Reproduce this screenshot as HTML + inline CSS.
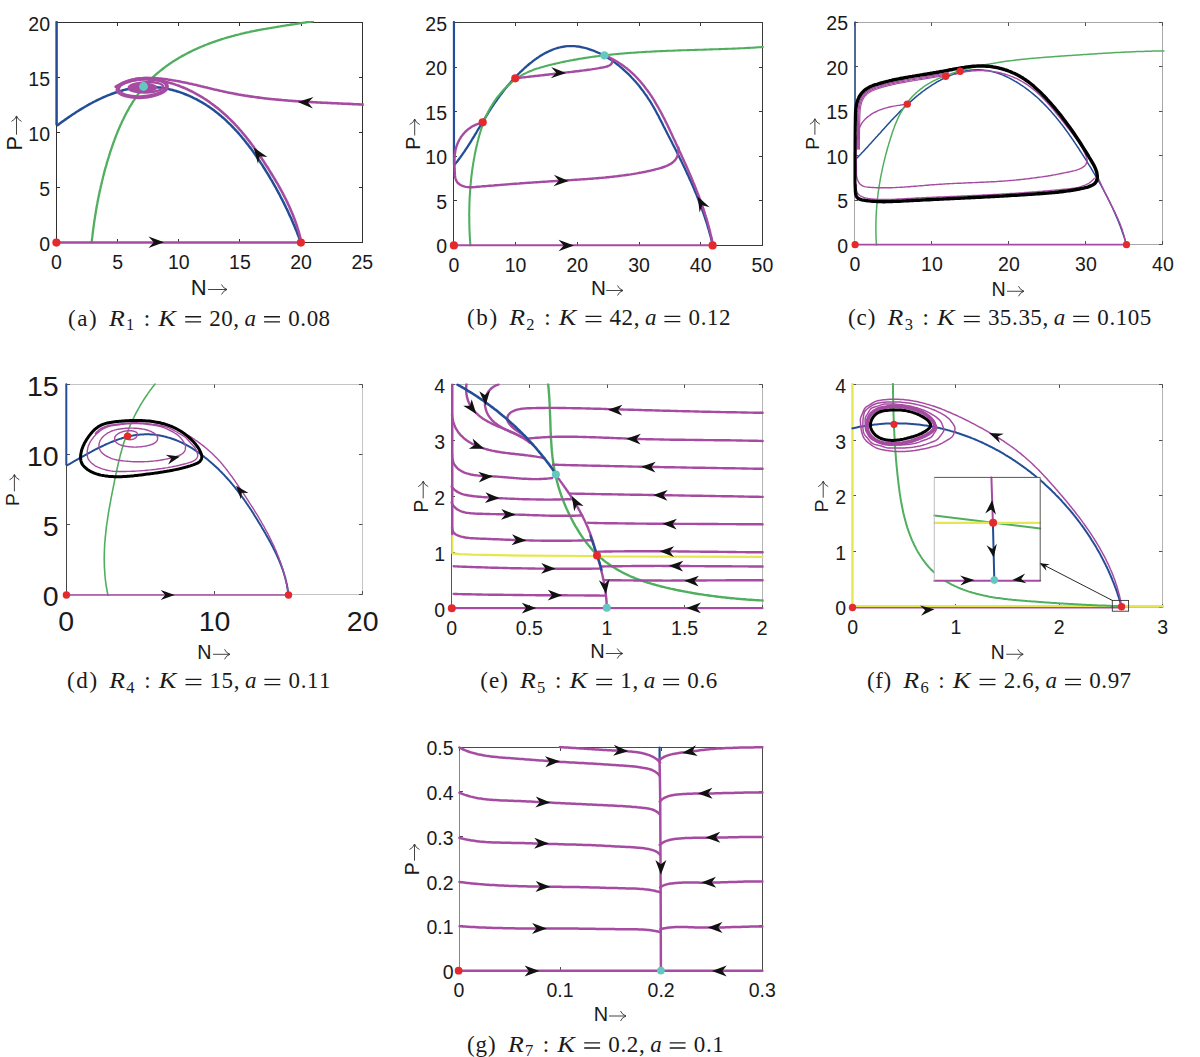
<!DOCTYPE html><html><head><meta charset="utf-8"><style>html,body{margin:0;padding:0;background:#fff;}svg{display:block;}</style></head><body><div id="w"><svg width="1200" height="1057" viewBox="0 0 1200 1057" font-family="Liberation Sans, sans-serif" fill="#1a1a1a"><g id="ax-a">
<rect x="56.50" y="22.50" width="306.00" height="220.00" fill="none" stroke="#303030" stroke-width="1"/>
<path d="M56.50 242.50v-3.5M56.50 22.50v3.5" stroke="#303030" stroke-width="1"/>
<text x="56.40" y="268.76" font-size="19.5" text-anchor="middle">0</text>
<path d="M117.50 242.50v-3.5M117.50 22.50v3.5" stroke="#303030" stroke-width="1"/>
<text x="117.58" y="268.76" font-size="19.5" text-anchor="middle">5</text>
<path d="M178.50 242.50v-3.5M178.50 22.50v3.5" stroke="#303030" stroke-width="1"/>
<text x="178.76" y="268.76" font-size="19.5" text-anchor="middle">10</text>
<path d="M239.50 242.50v-3.5M239.50 22.50v3.5" stroke="#303030" stroke-width="1"/>
<text x="239.94" y="268.76" font-size="19.5" text-anchor="middle">15</text>
<path d="M301.50 242.50v-3.5M301.50 22.50v3.5" stroke="#303030" stroke-width="1"/>
<text x="301.12" y="268.76" font-size="19.5" text-anchor="middle">20</text>
<path d="M362.50 242.50v-3.5M362.50 22.50v3.5" stroke="#303030" stroke-width="1"/>
<text x="362.30" y="268.76" font-size="19.5" text-anchor="middle">25</text>
<path d="M56.50 242.50h3.5M362.50 242.50h-3.5" stroke="#303030" stroke-width="1"/>
<text x="50.00" y="250.78" font-size="19.5" text-anchor="end">0</text>
<path d="M56.50 187.50h3.5M362.50 187.50h-3.5" stroke="#303030" stroke-width="1"/>
<text x="50.00" y="195.78" font-size="19.5" text-anchor="end">5</text>
<path d="M56.50 132.50h3.5M362.50 132.50h-3.5" stroke="#303030" stroke-width="1"/>
<text x="50.00" y="140.78" font-size="19.5" text-anchor="end">10</text>
<path d="M56.50 77.50h3.5M362.50 77.50h-3.5" stroke="#303030" stroke-width="1"/>
<text x="50.00" y="85.78" font-size="19.5" text-anchor="end">15</text>
<path d="M56.50 22.50h3.5M362.50 22.50h-3.5" stroke="#303030" stroke-width="1"/>
<text x="50.00" y="30.78" font-size="19.5" text-anchor="end">20</text>
<clipPath id="cl-a"><rect x="54.90" y="21.00" width="308.90" height="223.00"/></clipPath><g clip-path="url(#cl-a)"><path d="M56.6 22.0L56.6 124.3" fill="none" stroke="#234E96" stroke-width="2.5" stroke-linejoin="round" stroke-linecap="round" /><path d="M57.8 125.1L58.9 124.2L60.1 123.3L61.2 122.5L62.4 121.6L63.6 120.8L64.8 119.9L66.0 119.1L67.2 118.2L68.4 117.4L69.7 116.5L70.9 115.7L72.2 114.8L73.4 114.0L74.7 113.2L76.0 112.3L77.2 111.5L78.5 110.7L79.8 109.9L81.1 109.1L82.4 108.3L83.8 107.5L85.1 106.7L86.4 106.0L87.8 105.2L89.1 104.4L90.5 103.7L91.8 103.0L93.2 102.2L94.6 101.5L95.9 100.8L97.3 100.1L98.7 99.5L100.1 98.8L101.5 98.2L102.9 97.5L104.3 96.9L105.7 96.3L107.1 95.7L108.6 95.1L110.0 94.6L111.4 94.0L112.9 93.5L114.3 93.0L115.7 92.5L117.2 92.0L118.6 91.5L120.1 91.1L121.6 90.7L123.0 90.3L124.5 89.9L125.9 89.5L127.4 89.2L128.9 88.9L130.4 88.6L131.8 88.3L133.3 88.0L134.8 87.8L136.3 87.6L137.7 87.4L139.2 87.2L140.7 87.1L142.2 87.0L143.7 86.9L145.2 86.8L146.7 86.8L148.1 86.8L149.6 86.8L151.1 86.8L152.6 86.9L154.1 87.0L155.6 87.1L157.0 87.2L158.5 87.4L160.0 87.6L161.5 87.8L163.0 88.0L164.4 88.3L165.9 88.5L167.4 88.8L168.8 89.1L170.3 89.5L171.7 89.8L173.2 90.2L174.6 90.6L176.1 91.0L177.5 91.5L179.0 91.9L180.4 92.4L181.8 92.9L183.2 93.4L184.6 94.0L186.0 94.5L187.4 95.1L188.8 95.7L190.2 96.3L191.6 96.9L192.9 97.6L194.3 98.3L195.7 98.9L197.0 99.6L198.3 100.3L199.7 101.1L201.0 101.8L202.3 102.6L203.6 103.4L204.9 104.1L206.1 105.0L207.4 105.8L208.7 106.6L209.9 107.5L211.1 108.3L212.4 109.2L213.6 110.1L214.8 111.0L216.0 111.9L217.2 112.9L218.3 113.8L219.5 114.8L220.7 115.7L221.8 116.7L223.0 117.7L224.1 118.7L225.2 119.7L226.3 120.7L227.4 121.8L228.5 122.8L229.6 123.9L230.7 124.9L231.7 126.0L232.8 127.1L233.8 128.2L234.9 129.3L235.9 130.4L236.9 131.5L238.0 132.7L239.0 133.8L240.0 135.0L241.0 136.1L241.9 137.3L242.9 138.5L243.9 139.6L244.8 140.8L245.8 142.0L246.7 143.2L247.7 144.4L248.6 145.6L249.5 146.9L250.5 148.1L251.4 149.3L252.3 150.5L253.2 151.8L254.1 153.0L254.9 154.3L255.8 155.5L256.7 156.8L257.5 158.0L258.4 159.3L259.3 160.6L260.1 161.8L260.9 163.1L261.8 164.4L262.6 165.7L263.4 167.0L264.2 168.2L265.0 169.5L265.8 170.8L266.6 172.1L267.4 173.4L268.2 174.7L269.0 176.0L269.8 177.3L270.5 178.6L271.3 179.9L272.1 181.2L272.8 182.5L273.6 183.8L274.3 185.1L275.0 186.4L275.8 187.7L276.5 189.0L277.2 190.4L277.9 191.7L278.6 193.0L279.4 194.3L280.1 195.7L280.7 197.0L281.4 198.3L282.1 199.7L282.8 201.0L283.5 202.3L284.1 203.7L284.8 205.0L285.5 206.4L286.1 207.7L286.8 209.1L287.4 210.4L288.1 211.8L288.7 213.2L289.3 214.5L289.9 215.9L290.6 217.3L291.2 218.6L291.8 220.0L292.4 221.4L293.0 222.8L293.6 224.2L294.2 225.5L294.8 226.9L295.3 228.3L295.9 229.7L296.5 231.1L297.1 232.5L297.6 234.0L298.2 235.4L298.7 236.8L299.3 238.2L299.8 239.6L300.4 241.0L300.9 242.5" fill="none" stroke="#234E96" stroke-width="2.5" stroke-linejoin="round" stroke-linecap="round" /><path d="M91.7 242.4L91.8 240.9L92.0 239.4L92.2 237.9L92.4 236.4L92.5 234.9L92.7 233.4L92.9 231.9L93.1 230.4L93.3 228.9L93.5 227.4L93.7 225.9L93.9 224.4L94.1 222.9L94.3 221.5L94.5 220.0L94.8 218.5L95.0 217.0L95.2 215.5L95.5 214.0L95.7 212.5L96.0 211.1L96.2 209.6L96.5 208.1L96.7 206.6L97.0 205.1L97.3 203.7L97.5 202.2L97.8 200.7L98.1 199.2L98.4 197.8L98.7 196.3L99.0 194.8L99.3 193.4L99.6 191.9L99.9 190.4L100.3 189.0L100.6 187.5L100.9 186.0L101.3 184.6L101.6 183.1L102.0 181.6L102.3 180.2L102.7 178.7L103.0 177.2L103.4 175.8L103.8 174.3L104.2 172.9L104.5 171.4L104.9 169.9L105.3 168.5L105.7 167.0L106.2 165.6L106.6 164.1L107.0 162.6L107.4 161.2L107.9 159.7L108.3 158.3L108.8 156.8L109.2 155.4L109.7 153.9L110.1 152.4L110.6 151.0L111.1 149.5L111.6 148.1L112.1 146.6L112.6 145.2L113.1 143.7L113.6 142.3L114.1 140.9L114.7 139.4L115.2 138.0L115.7 136.6L116.3 135.1L116.9 133.7L117.4 132.3L118.0 130.9L118.6 129.5L119.2 128.1L119.8 126.7L120.4 125.3L121.1 123.9L121.7 122.5L122.3 121.1L123.0 119.8L123.7 118.4L124.3 117.0L125.0 115.7L125.7 114.3L126.4 113.0L127.1 111.7L127.9 110.4L128.6 109.0L129.3 107.7L130.1 106.4L130.9 105.1L131.7 103.9L132.4 102.6L133.2 101.3L134.1 100.1L134.9 98.8L135.7 97.6L136.6 96.4L137.4 95.1L138.3 93.9L139.2 92.7L140.1 91.6L141.0 90.4L141.9 89.2L142.9 88.1L143.8 86.9L144.8 85.8L145.8 84.7L146.8 83.6L147.8 82.5L148.8 81.4L149.8 80.4L150.9 79.3L151.9 78.3L153.0 77.2L154.1 76.2L155.2 75.2L156.3 74.2L157.4 73.2L158.5 72.3L159.7 71.3L160.8 70.4L162.0 69.5L163.2 68.5L164.4 67.6L165.6 66.7L166.8 65.8L168.0 65.0L169.2 64.1L170.5 63.3L171.7 62.4L173.0 61.6L174.3 60.8L175.5 60.0L176.8 59.2L178.1 58.4L179.4 57.6L180.7 56.9L182.0 56.1L183.4 55.4L184.7 54.7L186.0 54.0L187.4 53.3L188.7 52.6L190.1 51.9L191.4 51.2L192.8 50.5L194.2 49.9L195.6 49.2L197.0 48.6L198.4 48.0L199.8 47.4L201.2 46.8L202.6 46.2L204.0 45.6L205.4 45.0L206.8 44.5L208.3 43.9L209.7 43.4L211.1 42.9L212.6 42.3L214.0 41.8L215.4 41.3L216.9 40.8L218.3 40.3L219.8 39.9L221.2 39.4L222.7 38.9L224.1 38.5L225.6 38.0L227.0 37.6L228.5 37.2L229.9 36.8L231.4 36.4L232.9 36.0L234.3 35.6L235.8 35.2L237.3 34.8L238.7 34.5L240.2 34.1L241.7 33.7L243.1 33.4L244.6 33.0L246.1 32.7L247.6 32.4L249.0 32.1L250.5 31.7L252.0 31.4L253.5 31.1L254.9 30.8L256.4 30.5L257.9 30.2L259.4 30.0L260.8 29.7L262.3 29.4L263.8 29.1L265.3 28.9L266.8 28.6L268.3 28.3L269.7 28.1L271.2 27.8L272.7 27.6L274.2 27.3L275.7 27.1L277.2 26.8L278.7 26.6L280.1 26.4L281.6 26.1L283.1 25.9L284.6 25.7L286.1 25.4L287.6 25.2L289.1 25.0L290.6 24.7L292.0 24.5L293.5 24.3L295.0 24.1L296.5 23.8L298.0 23.6L299.5 23.4L301.0 23.2L302.5 22.9L303.9 22.7L305.4 22.5L306.9 22.2L308.4 22.0L309.9 21.8L311.4 21.6L312.9 21.3" fill="none" stroke="#50AF5F" stroke-width="2.3" stroke-linejoin="round" stroke-linecap="round" /><path d="M56.4 242.6L300.9 242.6" fill="none" stroke="#A64BA2" stroke-width="2.5" stroke-linejoin="round" stroke-linecap="round" /><ellipse cx="142.20" cy="88.00" rx="25.60" ry="9.80" transform="rotate(-4 142.20 88.00)" fill="none" stroke="#A64BA2" stroke-width="2.4"/><ellipse cx="142.50" cy="87.80" rx="23.60" ry="8.30" transform="rotate(-4 142.50 87.80)" fill="none" stroke="#A64BA2" stroke-width="2.2"/><ellipse cx="146.00" cy="87.30" rx="17.30" ry="5.20" transform="rotate(-2 146.00 87.30)" fill="none" stroke="#A64BA2" stroke-width="2.4"/><ellipse cx="142.8" cy="87.5" rx="14.5" ry="5.0" fill="#A64BA2"/><path d="M301.0 241.0L300.7 239.6L300.4 238.1L300.0 236.6L299.6 235.2L299.2 233.7L298.8 232.2L298.4 230.8L298.0 229.4L297.5 227.9L297.1 226.5L296.6 225.0L296.1 223.6L295.6 222.2L295.1 220.8L294.6 219.4L294.1 217.9L293.5 216.5L293.0 215.1L292.4 213.7L291.8 212.3L291.2 211.0L290.6 209.6L290.0 208.2L289.4 206.8L288.8 205.4L288.1 204.1L287.5 202.7L286.8 201.3L286.2 200.0L285.5 198.6L284.8 197.3L284.1 195.9L283.4 194.6L282.7 193.2L282.0 191.9L281.3 190.5L280.5 189.2L279.8 187.9L279.1 186.6L278.3 185.2L277.6 183.9L276.8 182.6L276.0 181.3L275.3 180.0L274.5 178.7L273.7 177.4L272.9 176.1L272.1 174.8L271.3 173.5L270.5 172.2L269.7 170.9L268.9 169.6L268.1 168.3L267.3 167.0L266.4 165.7L265.6 164.5L264.8 163.2L264.0 161.9L263.1 160.6L262.3 159.4L261.4 158.1L260.6 156.9L259.7 155.6L258.9 154.4L258.0 153.1L257.1 151.9L256.3 150.6L255.4 149.4L254.5 148.2L253.6 146.9L252.7 145.7L251.8 144.5L250.9 143.3L250.0 142.1L249.1 140.9L248.1 139.7L247.2 138.5L246.3 137.3L245.3 136.2L244.4 135.0L243.4 133.8L242.4 132.7L241.5 131.5L240.5 130.4L239.5 129.3L238.5 128.1L237.5 127.0L236.5 125.9L235.4 124.8L234.4 123.7L233.4 122.6L232.3 121.5L231.2 120.5L230.2 119.4L229.1 118.4L228.0 117.3L226.9 116.3L225.8 115.3L224.7 114.2L223.5 113.2L222.4 112.2L221.2 111.2L220.1 110.3L218.9 109.3L217.7 108.3L216.5 107.4L215.3 106.4L214.1 105.5L212.9 104.6L211.7 103.7L210.4 102.8L209.2 101.9L207.9 101.0L206.7 100.2L205.4 99.3L204.1 98.5L202.8 97.7L201.5 96.9L200.2 96.1L198.9 95.3L197.6 94.6L196.2 93.8L194.9 93.1L193.5 92.4L192.2 91.7L190.8 91.0L189.4 90.3L188.1 89.7L186.7 89.0L185.3 88.4L183.9 87.8L182.5 87.2L181.1 86.7L179.7 86.1L178.2 85.6L176.8 85.1L175.4 84.6L173.9 84.1L172.5 83.6L171.0 83.2L169.6 82.8L168.1 82.4L166.6 82.0L165.2 81.6L163.7 81.3L162.2 81.0L160.7 80.7L159.2 80.4L157.8 80.2L156.3 80.0L154.8 79.8L153.3 79.7L151.8 79.5L150.3 79.4L148.8 79.4L147.3 79.3L145.8 79.3L144.4 79.3L142.9 79.4L141.4 79.5L139.9 79.6L138.4 79.7L137.0 79.9L135.5 80.2L134.0 80.4L132.6 80.7L131.1 81.1L129.7 81.5L128.3 81.9L126.8 82.3L125.4 82.8L124.0 83.4L122.6 84.0L121.2 84.6L119.8 85.3L118.4 86.0L117.0 86.8" fill="none" stroke="#A64BA2" stroke-width="2.6" stroke-linejoin="round" stroke-linecap="round" /><path d="M363.6 104.6L362.0 104.5L360.5 104.5L359.0 104.4L357.5 104.3L355.9 104.2L354.4 104.2L352.9 104.1L351.4 104.0L349.9 103.9L348.3 103.9L346.8 103.8L345.3 103.7L343.8 103.7L342.3 103.6L340.7 103.5L339.2 103.5L337.7 103.4L336.2 103.3L334.7 103.2L333.1 103.2L331.6 103.1L330.1 103.0L328.6 103.0L327.1 102.9L325.5 102.8L324.0 102.8L322.5 102.7L321.0 102.6L319.5 102.5L318.0 102.5L316.4 102.4L314.9 102.3L313.4 102.2L311.9 102.1L310.4 102.0L308.9 102.0L307.4 101.9L305.8 101.8L304.3 101.7L302.8 101.6L301.3 101.5L299.8 101.4L298.3 101.3L296.8 101.2L295.3 101.1L293.7 101.0L292.2 100.9L290.7 100.8L289.2 100.7L287.7 100.5L286.2 100.4L284.7 100.3L283.2 100.2L281.7 100.0L280.2 99.9L278.7 99.8L277.1 99.6L275.6 99.5L274.1 99.3L272.6 99.2L271.1 99.0L269.6 98.9L268.1 98.7L266.6 98.5L265.1 98.4L263.6 98.2L262.1 98.0L260.6 97.8L259.1 97.6L257.6 97.4L256.1 97.2L254.6 97.0L253.1 96.8L251.6 96.6L250.1 96.4L248.6 96.1L247.1 95.9L245.6 95.7L244.1 95.4L242.6 95.2L241.1 94.9L239.6 94.7L238.1 94.4L236.6 94.1L235.1 93.9L233.7 93.6L232.2 93.3L230.7 93.0L229.2 92.7L227.7 92.4L226.2 92.1L224.7 91.7L223.2 91.4L221.7 91.1L220.2 90.8L218.8 90.4L217.3 90.1L215.8 89.7L214.3 89.4L212.8 89.0L211.3 88.7L209.8 88.3L208.3 88.0L206.9 87.6L205.4 87.3L203.9 86.9L202.4 86.5L200.9 86.2L199.4 85.8L197.9 85.5L196.4 85.1L195.0 84.8L193.5 84.5L192.0 84.1L190.5 83.8L189.0 83.5L187.5 83.1L186.0 82.8L184.5 82.5L183.0 82.2L181.5 81.9L180.1 81.6L178.6 81.3L177.1 81.0L175.6 80.8L174.1 80.5L172.6 80.3L171.1 80.0L169.6 79.8L168.1 79.6L166.6 79.3L165.1 79.1L163.6 79.0L162.1 78.8L160.6 78.6L159.1 78.5L157.6 78.3L156.1 78.2L154.6 78.1L153.1 78.1L151.6 78.0L150.1 78.0L148.6 78.0L147.1 78.0L145.6 78.0L144.1 78.1L142.6 78.2L141.2 78.3L139.7 78.5L138.2 78.6L136.8 78.9L135.3 79.1L133.9 79.4L132.4 79.7L131.0 80.1L129.5 80.5L128.1 80.9L126.7 81.4L125.3 81.9L123.9 82.4L122.5 83.0L121.1 83.7L119.7 84.4L118.4 85.1L117.0 85.9L115.7 86.7" fill="none" stroke="#A64BA2" stroke-width="2.6" stroke-linejoin="round" stroke-linecap="round" /></g><path d="M164.00 242.30L148.50 248.10L153.70 242.30L148.50 236.50Z" fill="#111111"/><path d="M253.80 147.70L267.43 157.08L259.70 156.14L257.93 163.73Z" fill="#111111"/><path d="M297.70 102.10L313.44 96.98L307.99 102.55L312.93 108.57Z" fill="#111111"/><circle cx="56.40" cy="242.60" r="4.1" fill="#E52A2E"/><circle cx="300.90" cy="242.60" r="4.1" fill="#E52A2E"/><circle cx="143.50" cy="86.50" r="4.4" fill="#64C8BE"/>
<text x="190.82" y="294.95" font-size="22.0">N</text><path d="M208.00 289.50H226.40M221.50 284.50Q223.15 288.25 227.00 289.50Q223.15 290.75 221.50 294.50" stroke="#222" stroke-width="0.85" fill="none"/>
<g transform="translate(21.90,148.60) rotate(-90)"><text x="-1.88" y="-0.3" font-size="21.5">P</text><path d="M13.90 -5.40H32.10M27.20 -10.40Q28.85 -6.65 32.70 -5.40Q28.85 -4.15 27.20 -0.40" stroke="#222" stroke-width="0.85" fill="none"/></g>
<g font-family="Liberation Serif, serif" font-size="23.0"><text x="71.74" y="325.60" text-anchor="middle">(</text><text x="82.34" y="325.60" text-anchor="middle">a</text><text x="92.94" y="325.60" text-anchor="middle">)</text><text x="108.91" y="325.60" font-style="italic" textLength="15.8" lengthAdjust="spacingAndGlyphs">R</text><text x="130.16" y="329.90" text-anchor="middle" font-size="16.5">1</text><text x="147.05" y="325.60" text-anchor="middle">:</text><text x="158.39" y="325.60" font-style="italic" textLength="17.6" lengthAdjust="spacingAndGlyphs">K</text><path d="M185.20 316.70H201.08M185.20 321.90H201.08" stroke="#1a1a1a" stroke-width="1.35"/><text x="215.01" y="325.60" text-anchor="middle">2</text><text x="226.93" y="325.60" text-anchor="middle">0</text><text x="236.21" y="325.60" text-anchor="middle">,</text><text x="250.31" y="325.60" text-anchor="middle" font-style="italic">a</text><path d="M264.08 316.70H279.96M264.08 321.90H279.96" stroke="#1a1a1a" stroke-width="1.35"/><text x="293.88" y="325.60" text-anchor="middle">0</text><text x="303.16" y="325.60" text-anchor="middle">.</text><text x="312.44" y="325.60" text-anchor="middle">0</text><text x="324.37" y="325.60" text-anchor="middle">8</text></g>
</g>
<g id="ax-b">
<rect x="453.50" y="22.50" width="309.00" height="223.00" fill="none" stroke="#3a3a3a" stroke-width="1"/>
<path d="M453.50 245.50v-3.5M453.50 22.50v3.5" stroke="#3a3a3a" stroke-width="1"/>
<text x="453.90" y="271.76" font-size="19.5" text-anchor="middle">0</text>
<path d="M515.50 245.50v-3.5M515.50 22.50v3.5" stroke="#3a3a3a" stroke-width="1"/>
<text x="515.60" y="271.76" font-size="19.5" text-anchor="middle">10</text>
<path d="M577.50 245.50v-3.5M577.50 22.50v3.5" stroke="#3a3a3a" stroke-width="1"/>
<text x="577.30" y="271.76" font-size="19.5" text-anchor="middle">20</text>
<path d="M639.50 245.50v-3.5M639.50 22.50v3.5" stroke="#3a3a3a" stroke-width="1"/>
<text x="639.00" y="271.76" font-size="19.5" text-anchor="middle">30</text>
<path d="M700.50 245.50v-3.5M700.50 22.50v3.5" stroke="#3a3a3a" stroke-width="1"/>
<text x="700.70" y="271.76" font-size="19.5" text-anchor="middle">40</text>
<path d="M762.50 245.50v-3.5M762.50 22.50v3.5" stroke="#3a3a3a" stroke-width="1"/>
<text x="762.40" y="271.76" font-size="19.5" text-anchor="middle">50</text>
<path d="M453.50 245.50h3.5M762.50 245.50h-3.5" stroke="#3a3a3a" stroke-width="1"/>
<text x="447.00" y="253.28" font-size="19.5" text-anchor="end">0</text>
<path d="M453.50 200.50h3.5M762.50 200.50h-3.5" stroke="#3a3a3a" stroke-width="1"/>
<text x="447.00" y="208.78" font-size="19.5" text-anchor="end">5</text>
<path d="M453.50 156.50h3.5M762.50 156.50h-3.5" stroke="#3a3a3a" stroke-width="1"/>
<text x="447.00" y="164.28" font-size="19.5" text-anchor="end">10</text>
<path d="M453.50 111.50h3.5M762.50 111.50h-3.5" stroke="#3a3a3a" stroke-width="1"/>
<text x="447.00" y="119.78" font-size="19.5" text-anchor="end">15</text>
<path d="M453.50 67.50h3.5M762.50 67.50h-3.5" stroke="#3a3a3a" stroke-width="1"/>
<text x="447.00" y="75.28" font-size="19.5" text-anchor="end">20</text>
<path d="M453.50 22.50h3.5M762.50 22.50h-3.5" stroke="#3a3a3a" stroke-width="1"/>
<text x="447.00" y="30.78" font-size="19.5" text-anchor="end">25</text>
<clipPath id="cl-b"><rect x="452.40" y="21.00" width="311.50" height="225.50"/></clipPath><g clip-path="url(#cl-b)"><path d="M453.9 22.0L453.9 164.3" fill="none" stroke="#234E96" stroke-width="2.3" stroke-linejoin="round" stroke-linecap="round" /><path d="M454.5 164.8L455.5 163.6L456.4 162.4L457.4 161.2L458.3 160.0L459.2 158.8L460.1 157.6L461.0 156.3L461.9 155.1L462.7 153.9L463.6 152.6L464.5 151.4L465.3 150.1L466.1 148.9L467.0 147.6L467.8 146.4L468.6 145.1L469.4 143.8L470.2 142.6L471.0 141.3L471.8 140.0L472.6 138.7L473.4 137.4L474.2 136.1L474.9 134.9L475.7 133.6L476.5 132.3L477.2 131.0L478.0 129.7L478.8 128.4L479.6 127.1L480.3 125.8L481.1 124.5L481.9 123.2L482.7 121.9L483.4 120.7L484.2 119.4L485.0 118.1L485.8 116.8L486.6 115.5L487.4 114.3L488.2 113.0L489.0 111.7L489.8 110.4L490.6 109.2L491.4 107.9L492.2 106.7L493.1 105.4L493.9 104.2L494.8 102.9L495.6 101.7L496.5 100.5L497.4 99.2L498.2 98.0L499.1 96.8L500.0 95.6L500.9 94.4L501.8 93.2L502.7 92.0L503.6 90.8L504.6 89.6L505.5 88.4L506.5 87.3L507.4 86.1L508.4 85.0L509.4 83.8L510.4 82.7L511.3 81.5L512.4 80.4L513.4 79.3L514.4 78.2L515.4 77.1L516.5 76.0L517.5 74.9L518.6 73.8L519.7 72.7L520.8 71.7L521.9 70.6L523.0 69.6L524.1 68.5L525.2 67.5L526.4 66.5L527.5 65.5L528.7 64.5L529.9 63.5L531.1 62.6L532.3 61.6L533.5 60.7L534.7 59.8L536.0 58.9L537.2 58.0L538.5 57.2L539.7 56.3L541.0 55.5L542.3 54.7L543.6 54.0L544.9 53.3L546.2 52.6L547.6 51.9L548.9 51.2L550.3 50.6L551.6 50.1L553.0 49.5L554.4 49.0L555.8 48.5L557.2 48.1L558.6 47.7L560.0 47.4L561.4 47.0L562.8 46.8L564.3 46.5L565.7 46.3L567.2 46.2L568.7 46.1L570.2 46.1L571.6 46.1L573.1 46.1L574.6 46.2L576.1 46.3L577.6 46.5L579.2 46.7L580.7 47.0L582.2 47.3L583.7 47.6L585.2 48.0L586.7 48.4L588.1 48.8L589.6 49.3L591.1 49.8L592.5 50.3L594.0 50.9L595.4 51.5L596.8 52.1L598.2 52.7L599.6 53.3L601.0 54.0L602.3 54.7L603.7 55.4L605.0 56.2L606.3 56.9L607.6 57.7L608.8 58.5L610.1 59.3L611.4 60.1L612.6 61.0L613.8 61.8L615.0 62.7L616.2 63.6L617.4 64.5L618.6 65.4L619.8 66.4L620.9 67.3L622.1 68.3L623.2 69.3L624.3 70.3L625.4 71.3L626.5 72.3L627.6 73.4L628.7 74.4L629.8 75.5L630.8 76.6L631.8 77.7L632.9 78.8L633.9 79.9L634.9 81.0L635.9 82.1L636.9 83.3L637.9 84.4L638.8 85.6L639.8 86.8L640.7 88.0L641.6 89.2L642.6 90.4L643.5 91.6L644.3 92.8L645.2 94.1L646.1 95.3L647.0 96.5L647.8 97.8L648.6 99.1L649.5 100.3L650.3 101.6L651.1 102.9L651.8 104.2L652.6 105.5L653.4 106.8L654.1 108.1L654.9 109.4L655.6 110.7L656.3 112.0L657.0 113.4L657.7 114.7L658.5 116.0L659.1 117.4L659.8 118.7L660.5 120.0L661.2 121.4L661.9 122.7L662.6 124.1L663.2 125.4L663.9 126.8L664.6 128.1L665.3 129.5L666.0 130.8L666.6 132.1L667.3 133.5L668.0 134.8L668.7 136.2L669.4 137.5L670.1 138.8L670.8 140.2L671.5 141.5L672.2 142.9L672.8 144.2L673.5 145.6L674.2 146.9L674.9 148.2L675.6 149.6L676.3 150.9L676.9 152.3L677.6 153.6L678.3 155.0L679.0 156.3L679.6 157.7L680.3 159.1L681.0 160.4L681.6 161.8L682.3 163.1L682.9 164.5L683.6 165.8L684.2 167.2L684.9 168.6L685.5 169.9L686.2 171.3L686.8 172.7L687.4 174.1L688.1 175.4L688.7 176.8L689.3 178.2L689.9 179.6L690.6 180.9L691.2 182.3L691.8 183.7L692.4 185.1L693.0 186.5L693.6 187.9L694.2 189.3L694.7 190.7L695.3 192.1L695.9 193.4L696.5 194.8L697.0 196.2L697.6 197.6L698.1 199.1L698.7 200.5L699.2 201.9L699.8 203.3L700.3 204.7L700.8 206.1L701.4 207.5L701.9 208.9L702.4 210.4L702.9 211.8L703.4 213.2L703.9 214.6L704.4 216.1L704.9 217.5L705.3 218.9L705.8 220.4L706.3 221.8L706.7 223.2L707.2 224.7L707.6 226.1L708.0 227.6L708.5 229.0L708.9 230.5L709.3 231.9L709.7 233.4L710.1 234.8L710.5 236.3L710.9 237.7L711.3 239.2L711.6 240.7L712.0 242.1L712.4 243.6L712.7 245.1" fill="none" stroke="#234E96" stroke-width="2.3" stroke-linejoin="round" stroke-linecap="round" /><path d="M470.4 245.4L470.3 243.9L470.2 242.5L470.1 241.0L470.0 239.5L469.9 238.0L469.8 236.5L469.7 235.0L469.7 233.6L469.6 232.1L469.5 230.6L469.5 229.1L469.4 227.6L469.4 226.1L469.4 224.6L469.3 223.1L469.3 221.6L469.3 220.1L469.3 218.6L469.3 217.1L469.2 215.6L469.2 214.0L469.3 212.5L469.3 211.0L469.3 209.5L469.3 208.0L469.4 206.5L469.4 205.0L469.4 203.5L469.5 202.0L469.6 200.5L469.6 199.0L469.7 197.4L469.8 195.9L469.9 194.4L470.0 192.9L470.1 191.4L470.2 189.9L470.3 188.4L470.4 186.9L470.5 185.4L470.7 183.9L470.8 182.4L471.0 180.8L471.1 179.3L471.3 177.8L471.4 176.3L471.6 174.8L471.8 173.3L472.0 171.8L472.2 170.3L472.4 168.8L472.6 167.3L472.9 165.9L473.1 164.4L473.3 162.9L473.6 161.4L473.8 159.9L474.1 158.4L474.4 156.9L474.6 155.4L474.9 154.0L475.2 152.5L475.5 151.0L475.8 149.6L476.2 148.1L476.5 146.6L476.8 145.2L477.2 143.7L477.5 142.2L477.9 140.8L478.3 139.3L478.6 137.9L479.0 136.4L479.4 135.0L479.8 133.6L480.3 132.1L480.7 130.7L481.1 129.3L481.6 127.8L482.1 126.4L482.6 125.0L483.1 123.6L483.6 122.2L484.1 120.8L484.7 119.4L485.3 118.1L485.9 116.7L486.5 115.3L487.1 114.0L487.8 112.6L488.5 111.3L489.2 109.9L489.9 108.6L490.7 107.3L491.5 106.0L492.3 104.7L493.1 103.4L493.9 102.1L494.8 100.9L495.6 99.6L496.5 98.4L497.4 97.2L498.4 96.0L499.3 94.8L500.3 93.6L501.3 92.5L502.3 91.3L503.3 90.2L504.4 89.1L505.4 88.0L506.5 87.0L507.6 85.9L508.7 84.9L509.8 83.9L511.0 82.9L512.1 81.9L513.3 81.0L514.5 80.1L515.7 79.2L517.0 78.3L518.2 77.5L519.5 76.7L520.7 75.9L522.0 75.1L523.3 74.4L524.6 73.7L526.0 73.1L527.3 72.4L528.7 71.8L530.0 71.2L531.4 70.7L532.8 70.1L534.2 69.6L535.6 69.1L537.1 68.6L538.5 68.2L539.9 67.7L541.4 67.3L542.8 66.9L544.3 66.5L545.7 66.1L547.2 65.7L548.6 65.3L550.1 64.9L551.6 64.6L553.0 64.2L554.5 63.9L556.0 63.5L557.4 63.2L558.9 62.9L560.4 62.5L561.8 62.2L563.3 61.9L564.8 61.6L566.3 61.3L567.7 61.0L569.2 60.7L570.7 60.4L572.2 60.2L573.7 59.9L575.1 59.6L576.6 59.4L578.1 59.1L579.6 58.8L581.1 58.6L582.5 58.4L584.0 58.1L585.5 57.9L587.0 57.7L588.5 57.4L590.0 57.2L591.5 57.0L593.0 56.8L594.4 56.6L595.9 56.4L597.4 56.2L598.9 56.0L600.4 55.8L601.9 55.6L603.4 55.5L604.9 55.3L606.4 55.1L607.9 55.0L609.4 54.8L610.9 54.6L612.4 54.5L613.9 54.3L615.4 54.2L616.9 54.0L618.4 53.9L619.9 53.8L621.4 53.6L622.9 53.5L624.4 53.4L625.9 53.3L627.4 53.1L628.9 53.0L630.4 52.9L631.9 52.8L633.4 52.7L634.9 52.6L636.4 52.5L637.9 52.4L639.4 52.3L640.9 52.2L642.4 52.1L643.9 52.0L645.5 51.9L647.0 51.8L648.5 51.7L650.0 51.7L651.5 51.6L653.0 51.5L654.5 51.4L656.0 51.4L657.5 51.3L659.0 51.2L660.5 51.1L662.0 51.1L663.6 51.0L665.1 51.0L666.6 50.9L668.1 50.8L669.6 50.8L671.1 50.7L672.6 50.7L674.1 50.6L675.6 50.5L677.1 50.5L678.7 50.4L680.2 50.4L681.7 50.3L683.2 50.3L684.7 50.2L686.2 50.2L687.7 50.1L689.2 50.1L690.7 50.0L692.2 50.0L693.8 50.0L695.3 49.9L696.8 49.9L698.3 49.8L699.8 49.8L701.3 49.7L702.8 49.7L704.3 49.6L705.8 49.6L707.3 49.5L708.8 49.5L710.3 49.4L711.9 49.4L713.4 49.3L714.9 49.3L716.4 49.3L717.9 49.2L719.4 49.1L720.9 49.1L722.4 49.0L723.9 49.0L725.4 48.9L726.9 48.9L728.4 48.8L729.9 48.8L731.4 48.7L732.9 48.6L734.4 48.6L735.9 48.5L737.4 48.5L738.9 48.4L740.4 48.3L741.9 48.2L743.4 48.2L744.9 48.1L746.4 48.0L747.9 47.9L749.4 47.9L750.9 47.8L752.4 47.7L753.9 47.6L755.4 47.5L756.9 47.4L758.4 47.3L759.9 47.2L761.4 47.1L762.9 47.0" fill="none" stroke="#50AF5F" stroke-width="2.1" stroke-linejoin="round" stroke-linecap="round" /><path d="M453.9 245.4L712.6 245.4" fill="none" stroke="#A64BA2" stroke-width="2.3" stroke-linejoin="round" stroke-linecap="round" /><path d="M483.0 122.6L481.4 122.9L479.8 123.3L478.3 123.8L476.8 124.3L475.4 124.9L474.0 125.6L472.6 126.3L471.3 127.1L470.1 127.9L468.9 128.7L467.7 129.7L466.6 130.6L465.5 131.6L464.5 132.7L463.5 133.8L462.6 134.9L461.7 136.1L460.8 137.3L460.1 138.6L459.3 139.8L458.6 141.2L458.0 142.5L457.4 143.9L456.9 145.2L456.4 146.7L456.0 148.1L455.6 149.5L455.3 151.0L455.1 152.5L454.9 154.0L454.7 155.5L454.6 157.0L454.5 158.5L454.5 160.1L454.5 161.6L454.5 163.2L454.5 164.8L454.5 166.3L454.6 167.9L454.7 169.5L454.7 171.0L454.8 172.6L454.9 174.2L455.0 175.7L455.2 177.2L455.5 178.6L456.0 179.9L456.6 181.1L457.3 182.3L458.3 183.3L459.4 184.2L460.6 185.0L461.9 185.7L463.3 186.2L464.8 186.6L466.2 186.9L467.7 187.1L469.3 187.2L470.8 187.2L472.4 187.2L473.9 187.1L475.5 187.0L477.1 186.8L478.6 186.7L480.2 186.6L481.7 186.4L483.2 186.3L484.8 186.2L486.3 186.1L487.8 185.9L489.3 185.8L490.8 185.7L492.3 185.6L493.8 185.5L495.3 185.3L496.7 185.2L498.2 185.1L499.7 185.0L501.2 184.9L502.7 184.7L504.2 184.6L505.7 184.5L507.2 184.4L508.7 184.3L510.2 184.1L511.7 184.0L513.2 183.9L514.7 183.8L516.2 183.7L517.7 183.6L519.3 183.5L520.8 183.3L522.3 183.2L523.8 183.1L525.3 183.0L526.8 182.9L528.3 182.8L529.8 182.7L531.3 182.6L532.8 182.5L534.4 182.4L535.9 182.3L537.4 182.2L538.9 182.1L540.4 182.0L541.9 181.9L543.4 181.8L545.0 181.7L546.5 181.6L548.0 181.5L549.5 181.4L551.0 181.3L552.5 181.2L554.1 181.1L555.6 181.0L557.1 180.9L558.6 180.9L560.1 180.8L561.6 180.7L563.1 180.6L564.7 180.5L566.2 180.4L567.7 180.3L569.2 180.2L570.7 180.1L572.2 180.0L573.8 179.9L575.3 179.8L576.8 179.7L578.3 179.6L579.8 179.5L581.3 179.4L582.8 179.3L584.3 179.2L585.8 179.1L587.4 179.0L588.9 178.9L590.4 178.8L591.9 178.7L593.4 178.5L594.9 178.4L596.4 178.3L597.9 178.2L599.4 178.0L600.9 177.9L602.4 177.8L603.9 177.6L605.4 177.5L606.9 177.3L608.4 177.2L609.9 177.0L611.4 176.9L612.9 176.7L614.4 176.5L615.9 176.4L617.4 176.2L618.9 176.0L620.4 175.8L621.8 175.6L623.3 175.4L624.8 175.2L626.3 175.0L627.8 174.8L629.3 174.6L630.8 174.4L632.3 174.1L633.8 173.9L635.2 173.6L636.7 173.4L638.2 173.1L639.7 172.8L641.2 172.6L642.7 172.3L644.2 172.0L645.7 171.7L647.2 171.3L648.7 171.0L650.2 170.7L651.7 170.3L653.2 170.0L654.7 169.6L656.2 169.2L657.8 168.8L659.3 168.4L660.8 168.0L662.3 167.5L663.7 167.0L665.2 166.5L666.6 165.9L667.9 165.3L669.2 164.6L670.5 163.9L671.7 163.2L672.8 162.3L673.8 161.4L674.8 160.4L675.6 159.4L676.4 158.2L677.0 157.0L677.5 155.6L678.0 154.2L678.2 152.7L678.4 151.0L678.4 149.2L678.3 147.4" fill="none" stroke="#A64BA2" stroke-width="2.4" stroke-linejoin="round" stroke-linecap="round" /><path d="M713.0 245.1L712.7 243.6L712.4 242.1L712.1 240.6L711.8 239.1L711.5 237.6L711.1 236.1L710.8 234.7L710.4 233.2L710.1 231.7L709.7 230.2L709.3 228.8L708.9 227.3L708.5 225.8L708.1 224.4L707.7 222.9L707.3 221.5L706.9 220.0L706.5 218.6L706.0 217.1L705.6 215.7L705.1 214.3L704.7 212.8L704.2 211.4L703.7 210.0L703.2 208.5L702.8 207.1L702.3 205.7L701.8 204.3L701.3 202.9L700.8 201.5L700.3 200.0L699.7 198.6L699.2 197.2L698.7 195.8L698.2 194.4L697.6 193.0L697.1 191.6L696.5 190.2L696.0 188.8L695.4 187.4L694.8 186.0L694.3 184.6L693.7 183.3L693.1 181.9L692.6 180.5L692.0 179.1L691.4 177.7L690.8 176.3L690.2 174.9L689.6 173.5L689.0 172.2L688.4 170.8L687.8 169.4L687.2 168.0L686.6 166.6L686.0 165.3L685.4 163.9L684.7 162.5L684.1 161.1L683.5 159.7L682.9 158.4L682.2 157.0L681.6 155.6L681.0 154.2L680.4 152.9L679.7 151.5L679.1 150.1L678.5 148.7L677.8 147.3L677.2 146.0L676.5 144.6L675.9 143.2L675.3 141.8L674.6 140.4L674.0 139.1L673.3 137.7L672.7 136.3L672.0 134.9L671.4 133.5L670.7 132.1L670.1 130.8L669.4 129.4L668.8 128.0L668.1 126.6L667.5 125.2L666.8 123.9L666.1 122.5L665.4 121.1L664.8 119.8L664.1 118.4L663.4 117.1L662.7 115.7L662.0 114.4L661.3 113.0L660.6 111.7L659.8 110.4L659.1 109.0L658.4 107.7L657.6 106.4L656.9 105.1L656.1 103.8L655.3 102.5L654.6 101.2L653.8 99.9L653.0 98.7L652.2 97.4L651.4 96.2L650.5 94.9L649.7 93.7L648.9 92.5L648.0 91.2L647.1 90.0L646.2 88.9L645.3 87.7L644.4 86.5L643.5 85.3L642.6 84.2L641.6 83.0L640.7 81.9L639.7 80.8L638.7 79.7L637.7 78.6L636.7 77.5L635.7 76.5L634.6 75.4L633.6 74.4L632.5 73.4L631.4 72.4L630.3 71.4L629.2 70.4L628.0 69.4L626.9 68.5L625.7 67.6L624.5 66.7L623.3 65.8L622.1 64.9L620.8 64.0L619.5 63.2L618.3 62.4L616.9 61.5L615.6 60.8L614.3 60.0L612.9 59.2L611.5 58.5L610.1 57.8L608.7 57.1L607.2 56.4L605.7 55.8L604.2 55.1" fill="none" stroke="#A64BA2" stroke-width="2.4" stroke-linejoin="round" stroke-linecap="round" /><path d="M515.3 78.3L516.8 78.1L518.3 77.9L519.9 77.8L521.4 77.6L522.9 77.4L524.5 77.2L526.0 77.1L527.5 76.9L529.0 76.7L530.6 76.5L532.1 76.4L533.6 76.2L535.1 76.0L536.6 75.9L538.2 75.7L539.7 75.5L541.2 75.4L542.7 75.2L544.3 75.0L545.8 74.8L547.3 74.7L548.8 74.5L550.3 74.3L551.9 74.2L553.4 74.0L554.9 73.8L556.4 73.6L557.9 73.5L559.4 73.3L561.0 73.1L562.5 73.0L564.0 72.8L565.5 72.6L567.0 72.4L568.6 72.2L570.1 72.1L571.6 71.9L573.1 71.7L574.6 71.5L576.1 71.3L577.7 71.2L579.2 71.0L580.7 70.8L582.2 70.6L583.8 70.4L585.3 70.2L586.8 70.0L588.3 69.8L589.9 69.6L591.4 69.4L593.0 69.1L594.5 68.9L596.1 68.6L597.6 68.4L599.2 68.1L600.8 67.8L602.3 67.6L603.9 67.2L605.4 66.9L606.8 66.5L608.2 66.0L609.4 65.5L610.4 64.8L611.2 64.1L611.8 63.2L612.2 62.1L612.3 60.9L612.0 59.6" fill="none" stroke="#A64BA2" stroke-width="2.4" stroke-linejoin="round" stroke-linecap="round" /></g><path d="M566.00 73.00L550.88 78.37L556.20 72.79L551.13 66.97Z" fill="#111111"/><path d="M568.70 181.00L553.51 186.18L558.91 180.66L553.91 174.78Z" fill="#111111"/><path d="M574.00 245.50L558.50 251.30L563.70 245.50L558.50 239.70Z" fill="#111111"/><path d="M697.70 196.50L709.70 207.15L702.24 205.18L699.60 212.43Z" fill="#111111"/><circle cx="453.90" cy="245.40" r="4.1" fill="#E52A2E"/><circle cx="712.60" cy="245.40" r="4.1" fill="#E52A2E"/><circle cx="482.70" cy="122.30" r="4.1" fill="#E52A2E"/><circle cx="515.30" cy="78.30" r="4.1" fill="#E52A2E"/><circle cx="604.40" cy="55.40" r="4.2" fill="#64C8BE"/>
<text x="590.95" y="295.30" font-size="20.6">N</text><path d="M606.25 290.50H622.40M617.50 285.50Q619.15 289.25 623.00 290.50Q619.15 291.75 617.50 295.50" stroke="#222" stroke-width="0.85" fill="none"/>
<g transform="translate(419.90,148.00) rotate(-90)"><text x="-1.72" y="-0.3" font-size="19.6">P</text><path d="M12.50 -5.20H28.40M23.50 -10.20Q25.15 -6.45 29.00 -5.20Q25.15 -3.95 23.50 -0.20" stroke="#222" stroke-width="0.85" fill="none"/></g>
<g font-family="Liberation Serif, serif" font-size="23.0"><text x="470.74" y="325.30" text-anchor="middle">(</text><text x="482.01" y="325.30" text-anchor="middle">b</text><text x="493.28" y="325.30" text-anchor="middle">)</text><text x="509.24" y="325.30" font-style="italic" textLength="15.8" lengthAdjust="spacingAndGlyphs">R</text><text x="530.49" y="329.60" text-anchor="middle" font-size="16.5">2</text><text x="547.38" y="325.30" text-anchor="middle">:</text><text x="558.72" y="325.30" font-style="italic" textLength="17.6" lengthAdjust="spacingAndGlyphs">K</text><path d="M585.53 316.40H601.42M585.53 321.60H601.42" stroke="#1a1a1a" stroke-width="1.35"/><text x="615.34" y="325.30" text-anchor="middle">4</text><text x="627.27" y="325.30" text-anchor="middle">2</text><text x="636.54" y="325.30" text-anchor="middle">,</text><text x="650.64" y="325.30" text-anchor="middle" font-style="italic">a</text><path d="M664.41 316.40H680.30M664.41 321.60H680.30" stroke="#1a1a1a" stroke-width="1.35"/><text x="694.22" y="325.30" text-anchor="middle">0</text><text x="703.50" y="325.30" text-anchor="middle">.</text><text x="712.78" y="325.30" text-anchor="middle">1</text><text x="724.70" y="325.30" text-anchor="middle">2</text></g>
</g>
<g id="ax-c">
<rect x="854.50" y="22.50" width="308.00" height="222.00" fill="none" stroke="#a8a8a8" stroke-width="1"/>
<path d="M854.50 244.50v-3.5M854.50 22.50v3.5" stroke="#505050" stroke-width="1"/>
<text x="854.90" y="270.76" font-size="19.5" text-anchor="middle">0</text>
<path d="M931.50 244.50v-3.5M931.50 22.50v3.5" stroke="#505050" stroke-width="1"/>
<text x="931.90" y="270.76" font-size="19.5" text-anchor="middle">10</text>
<path d="M1008.50 244.50v-3.5M1008.50 22.50v3.5" stroke="#505050" stroke-width="1"/>
<text x="1008.90" y="270.76" font-size="19.5" text-anchor="middle">20</text>
<path d="M1085.50 244.50v-3.5M1085.50 22.50v3.5" stroke="#505050" stroke-width="1"/>
<text x="1085.90" y="270.76" font-size="19.5" text-anchor="middle">30</text>
<path d="M1162.50 244.50v-3.5M1162.50 22.50v3.5" stroke="#505050" stroke-width="1"/>
<text x="1162.90" y="270.76" font-size="19.5" text-anchor="middle">40</text>
<path d="M854.50 244.50h3.5M1162.50 244.50h-3.5" stroke="#505050" stroke-width="1"/>
<text x="848.00" y="252.98" font-size="19.5" text-anchor="end">0</text>
<path d="M854.50 200.50h3.5M1162.50 200.50h-3.5" stroke="#505050" stroke-width="1"/>
<text x="848.00" y="208.48" font-size="19.5" text-anchor="end">5</text>
<path d="M854.50 155.50h3.5M1162.50 155.50h-3.5" stroke="#505050" stroke-width="1"/>
<text x="848.00" y="163.98" font-size="19.5" text-anchor="end">10</text>
<path d="M854.50 111.50h3.5M1162.50 111.50h-3.5" stroke="#505050" stroke-width="1"/>
<text x="848.00" y="119.48" font-size="19.5" text-anchor="end">15</text>
<path d="M854.50 66.50h3.5M1162.50 66.50h-3.5" stroke="#505050" stroke-width="1"/>
<text x="848.00" y="74.98" font-size="19.5" text-anchor="end">20</text>
<path d="M854.50 22.50h3.5M1162.50 22.50h-3.5" stroke="#505050" stroke-width="1"/>
<text x="848.00" y="30.48" font-size="19.5" text-anchor="end">25</text>
<clipPath id="cl-c"><rect x="853.40" y="20.70" width="311.00" height="225.50"/></clipPath><g clip-path="url(#cl-c)"><path d="M855.1 22.0L855.1 159.0" fill="none" stroke="#234E96" stroke-width="1.5" stroke-linejoin="round" stroke-linecap="round" /><path d="M855.7 159.3L856.7 158.2L857.8 157.2L858.8 156.1L859.9 155.0L860.9 153.9L861.9 152.8L863.0 151.8L864.0 150.7L865.0 149.6L866.0 148.5L867.1 147.4L868.1 146.3L869.1 145.1L870.1 144.0L871.1 142.9L872.1 141.8L873.1 140.7L874.1 139.6L875.1 138.5L876.1 137.3L877.2 136.2L878.2 135.1L879.2 134.0L880.2 132.9L881.2 131.7L882.2 130.6L883.2 129.5L884.2 128.4L885.2 127.3L886.2 126.2L887.2 125.0L888.3 123.9L889.3 122.8L890.3 121.7L891.3 120.6L892.3 119.5L893.4 118.4L894.4 117.3L895.5 116.2L896.5 115.2L897.6 114.1L898.6 113.0L899.7 111.9L900.7 110.9L901.8 109.8L902.9 108.8L903.9 107.7L905.0 106.7L906.1 105.6L907.2 104.6L908.3 103.6L909.4 102.6L910.6 101.6L911.7 100.6L912.8 99.6L914.0 98.6L915.1 97.6L916.3 96.6L917.5 95.7L918.6 94.7L919.8 93.8L921.0 92.8L922.2 91.9L923.4 91.0L924.7 90.1L925.9 89.2L927.1 88.3L928.4 87.5L929.7 86.6L930.9 85.8L932.2 84.9L933.5 84.1L934.8 83.3L936.1 82.5L937.5 81.7L938.8 81.0L940.1 80.3L941.5 79.5L942.8 78.8L944.2 78.2L945.6 77.5L946.9 76.9L948.3 76.3L949.7 75.7L951.1 75.1L952.5 74.6L953.9 74.0L955.3 73.5L956.7 73.1L958.1 72.6L959.6 72.2L961.0 71.9L962.4 71.5L963.9 71.2L965.3 70.9L966.8 70.6L968.2 70.4L969.7 70.2L971.1 70.0L972.6 69.9L974.0 69.8L975.5 69.8L977.0 69.7L978.4 69.7L979.9 69.8L981.4 69.9L982.8 70.0L984.3 70.2L985.8 70.4L987.2 70.6L988.7 70.8L990.1 71.1L991.6 71.5L993.0 71.8L994.5 72.2L995.9 72.6L997.3 73.1L998.8 73.5L1000.2 74.0L1001.6 74.6L1003.0 75.1L1004.4 75.7L1005.8 76.3L1007.2 77.0L1008.5 77.6L1009.9 78.3L1011.2 79.0L1012.6 79.8L1013.9 80.5L1015.2 81.3L1016.5 82.0L1017.8 82.8L1019.1 83.6L1020.3 84.5L1021.6 85.3L1022.8 86.1L1024.1 87.0L1025.3 87.9L1026.5 88.8L1027.7 89.7L1028.9 90.6L1030.1 91.5L1031.3 92.5L1032.4 93.4L1033.6 94.4L1034.7 95.3L1035.9 96.3L1037.0 97.3L1038.1 98.3L1039.2 99.3L1040.3 100.4L1041.4 101.4L1042.4 102.4L1043.5 103.5L1044.6 104.6L1045.6 105.6L1046.7 106.7L1047.7 107.8L1048.7 108.9L1049.7 110.0L1050.7 111.1L1051.7 112.3L1052.7 113.4L1053.7 114.5L1054.7 115.7L1055.7 116.8L1056.6 118.0L1057.6 119.2L1058.5 120.4L1059.5 121.5L1060.4 122.7L1061.3 123.9L1062.3 125.1L1063.2 126.3L1064.1 127.5L1065.0 128.8L1065.9 130.0L1066.8 131.2L1067.7 132.4L1068.6 133.7L1069.4 134.9L1070.3 136.2L1071.2 137.4L1072.0 138.6L1072.9 139.9L1073.8 141.2L1074.6 142.4L1075.4 143.7L1076.3 144.9L1077.1 146.2L1078.0 147.5L1078.8 148.7L1079.6 150.0L1080.4 151.3L1081.3 152.6L1082.1 153.8L1082.9 155.1L1083.7 156.4L1084.5 157.7L1085.3 158.9L1086.1 160.2L1086.9 161.5L1087.7 162.8L1088.5 164.1L1089.3 165.3L1090.1 166.6L1090.9 167.9L1091.6 169.2L1092.4 170.5L1093.2 171.8L1093.9 173.1L1094.7 174.3L1095.5 175.6L1096.2 176.9L1097.0 178.2L1097.7 179.5L1098.5 180.8L1099.2 182.1L1099.9 183.4L1100.7 184.7L1101.4 186.0L1102.1 187.3L1102.8 188.7L1103.5 190.0L1104.2 191.3L1104.9 192.6L1105.6 193.9L1106.3 195.3L1107.0 196.6L1107.7 197.9L1108.3 199.3L1109.0 200.6L1109.7 201.9L1110.3 203.3L1111.0 204.6L1111.6 206.0L1112.3 207.3L1112.9 208.7L1113.5 210.1L1114.1 211.4L1114.7 212.8L1115.3 214.2L1115.9 215.5L1116.5 216.9L1117.1 218.3L1117.7 219.7L1118.3 221.1L1118.8 222.5L1119.4 223.9L1119.9 225.3L1120.5 226.7L1121.0 228.2L1121.5 229.6L1122.0 231.0L1122.5 232.4L1123.0 233.9L1123.5 235.3L1124.0 236.8L1124.5 238.2L1125.0 239.7L1125.4 241.2L1125.9 242.6L1126.3 244.1" fill="none" stroke="#234E96" stroke-width="1.5" stroke-linejoin="round" stroke-linecap="round" /><path d="M876.5 245.0L876.4 243.5L876.3 242.0L876.2 240.5L876.1 239.0L876.1 237.5L876.0 236.0L876.0 234.5L875.9 233.0L875.9 231.4L875.9 229.9L875.9 228.4L875.9 226.9L875.9 225.4L875.9 223.9L875.9 222.4L876.0 220.9L876.0 219.4L876.1 217.9L876.1 216.4L876.2 214.9L876.3 213.4L876.4 211.9L876.4 210.4L876.6 208.9L876.7 207.4L876.8 205.9L876.9 204.4L877.1 203.0L877.2 201.5L877.4 200.0L877.5 198.5L877.7 197.0L877.9 195.5L878.0 194.0L878.2 192.5L878.4 191.0L878.7 189.5L878.9 188.1L879.1 186.6L879.3 185.1L879.6 183.6L879.8 182.1L880.1 180.6L880.3 179.1L880.6 177.7L880.9 176.2L881.2 174.7L881.5 173.2L881.8 171.8L882.1 170.3L882.4 168.8L882.7 167.3L883.0 165.9L883.4 164.4L883.7 162.9L884.1 161.4L884.4 160.0L884.8 158.5L885.2 157.0L885.5 155.6L885.9 154.1L886.3 152.7L886.7 151.2L887.1 149.7L887.5 148.3L887.9 146.8L888.4 145.4L888.8 143.9L889.2 142.5L889.7 141.0L890.1 139.6L890.6 138.1L891.0 136.7L891.5 135.2L892.0 133.8L892.4 132.3L892.9 130.9L893.4 129.5L894.0 128.0L894.5 126.6L895.0 125.2L895.6 123.8L896.2 122.4L896.8 121.0L897.4 119.6L898.0 118.2L898.6 116.9L899.3 115.5L900.0 114.2L900.7 112.9L901.4 111.6L902.2 110.3L902.9 109.0L903.7 107.7L904.5 106.5L905.4 105.2L906.2 104.0L907.1 102.8L908.0 101.6L909.0 100.5L909.9 99.3L910.9 98.2L911.9 97.1L912.9 96.0L913.9 95.0L915.0 94.0L916.0 92.9L917.1 92.0L918.2 91.0L919.4 90.1L920.5 89.1L921.7 88.3L922.9 87.4L924.1 86.5L925.3 85.7L926.6 84.9L927.8 84.1L929.1 83.4L930.4 82.6L931.7 81.9L933.0 81.2L934.3 80.5L935.7 79.9L937.0 79.2L938.4 78.6L939.8 78.0L941.2 77.4L942.6 76.8L944.0 76.2L945.4 75.7L946.8 75.1L948.2 74.6L949.6 74.1L951.1 73.6L952.5 73.1L954.0 72.6L955.4 72.2L956.9 71.7L958.4 71.3L959.8 70.8L961.3 70.4L962.8 70.0L964.2 69.6L965.7 69.2L967.2 68.8L968.7 68.4L970.1 68.1L971.6 67.7L973.1 67.4L974.6 67.0L976.0 66.7L977.5 66.3L979.0 66.0L980.5 65.7L981.9 65.4L983.4 65.1L984.9 64.8L986.4 64.5L987.9 64.2L989.4 64.0L990.8 63.7L992.3 63.4L993.8 63.2L995.3 62.9L996.8 62.7L998.3 62.4L999.7 62.2L1001.2 62.0L1002.7 61.8L1004.2 61.6L1005.7 61.3L1007.2 61.1L1008.7 60.9L1010.2 60.7L1011.7 60.6L1013.2 60.4L1014.6 60.2L1016.1 60.0L1017.6 59.8L1019.1 59.7L1020.6 59.5L1022.1 59.3L1023.6 59.2L1025.1 59.0L1026.6 58.9L1028.1 58.7L1029.6 58.6L1031.1 58.5L1032.6 58.3L1034.1 58.2L1035.6 58.1L1037.1 57.9L1038.6 57.8L1040.1 57.7L1041.6 57.6L1043.1 57.4L1044.6 57.3L1046.1 57.2L1047.6 57.1L1049.1 57.0L1050.6 56.9L1052.1 56.8L1053.6 56.7L1055.1 56.5L1056.6 56.4L1058.1 56.3L1059.6 56.2L1061.1 56.1L1062.6 56.0L1064.1 55.9L1065.6 55.8L1067.1 55.7L1068.6 55.6L1070.1 55.5L1071.6 55.4L1073.1 55.3L1074.6 55.2L1076.1 55.1L1077.6 55.0L1079.1 54.9L1080.6 54.8L1082.1 54.7L1083.6 54.6L1085.1 54.5L1086.6 54.4L1088.2 54.3L1089.7 54.2L1091.2 54.1L1092.7 54.0L1094.2 53.9L1095.7 53.8L1097.2 53.7L1098.7 53.6L1100.2 53.5L1101.7 53.4L1103.2 53.3L1104.7 53.2L1106.2 53.2L1107.7 53.1L1109.2 53.0L1110.7 52.9L1112.2 52.8L1113.7 52.7L1115.2 52.6L1116.7 52.5L1118.3 52.5L1119.8 52.4L1121.3 52.3L1122.8 52.2L1124.3 52.2L1125.8 52.1L1127.3 52.0L1128.8 51.9L1130.3 51.9L1131.8 51.8L1133.3 51.7L1134.8 51.7L1136.3 51.6L1137.8 51.6L1139.3 51.5L1140.8 51.5L1142.3 51.4L1143.9 51.4L1145.4 51.3L1146.9 51.3L1148.4 51.2L1149.9 51.2L1151.4 51.2L1152.9 51.1L1154.4 51.1L1155.9 51.1L1157.4 51.1L1158.9 51.0L1160.4 51.0L1161.9 51.0L1163.4 51.0L1164.9 51.0L1166.4 51.0L1167.9 51.0L1169.5 51.0L1171.0 51.0L1172.5 51.0L1174.0 51.0L1175.5 51.0L1177.0 51.0L1178.5 51.1L1180.0 51.1" fill="none" stroke="#50AF5F" stroke-width="1.5" stroke-linejoin="round" stroke-linecap="round" /><path d="M854.3 244.7L1126.5 244.7" fill="none" stroke="#A64BA2" stroke-width="1.8" stroke-linejoin="round" stroke-linecap="round" /><path d="M1125.9 244.1L1125.6 242.5L1125.3 241.0L1125.0 239.5L1124.6 238.0L1124.2 236.5L1123.8 235.0L1123.4 233.5L1122.9 232.0L1122.5 230.5L1122.0 229.1L1121.5 227.6L1120.9 226.2L1120.4 224.7L1119.8 223.3L1119.2 221.9L1118.6 220.5L1118.0 219.0L1117.4 217.6L1116.7 216.2L1116.1 214.8L1115.4 213.4L1114.8 212.1L1114.1 210.7L1113.4 209.3L1112.7 207.9L1112.0 206.5L1111.3 205.1L1110.6 203.8L1109.9 202.4L1109.2 201.0L1108.5 199.6L1107.8 198.2L1107.1 196.9L1106.4 195.5L1105.7 194.1L1105.0 192.7L1104.4 191.3L1103.7 189.9L1103.0 188.5L1102.4 187.1L1101.7 185.7L1101.1 184.3L1100.4 182.9L1099.8 181.5L1099.2 180.1L1098.6 178.7L1098.1 177.2L1097.5 175.8L1097.0 174.3L1096.5 172.9L1096.0 171.4L1095.5 169.9L1095.0 168.4L1094.6 167.0" fill="none" stroke="#A64BA2" stroke-width="1.4" stroke-linejoin="round" stroke-linecap="round" /><path d="M907.3 104.1L905.8 104.3L904.3 104.5L902.8 104.7L901.3 104.9L899.8 105.2L898.3 105.4L896.8 105.6L895.3 105.9L893.9 106.1L892.4 106.4L890.9 106.7L889.5 107.0L888.0 107.4L886.6 107.8L885.2 108.2L883.7 108.6L882.3 109.1L880.9 109.6L879.5 110.1L878.1 110.7L876.8 111.3L875.4 112.0L874.0 112.7L872.7 113.4L871.4 114.2L870.1 115.1L868.9 116.0L867.7 116.9L866.5 117.9L865.4 118.9L864.4 120.0L863.4 121.1L862.5 122.3L861.6 123.5L860.9 124.8L860.2 126.1L859.6 127.4L859.0 128.8L858.6 130.3L858.1 131.7L857.8 133.2L857.5 134.6L857.2 136.1L856.9 137.6L856.7 139.1L856.6 140.6L856.4 142.0L856.3 143.5L856.2 145.0L856.1 146.5L856.1 148.0L856.1 149.5L856.1 151.0L856.1 152.5L856.1 154.0L856.1 155.5L856.1 157.0L856.2 158.5L856.2 160.0L856.2 161.6L856.3 163.1L856.3 164.6L856.4 166.1L856.4 167.6L856.4 169.2L856.4 170.7L856.4 172.2L856.4 173.8L856.5 175.3L856.7 176.8L857.0 178.3L857.5 179.8L858.1 181.2L858.8 182.5L859.7 183.7L860.7 184.7L861.9 185.5L863.2 186.1L864.5 186.6L866.0 186.9L867.5 187.1L869.0 187.2L870.5 187.4L872.0 187.5L873.6 187.5L875.1 187.6L876.6 187.7L878.1 187.7L879.6 187.8L881.1 187.8L882.7 187.8L884.2 187.8L885.7 187.8L887.2 187.8L888.7 187.8L890.2 187.7L891.7 187.7L893.2 187.6L894.7 187.6L896.2 187.5L897.7 187.4L899.2 187.4L900.7 187.3L902.2 187.2L903.7 187.1L905.2 187.0L906.7 186.9L908.2 186.8L909.7 186.7L911.2 186.5L912.7 186.4L914.2 186.3L915.7 186.2L917.2 186.1L918.7 185.9L920.2 185.8L921.7 185.7L923.2 185.6L924.7 185.4L926.2 185.3L927.7 185.2L929.2 185.0L930.7 184.9L932.2 184.8L933.7 184.7L935.2 184.6L936.7 184.5L938.2 184.4L939.7 184.3L941.2 184.2L942.7 184.1L944.2 184.0L945.7 183.9L947.2 183.8L948.7 183.7L950.2 183.6L951.7 183.6L953.3 183.5L954.8 183.4L956.3 183.4L957.8 183.3L959.3 183.2L960.8 183.2L962.3 183.1L963.8 183.0L965.3 183.0L966.8 182.9L968.4 182.8L969.9 182.8L971.4 182.7L972.9 182.6L974.4 182.6L975.9 182.5L977.4 182.5L978.9 182.4L980.4 182.3L981.9 182.3L983.5 182.2L985.0 182.1L986.5 182.0L988.0 182.0L989.5 181.9L991.0 181.8L992.5 181.7L994.0 181.7L995.5 181.6L997.0 181.5L998.5 181.4L1000.0 181.3L1001.5 181.2L1003.0 181.1L1004.5 181.0L1006.0 180.9L1007.4 180.8L1008.9 180.6L1010.4 180.5L1011.9 180.4L1013.4 180.3L1014.9 180.1L1016.4 180.0L1017.9 179.8L1019.4 179.7L1020.8 179.5L1022.3 179.4L1023.8 179.2L1025.3 179.0L1026.8 178.9L1028.3 178.7L1029.8 178.5L1031.3 178.3L1032.7 178.1L1034.2 177.9L1035.7 177.7L1037.2 177.5L1038.7 177.3L1040.2 177.1L1041.7 176.9L1043.2 176.7L1044.7 176.4L1046.2 176.2L1047.7 176.0L1049.2 175.7L1050.7 175.5L1052.2 175.2L1053.7 174.9L1055.2 174.7L1056.7 174.4L1058.2 174.1L1059.7 173.8L1061.2 173.5L1062.7 173.2L1064.2 172.9L1065.7 172.6L1067.2 172.3L1068.8 172.0L1070.3 171.6L1071.8 171.3L1073.3 170.9L1074.8 170.6L1076.3 170.2L1077.8 169.7L1079.1 169.2L1080.5 168.6L1081.7 168.0L1082.9 167.2L1084.0 166.4L1085.0 165.4L1085.8 164.3L1086.5 163.1L1086.9 161.8L1087.1 160.4L1087.0 159.0L1086.6 157.6L1086.0 156.1L1085.5 154.7L1084.9 153.3L1084.2 151.9L1083.6 150.6L1082.9 149.3L1082.2 147.9L1081.4 146.7L1080.7 145.4L1079.9 144.1L1079.1 142.9L1078.3 141.6L1077.4 140.4L1076.6 139.2L1075.7 138.0L1074.8 136.8L1073.9 135.6L1073.0 134.4L1072.1 133.2L1071.2 132.0L1070.2 130.9L1069.3 129.7L1068.4 128.5L1067.4 127.3L1066.5 126.1L1065.6 124.9L1064.6 123.7L1063.7 122.5L1062.8 121.3L1061.8 120.1L1060.9 118.9L1059.9 117.7L1059.0 116.5L1058.0 115.4L1057.1 114.2L1056.1 113.0L1055.1 111.8L1054.2 110.6L1053.2 109.4L1052.2 108.3L1051.2 107.1L1050.2 106.0L1049.2 104.8L1048.2 103.7L1047.2 102.6L1046.1 101.5L1045.1 100.4L1044.1 99.3L1043.0 98.2L1041.9 97.1L1040.9 96.1L1039.8 95.0L1038.7 94.0L1037.6 93.0L1036.5 92.0L1035.4 91.0L1034.2 90.1L1033.1 89.1L1031.9 88.2L1030.7 87.3L1029.5 86.4L1028.3 85.5L1027.1 84.7L1025.9 83.9L1024.7 83.1L1023.4 82.3L1022.1 81.5L1020.8 80.8L1019.5 80.1L1018.2 79.4L1016.9 78.7L1015.5 78.1L1014.1 77.5L1012.8 76.9L1011.4 76.4L1010.0 75.8L1008.5 75.3L1007.1 74.8L1005.7 74.4L1004.2 74.0L1002.8 73.6L1001.3 73.2L999.8 72.8L998.3 72.5L996.9 72.2L995.4 71.9L993.9 71.7L992.4 71.4L990.9 71.2L989.4 71.1L987.8 70.9L986.3 70.8L984.8 70.7L983.3 70.6L981.8 70.6L980.3 70.6L978.7 70.6L977.2 70.6L975.7 70.7L974.2 70.7L972.7 70.9L971.2 71.0L969.7 71.2L968.2 71.4L966.7 71.6L965.2 71.8L963.8 72.1L962.3 72.4L960.9 72.7L959.4 73.1L958.0 73.4L956.6 73.8L955.1 74.3" fill="none" stroke="#A64BA2" stroke-width="1.4" stroke-linejoin="round" stroke-linecap="round" /><path d="M857.2 149.1L857.2 147.6L857.2 146.1L857.2 144.6L857.2 143.1L857.2 141.6L857.2 140.1L857.3 138.6L857.3 137.1L857.3 135.6L857.3 134.1L857.3 132.6L857.4 131.1L857.4 129.6L857.4 128.1L857.4 126.6L857.5 125.0L857.5 123.5L857.5 122.0L857.6 120.5L857.6 119.0L857.6 119.0L857.6 117.5L857.7 116.1L857.7 114.6L857.8 113.1L857.9 111.7L858.0 110.2L858.2 108.8L858.3 107.4L858.6 106.0L858.9 104.6L859.2 103.2L859.6 101.9L860.0 100.6L860.6 99.3L861.2 98.1L861.8 96.9L862.6 95.8L863.4 94.8L864.3 93.7L865.2 92.8L866.3 91.9L867.4 91.1L868.5 90.3L869.7 89.6L870.9 89.0L872.2 88.4L873.5 87.9L874.9 87.4L876.3 86.9L877.7 86.5L879.1 86.0L880.5 85.6L881.9 85.2L883.3 84.8L884.8 84.4L886.2 84.0L887.7 83.6L889.1 83.3L890.5 82.9L892.0 82.6L893.5 82.3L894.9 82.0L896.4 81.7L897.8 81.4L899.3 81.1L900.8 80.8L902.2 80.5L903.7 80.2L905.2 79.9L906.7 79.7L908.1 79.4L909.6 79.2L911.1 78.9L912.6 78.7L914.0 78.4L915.5 78.2L917.0 77.9L918.5 77.7L920.0 77.4L921.4 77.2L922.9 77.0L924.4 76.7L925.9 76.5L927.4 76.2L928.8 76.0L930.3 75.7L931.8 75.5L933.3 75.3L934.8 75.0L936.3 74.8L937.7 74.5L939.2 74.2L940.7 74.0L942.2 73.7L943.7 73.4L945.2 73.1L946.7 72.9L948.2 72.6" fill="none" stroke="#A64BA2" stroke-width="1.3" stroke-linejoin="round" stroke-linecap="round" /><path d="M858.3 149.1L858.3 147.6L858.3 146.1L858.3 144.6L858.3 143.1L858.3 141.6L858.3 140.1L858.4 138.6L858.4 137.1L858.4 135.6L858.4 134.1L858.4 132.6L858.5 131.1L858.5 129.6L858.5 128.1L858.5 126.6L858.6 125.1L858.6 123.6L858.6 122.1L858.7 120.6L858.7 119.1L858.7 119.1L858.7 117.6L858.8 116.1L858.8 114.6L858.9 113.2L859.0 111.7L859.1 110.3L859.2 108.9L859.4 107.5L859.7 106.2L859.9 104.8L860.3 103.5L860.6 102.2L861.1 100.9L861.6 99.7L862.1 98.6L862.7 97.5L863.4 96.5L864.2 95.5L865.1 94.5L866.0 93.6L867.0 92.8L868.0 92.0L869.1 91.2L870.2 90.6L871.4 90.0L872.6 89.4L873.9 88.9L875.2 88.4L876.6 88.0L878.0 87.5L879.4 87.1L880.8 86.7L882.2 86.2L883.6 85.8L885.1 85.5L886.5 85.1L887.9 84.7L889.4 84.4L890.8 84.0L892.2 83.7L893.7 83.4L895.1 83.0L896.6 82.7L898.1 82.4L899.5 82.1L901.0 81.9L902.5 81.6L903.9 81.3L905.4 81.0L906.9 80.8L908.3 80.5L909.8 80.2L911.3 80.0L912.8 79.7L914.2 79.5L915.7 79.2L917.2 79.0L918.7 78.8L920.1 78.5L921.6 78.3L923.1 78.0L924.6 77.8L926.0 77.6L927.5 77.3L929.0 77.1L930.5 76.8L932.0 76.6L933.5 76.3L935.0 76.1L936.4 75.8L937.9 75.6L939.4 75.3L940.9 75.1L942.4 74.8L943.9 74.5L945.4 74.2L946.9 73.9L948.4 73.7" fill="none" stroke="#A64BA2" stroke-width="1.2" stroke-linejoin="round" stroke-linecap="round" /><path d="M859.4 149.1L859.4 147.6L859.4 146.1L859.4 144.6L859.4 143.1L859.4 141.6L859.4 140.1L859.5 138.6L859.5 137.1L859.5 135.6L859.5 134.1L859.5 132.6L859.6 131.1L859.6 129.6L859.6 128.1L859.6 126.6L859.7 125.1L859.7 123.6L859.7 122.1L859.8 120.6L859.8 119.1L859.8 119.1L859.8 117.6L859.9 116.1L859.9 114.7L860.0 113.2L860.1 111.8L860.2 110.4L860.3 109.1L860.5 107.7L860.7 106.4L861.0 105.1L861.3 103.8L861.7 102.5L862.1 101.3L862.6 100.2L863.1 99.1L863.7 98.1L864.3 97.1L865.1 96.2L865.9 95.3L866.7 94.4L867.7 93.6L868.7 92.9L869.7 92.2L870.8 91.5L871.9 90.9L873.1 90.4L874.3 89.9L875.6 89.5L877.0 89.0L878.3 88.6L879.7 88.1L881.1 87.7L882.5 87.3L883.9 86.9L885.3 86.5L886.8 86.1L888.2 85.8L889.6 85.4L891.0 85.1L892.5 84.8L893.9 84.4L895.4 84.1L896.8 83.8L898.3 83.5L899.7 83.2L901.2 82.9L902.7 82.7L904.1 82.4L905.6 82.1L907.1 81.8L908.5 81.6L910.0 81.3L911.5 81.1L912.9 80.8L914.4 80.6L915.9 80.3L917.4 80.1L918.8 79.8L920.3 79.6L921.8 79.4L923.3 79.1L924.7 78.9L926.2 78.6L927.7 78.4L929.2 78.2L930.7 77.9L932.2 77.7L933.7 77.4L935.1 77.2L936.6 76.9L938.1 76.7L939.6 76.4L941.1 76.1L942.6 75.9L944.1 75.6L945.6 75.3L947.1 75.0L948.6 74.7" fill="none" stroke="#A64BA2" stroke-width="1.1" stroke-linejoin="round" stroke-linecap="round" /><path d="M1094.3 178.3L1093.3 179.5L1092.2 180.5L1091.1 181.5L1090.0 182.4L1088.8 183.2L1087.6 183.9L1086.3 184.6L1085.0 185.2L1083.6 185.7L1082.2 186.2L1080.8 186.6L1079.4 187.0L1078.0 187.4L1076.5 187.7L1075.0 188.0L1073.5 188.2L1072.0 188.4L1070.4 188.6L1068.9 188.8L1067.4 188.9L1065.8 189.1L1064.3 189.2L1062.7 189.4L1061.2 189.5L1059.7 189.7L1058.2 189.8L1056.7 189.9L1055.2 190.1L1053.6 190.2L1052.1 190.4L1050.6 190.5L1049.1 190.6L1047.6 190.8L1046.1 190.9L1044.6 191.0L1043.2 191.1L1041.7 191.3L1040.2 191.4L1038.7 191.5L1037.2 191.6L1035.7 191.8L1034.2 191.9L1032.7 192.0L1031.2 192.1L1029.7 192.2L1028.2 192.3L1026.7 192.4L1025.2 192.5L1023.7 192.7L1022.2 192.8L1020.7 192.9L1019.2 193.0L1017.7 193.1L1016.2 193.2L1014.7 193.3L1013.1 193.4L1011.6 193.5L1010.1 193.5L1008.6 193.6L1007.1 193.7L1005.6 193.8L1004.1 193.9L1002.6 194.0L1001.1 194.1L999.5 194.2L998.0 194.3L996.5 194.3L995.0 194.4L993.5 194.5L992.0 194.6L990.5 194.7L988.9 194.7L987.4 194.8L985.9 194.9L984.4 195.0L982.9 195.0L981.4 195.1L979.9 195.2L978.4 195.3L976.8 195.3L975.3 195.4L973.8 195.5L972.3 195.5L970.8 195.6L969.3 195.7L967.8 195.7L966.3 195.8L964.8 195.9L963.3 195.9L961.8 196.0L960.3 196.1L958.8 196.1L957.3 196.2L955.7 196.3L954.2 196.3L952.7 196.4L951.2 196.5L949.7 196.5L948.2 196.6L946.7 196.7L945.2 196.7L943.7 196.8L942.2 196.9L940.7 196.9L939.2 197.0L937.7 197.0L936.2 197.1L934.7 197.2L933.2 197.2L931.7 197.3L930.2 197.4L928.7 197.5L927.2 197.5L925.7 197.6L924.2 197.7L922.6 197.7L921.1 197.8L919.6 197.9L918.1 198.0L916.6 198.0L915.1 198.1L913.6 198.2L912.1 198.3L910.6 198.3L909.0 198.4L907.5 198.5L906.0 198.6L904.5 198.7L903.0 198.8L901.5 198.8L899.9 198.9L898.4 199.0L896.9 199.1L895.4 199.2L893.8 199.3L892.3 199.3L890.8 199.4L889.3 199.4L887.8 199.5L886.2 199.5L884.7 199.5L883.2 199.5L881.7 199.5L880.2 199.4L878.7 199.4L877.2 199.3L875.6 199.2L874.1 199.1L872.6 199.0L871.1 198.8L869.6 198.6L868.1 198.4L866.7 198.1L865.2 197.8L863.9 197.4L862.5 196.9L861.3 196.4L860.2 195.7L859.1 194.9L858.2 193.9L857.5 192.9L856.9 191.6L856.5 190.2L856.3 188.6L856.2 186.8L856.5 184.8" fill="none" stroke="#A64BA2" stroke-width="1.3" stroke-linejoin="round" stroke-linecap="round" /><path d="M855.3 119.0L855.3 117.5L855.4 116.0L855.4 114.5L855.5 113.0L855.6 111.5L855.7 110.0L855.9 108.5L856.1 107.0L856.3 105.5L856.6 104.1L857.0 102.6L857.4 101.2L857.9 99.7L858.5 98.4L859.1 97.0L859.9 95.7L860.7 94.5L861.6 93.3L862.6 92.2L863.7 91.1L864.8 90.1L866.0 89.2L867.3 88.4L868.6 87.6L869.9 86.9L871.3 86.3L872.7 85.7L874.1 85.2L875.5 84.7L877.0 84.3L878.4 83.8L879.8 83.4L881.3 83.0L882.7 82.6L884.2 82.2L885.6 81.8L887.1 81.4L888.6 81.1L890.0 80.7L891.5 80.4L893.0 80.0L894.4 79.7L895.9 79.4L897.4 79.1L898.9 78.8L900.3 78.5L901.8 78.2L903.3 78.0L904.8 77.7L906.3 77.4L907.7 77.2L909.2 76.9L910.7 76.6L912.2 76.4L913.7 76.1L915.1 75.9L916.6 75.6L918.1 75.4L919.6 75.2L921.1 74.9L922.5 74.7L924.0 74.4L925.5 74.2L927.0 74.0L928.5 73.7L929.9 73.5L931.4 73.2L932.9 73.0L934.4 72.7L935.9 72.5L937.4 72.2L938.8 72.0L940.3 71.7L941.8 71.4L943.3 71.2L944.8 70.9L946.3 70.6L947.7 70.3L949.2 70.0L950.7 69.7L952.2 69.5L953.7 69.2L955.2 68.9L956.7 68.6L958.1 68.4L959.6 68.1L961.1 67.8L962.6 67.6L964.1 67.4L965.6 67.1L967.1 66.9L968.6 66.8L970.1 66.6L971.5 66.4L973.0 66.3L974.5 66.2L976.0 66.1L977.5 66.0L979.0 66.0L980.5 66.0L982.0 66.0L983.5 66.0L985.0 66.1L986.5 66.2L988.0 66.3L989.5 66.4L991.0 66.6L992.5 66.8L993.9 67.1L995.4 67.3L996.9 67.6L998.4 67.9L999.8 68.3L1001.3 68.7L1002.7 69.1L1004.2 69.5L1005.6 70.0L1007.0 70.4L1008.5 71.0L1009.9 71.5L1011.3 72.1L1012.6 72.7L1014.0 73.3L1015.4 73.9L1016.7 74.6L1018.0 75.3L1019.3 76.0L1020.6 76.8L1021.9 77.5L1023.2 78.3L1024.4 79.1L1025.7 80.0L1026.9 80.8L1028.1 81.7L1029.3 82.6L1030.5 83.5L1031.7 84.5L1032.8 85.4L1034.0 86.4L1035.1 87.4L1036.2 88.4L1037.3 89.4L1038.4 90.4L1039.5 91.5L1040.6 92.5L1041.7 93.6L1042.7 94.7L1043.8 95.8L1044.8 96.8L1045.9 97.9L1046.9 99.1L1047.9 100.2L1048.9 101.3L1049.9 102.4L1050.9 103.5L1051.9 104.7L1052.9 105.8L1053.9 107.0L1054.9 108.1L1055.8 109.3L1056.8 110.4L1057.7 111.6L1058.7 112.7L1059.6 113.9L1060.6 115.1L1061.5 116.3L1062.4 117.5L1063.3 118.7L1064.2 119.9L1065.1 121.1L1066.0 122.3L1066.9 123.5L1067.8 124.7L1068.7 125.9L1069.6 127.1L1070.4 128.3L1071.3 129.6L1072.2 130.8L1073.0 132.0L1073.9 133.3L1074.7 134.5L1075.5 135.8L1076.4 137.0L1077.2 138.3L1078.0 139.5L1078.9 140.8L1079.7 142.0L1080.5 143.3L1081.3 144.5L1082.1 145.8L1082.9 147.1L1083.7 148.4L1084.5 149.6L1085.3 150.9L1086.1 152.2L1086.9 153.5L1087.7 154.8L1088.5 156.0L1089.2 157.3L1090.0 158.6L1090.8 159.9L1091.5 161.2L1092.3 162.5L1093.1 163.8L1093.8 165.1L1094.5 166.5L1095.1 167.8L1095.7 169.2L1096.2 170.7L1096.7 172.1L1097.0 173.7L1097.2 175.2L1097.3 176.7L1097.3 178.2L1097.0 179.6L1096.6 180.9L1095.9 182.1L1095.1 183.2L1094.0 184.1L1092.8 184.9L1091.4 185.6L1089.9 186.2L1088.4 186.8L1086.8 187.3L1085.2 187.7L1083.7 188.1L1082.2 188.4L1080.7 188.7L1079.3 189.0L1077.8 189.3L1076.4 189.5L1074.9 189.8L1073.4 190.0L1072.0 190.3L1070.5 190.5L1069.0 190.7L1067.6 190.9L1066.1 191.1L1064.6 191.3L1063.1 191.5L1061.7 191.7L1060.2 191.8L1058.7 192.0L1057.2 192.2L1055.7 192.3L1054.2 192.5L1052.7 192.6L1051.2 192.7L1049.7 192.9L1048.2 193.0L1046.7 193.1L1045.2 193.2L1043.7 193.3L1042.2 193.5L1040.7 193.6L1039.2 193.7L1037.7 193.8L1036.2 193.9L1034.7 194.0L1033.1 194.1L1031.6 194.2L1030.1 194.3L1028.6 194.4L1027.1 194.5L1025.6 194.6L1024.1 194.7L1022.6 194.8L1021.1 194.9L1019.6 195.0L1018.1 195.1L1016.6 195.2L1015.1 195.3L1013.6 195.4L1012.1 195.4L1010.6 195.5L1009.1 195.6L1007.6 195.7L1006.1 195.8L1004.6 195.9L1003.1 196.0L1001.6 196.1L1000.1 196.1L998.6 196.2L997.1 196.3L995.6 196.4L994.1 196.5L992.6 196.5L991.1 196.6L989.6 196.7L988.1 196.8L986.6 196.9L985.1 196.9L983.6 197.0L982.1 197.1L980.6 197.2L979.1 197.3L977.6 197.3L976.1 197.4L974.6 197.5L973.1 197.6L971.6 197.6L970.1 197.7L968.6 197.8L967.1 197.9L965.6 197.9L964.1 198.0L962.6 198.1L961.1 198.1L959.6 198.2L958.1 198.3L956.6 198.4L955.1 198.4L953.6 198.5L952.1 198.6L950.6 198.6L949.1 198.7L947.6 198.8L946.1 198.9L944.6 198.9L943.0 199.0L941.5 199.1L940.0 199.1L938.5 199.2L937.0 199.3L935.5 199.4L934.0 199.4L932.5 199.5L931.0 199.6L929.5 199.7L928.0 199.7L926.5 199.8L925.0 199.9L923.5 199.9L922.0 200.0L920.5 200.1L919.0 200.2L917.5 200.2L916.0 200.3L914.5 200.4L913.0 200.5L911.5 200.5L910.0 200.6L908.5 200.7L907.0 200.8L905.5 200.9L904.0 200.9L902.5 201.0L901.0 201.1L899.5 201.2L898.0 201.2L896.5 201.3L895.0 201.4L893.5 201.4L892.0 201.5L890.5 201.6L889.0 201.6L887.5 201.6L886.0 201.6L884.5 201.7L883.0 201.7L881.5 201.6L880.0 201.6L878.4 201.6L876.9 201.5L875.4 201.4L873.9 201.3L872.4 201.2L870.9 201.1L869.4 200.9L867.9 200.8L866.4 200.6L864.9 200.3L863.3 200.1L861.8 199.8L860.4 199.4L859.0 198.9L857.9 198.2L856.9 197.1L856.2 195.8L855.8 194.3L855.5 192.7L855.3 191.2L855.2 189.6L855.1 188.1L855.0 186.6L854.9 185.1L854.9 183.6L854.8 182.1L854.8 180.6L854.8 179.1L854.8 177.6L854.8 176.1L854.8 174.6L854.8 173.1L854.8 171.6L854.8 170.1L854.8 168.6L854.8 167.1L854.8 165.6L854.8 164.1L854.8 162.6L854.8 161.1L854.8 159.6L854.8 158.1L854.8 156.6L854.8 155.1L854.8 153.6L854.8 152.1L854.9 150.6L854.9 149.1L854.9 147.6L854.9 146.1L854.9 144.6L854.9 143.1L854.9 141.6L854.9 140.1L855.0 138.5L855.0 137.0L855.0 135.5L855.0 134.0L855.0 132.5L855.1 131.0L855.1 129.5L855.1 128.0L855.1 126.5L855.2 125.0L855.2 123.5L855.2 122.0L855.3 120.5L855.3 119.0Z" fill="none" stroke="#000" stroke-width="3.4" stroke-linejoin="round" stroke-linecap="round" /></g><circle cx="855.10" cy="244.70" r="3.6" fill="#E52A2E"/><circle cx="1126.50" cy="244.70" r="3.6" fill="#E52A2E"/><circle cx="907.30" cy="104.10" r="3.7" fill="#E52A2E"/><circle cx="945.70" cy="76.30" r="3.7" fill="#E52A2E"/><circle cx="960.10" cy="71.30" r="3.7" fill="#E52A2E"/>
<text x="991.38" y="295.50" font-size="19.7">N</text><path d="M1007.00 291.25H1023.40M1018.50 286.25Q1020.15 290.00 1024.00 291.25Q1020.15 292.50 1018.50 296.25" stroke="#222" stroke-width="0.85" fill="none"/>
<g transform="translate(819.60,148.00) rotate(-90)"><text x="-1.67" y="-0.3" font-size="19.1">P</text><path d="M13.20 -4.70H28.70M23.80 -9.70Q25.45 -5.95 29.30 -4.70Q25.45 -3.45 23.80 0.30" stroke="#222" stroke-width="0.85" fill="none"/></g>
<g font-family="Liberation Serif, serif" font-size="23.0"><text x="851.74" y="325.30" text-anchor="middle">(</text><text x="861.67" y="325.30" text-anchor="middle">c</text><text x="871.61" y="325.30" text-anchor="middle">)</text><text x="887.57" y="325.30" font-style="italic" textLength="15.8" lengthAdjust="spacingAndGlyphs">R</text><text x="908.82" y="329.60" text-anchor="middle" font-size="16.5">3</text><text x="925.71" y="325.30" text-anchor="middle">:</text><text x="937.05" y="325.30" font-style="italic" textLength="17.6" lengthAdjust="spacingAndGlyphs">K</text><path d="M963.86 316.40H979.75M963.86 321.60H979.75" stroke="#1a1a1a" stroke-width="1.35"/><text x="993.67" y="325.30" text-anchor="middle">3</text><text x="1005.60" y="325.30" text-anchor="middle">5</text><text x="1014.87" y="325.30" text-anchor="middle">.</text><text x="1024.15" y="325.30" text-anchor="middle">3</text><text x="1036.08" y="325.30" text-anchor="middle">5</text><text x="1045.35" y="325.30" text-anchor="middle">,</text><text x="1059.45" y="325.30" text-anchor="middle" font-style="italic">a</text><path d="M1073.22 316.40H1089.11M1073.22 321.60H1089.11" stroke="#1a1a1a" stroke-width="1.35"/><text x="1103.03" y="325.30" text-anchor="middle">0</text><text x="1112.31" y="325.30" text-anchor="middle">.</text><text x="1121.58" y="325.30" text-anchor="middle">1</text><text x="1133.51" y="325.30" text-anchor="middle">0</text><text x="1145.43" y="325.30" text-anchor="middle">5</text></g>
</g>
<g id="ax-d">
<rect x="66.50" y="384.50" width="296.00" height="210.00" fill="none" stroke="#c4c4c4" stroke-width="1"/>
<path d="M66.50 384.50V594.50" stroke="#444" stroke-width="1"/>
<path d="M66.50 594.50v-3.5M66.50 384.50v3.5" stroke="#505050" stroke-width="1"/>
<text x="66.30" y="630.91" font-size="28.5" text-anchor="middle">0</text>
<path d="M214.50 594.50v-3.5M214.50 384.50v3.5" stroke="#505050" stroke-width="1"/>
<text x="214.50" y="630.91" font-size="28.5" text-anchor="middle">10</text>
<path d="M362.50 594.50v-3.5M362.50 384.50v3.5" stroke="#505050" stroke-width="1"/>
<text x="362.70" y="630.91" font-size="28.5" text-anchor="middle">20</text>
<path d="M66.50 594.50h3.5M362.50 594.50h-3.5" stroke="#505050" stroke-width="1"/>
<text x="58.70" y="606.40" font-size="28.5" text-anchor="end">0</text>
<path d="M66.50 524.50h3.5M362.50 524.50h-3.5" stroke="#505050" stroke-width="1"/>
<text x="58.70" y="536.40" font-size="28.5" text-anchor="end">5</text>
<path d="M66.50 454.50h3.5M362.50 454.50h-3.5" stroke="#505050" stroke-width="1"/>
<text x="58.70" y="466.40" font-size="28.5" text-anchor="end">10</text>
<path d="M66.50 384.50h3.5M362.50 384.50h-3.5" stroke="#505050" stroke-width="1"/>
<text x="58.70" y="396.40" font-size="28.5" text-anchor="end">15</text>
<clipPath id="cl-d"><rect x="64.80" y="383.20" width="299.40" height="213.00"/></clipPath><g clip-path="url(#cl-d)"><path d="M66.3 384.0L66.3 464.7" fill="none" stroke="#234E96" stroke-width="2.0" stroke-linejoin="round" stroke-linecap="round" /><path d="M67.3 465.2L68.5 464.5L69.8 463.8L71.0 463.1L72.3 462.4L73.5 461.7L74.8 460.9L76.1 460.2L77.4 459.5L78.7 458.7L80.0 458.0L81.3 457.2L82.6 456.5L83.9 455.8L85.2 455.0L86.6 454.3L87.9 453.5L89.2 452.8L90.6 452.1L91.9 451.4L93.3 450.6L94.6 449.9L96.0 449.2L97.4 448.5L98.7 447.8L100.1 447.1L101.5 446.5L102.9 445.8L104.3 445.2L105.7 444.5L107.1 443.9L108.5 443.3L109.9 442.7L111.3 442.1L112.7 441.5L114.2 441.0L115.6 440.4L117.0 439.9L118.5 439.4L119.9 438.9L121.3 438.5L122.8 438.0L124.2 437.6L125.7 437.2L127.1 436.8L128.6 436.5L130.0 436.2L131.5 435.8L133.0 435.6L134.4 435.3L135.9 435.1L137.4 434.9L138.9 434.7L140.3 434.6L141.8 434.4L143.3 434.4L144.8 434.3L146.3 434.3L147.8 434.3L149.2 434.3L150.7 434.4L152.2 434.5L153.7 434.6L155.2 434.8L156.7 435.0L158.2 435.2L159.7 435.5L161.1 435.8L162.6 436.1L164.1 436.4L165.6 436.8L167.0 437.2L168.5 437.6L169.9 438.0L171.4 438.5L172.8 439.0L174.3 439.5L175.7 440.0L177.1 440.6L178.5 441.2L179.9 441.8L181.3 442.4L182.7 443.1L184.0 443.8L185.4 444.5L186.7 445.2L188.1 445.9L189.4 446.7L190.7 447.4L192.0 448.2L193.2 449.0L194.5 449.9L195.8 450.7L197.0 451.6L198.3 452.4L199.5 453.3L200.7 454.2L201.9 455.1L203.1 456.0L204.3 456.9L205.5 457.9L206.7 458.8L207.9 459.8L209.0 460.7L210.2 461.7L211.3 462.7L212.5 463.7L213.6 464.7L214.7 465.7L215.8 466.7L216.9 467.7L218.0 468.7L219.1 469.8L220.1 470.9L221.2 471.9L222.2 473.0L223.3 474.1L224.3 475.2L225.3 476.3L226.3 477.4L227.3 478.5L228.3 479.6L229.3 480.7L230.3 481.9L231.3 483.0L232.2 484.2L233.2 485.3L234.2 486.5L235.1 487.7L236.0 488.9L237.0 490.1L237.9 491.2L238.8 492.4L239.7 493.7L240.6 494.9L241.5 496.1L242.4 497.3L243.3 498.5L244.2 499.8L245.0 501.0L245.9 502.2L246.7 503.5L247.6 504.7L248.4 506.0L249.3 507.3L250.1 508.5L251.0 509.8L251.8 511.1L252.6 512.3L253.4 513.6L254.2 514.9L255.0 516.2L255.8 517.5L256.6 518.8L257.4 520.1L258.2 521.4L259.0 522.7L259.8 524.0L260.6 525.3L261.4 526.6L262.1 527.9L262.9 529.2L263.7 530.5L264.4 531.8L265.2 533.1L265.9 534.4L266.7 535.7L267.4 537.1L268.2 538.4L268.9 539.7L269.6 541.0L270.4 542.3L271.1 543.7L271.8 545.0L272.5 546.3L273.2 547.7L273.8 549.0L274.5 550.4L275.2 551.7L275.8 553.1L276.5 554.4L277.1 555.8L277.7 557.2L278.3 558.5L278.9 559.9L279.5 561.3L280.1 562.7L280.6 564.1L281.2 565.5L281.7 566.9L282.2 568.3L282.7 569.7L283.2 571.2L283.7 572.6L284.1 574.0L284.5 575.5L285.0 576.9L285.4 578.4L285.7 579.8L286.1 581.3L286.4 582.8L286.8 584.3L287.1 585.8L287.3 587.3L287.6 588.8L287.8 590.3L288.1 591.9L288.3 593.4L288.4 595.0" fill="none" stroke="#234E96" stroke-width="2.0" stroke-linejoin="round" stroke-linecap="round" /><path d="M108.1 595.6L107.7 594.1L107.4 592.5L107.1 591.0L106.9 589.5L106.6 588.0L106.3 586.5L106.1 585.0L105.9 583.5L105.7 582.0L105.5 580.5L105.3 579.0L105.2 577.5L105.0 576.0L104.9 574.5L104.8 573.0L104.7 571.4L104.6 569.9L104.5 568.4L104.4 566.9L104.4 565.4L104.3 563.9L104.3 562.4L104.3 560.9L104.2 559.4L104.2 557.9L104.3 556.4L104.3 554.8L104.3 553.3L104.4 551.8L104.4 550.3L104.5 548.8L104.6 547.3L104.6 545.8L104.7 544.3L104.8 542.8L105.0 541.3L105.1 539.7L105.2 538.2L105.4 536.7L105.5 535.2L105.7 533.7L105.8 532.2L106.0 530.7L106.2 529.2L106.3 527.7L106.5 526.2L106.7 524.7L106.9 523.2L107.2 521.7L107.4 520.1L107.6 518.6L107.8 517.1L108.1 515.6L108.3 514.1L108.5 512.6L108.8 511.1L109.0 509.6L109.3 508.1L109.6 506.6L109.8 505.1L110.1 503.6L110.4 502.1L110.7 500.6L110.9 499.1L111.2 497.6L111.5 496.1L111.8 494.6L112.1 493.1L112.4 491.6L112.7 490.1L113.0 488.6L113.3 487.1L113.6 485.6L113.9 484.1L114.2 482.6L114.5 481.1L114.8 479.6L115.1 478.1L115.4 476.6L115.7 475.1L116.0 473.7L116.4 472.2L116.7 470.7L117.0 469.2L117.3 467.7L117.7 466.2L118.0 464.8L118.3 463.3L118.7 461.8L119.0 460.3L119.4 458.9L119.8 457.4L120.1 455.9L120.5 454.5L120.9 453.0L121.3 451.5L121.7 450.1L122.1 448.6L122.5 447.2L123.0 445.7L123.4 444.3L123.8 442.8L124.3 441.4L124.8 440.0L125.2 438.5L125.7 437.1L126.2 435.7L126.7 434.3L127.2 432.9L127.8 431.5L128.3 430.1L128.9 428.6L129.4 427.3L130.0 425.9L130.6 424.5L131.2 423.1L131.8 421.7L132.5 420.3L133.1 419.0L133.8 417.6L134.4 416.2L135.1 414.9L135.8 413.5L136.5 412.2L137.2 410.9L138.0 409.5L138.7 408.2L139.5 406.9L140.2 405.5L141.0 404.2L141.8 402.9L142.6 401.6L143.4 400.3L144.2 399.0L145.1 397.7L145.9 396.5L146.8 395.2L147.7 393.9L148.5 392.6L149.4 391.4L150.3 390.1L151.3 388.9L152.2 387.6L153.1 386.4L154.1 385.2L155.1 383.9" fill="none" stroke="#50AF5F" stroke-width="1.6" stroke-linejoin="round" stroke-linecap="round" /><path d="M66.3 595.0L288.5 595.0" fill="none" stroke="#A64BA2" stroke-width="1.7" stroke-linejoin="round" stroke-linecap="round" /><path d="M288.4 594.8L288.2 593.3L288.0 591.7L287.8 590.2L287.5 588.7L287.2 587.2L287.0 585.8L286.7 584.3L286.3 582.8L286.0 581.3L285.7 579.8L285.3 578.4L285.0 576.9L284.6 575.5L284.2 574.0L283.8 572.6L283.3 571.1L282.9 569.7L282.5 568.2L282.0 566.8L281.5 565.4L281.1 563.9L280.6 562.5L280.1 561.1L279.5 559.7L279.0 558.3L278.5 556.9L277.9 555.5L277.3 554.1L276.8 552.7L276.2 551.3L275.6 549.9L275.0 548.6L274.4 547.2L273.8 545.8L273.1 544.4L272.5 543.1L271.8 541.7L271.2 540.4L270.5 539.0L269.8 537.6L269.2 536.3L268.5 535.0L267.8 533.6L267.1 532.3L266.3 530.9L265.6 529.6L264.9 528.3L264.2 526.9L263.4 525.6L262.7 524.3L261.9 523.0L261.2 521.7L260.4 520.4L259.6 519.1L258.9 517.7L258.1 516.4L257.3 515.1L256.5 513.8L255.7 512.6L254.9 511.3L254.1 510.0L253.3 508.7L252.5 507.4L251.7 506.1L250.8 504.8L250.0 503.6L249.2 502.3L248.4 501.0L247.5 499.7L246.7 498.5L245.9 497.2L245.0 495.9L244.2 494.7L243.3 493.4L242.5 492.2L241.7 490.9L240.8 489.6L240.0 488.4L239.1 487.1L238.3 485.9L237.4 484.6L236.6 483.4L235.7 482.2L234.9 480.9L234.0 479.7L233.1 478.5L232.3 477.2L231.4 476.0L230.5 474.8L229.6 473.6L228.7 472.4L227.8 471.2L226.9 470.0L226.0 468.8L225.1 467.6L224.1 466.5L223.2 465.3L222.2 464.2L221.3 463.0L220.3 461.9L219.3 460.8L218.3 459.7L217.2 458.6L216.2 457.5L215.1 456.4L214.1 455.4L213.0 454.3L211.9 453.3L210.8 452.3L209.6 451.3L208.5 450.3L207.4 449.3L206.2 448.3L205.0 447.3L203.9 446.4L202.7 445.4L201.5 444.5L200.3 443.6L199.0 442.6L197.8 441.7L196.6 440.9L195.3 440.0L194.1 439.1L192.8 438.3L191.5 437.4L190.2 436.6L188.9 435.8L187.6 435.0L186.3 434.3L185.0 433.5L183.7 432.8L182.4 432.1L181.0 431.3L179.7 430.7L178.3 430.0L176.9 429.4L175.6 428.7L174.2 428.1L172.8 427.6L171.4 427.0L170.0 426.5L168.6 426.0L167.1 425.5L165.7 425.0L164.3 424.6L162.8 424.1L161.4 423.8L159.9 423.4L158.5 423.1L157.0 422.8L155.5 422.5L154.1 422.2L152.6 422.0L151.1 421.8L149.6 421.6L148.1 421.5" fill="none" stroke="#A64BA2" stroke-width="1.4" stroke-linejoin="round" stroke-linecap="round" /><path d="M129.0 436.0L129.0 436.0L129.1 436.0L129.1 436.0L129.2 435.9L129.2 435.9L129.3 435.9L129.3 435.9L129.4 435.8L129.4 435.8L129.4 435.8L129.5 435.7L129.5 435.7L129.5 435.7L129.5 435.6L129.5 435.6L129.6 435.5L129.6 435.5L129.6 435.5L129.6 435.4L129.6 435.4L129.6 435.3L129.6 435.3L129.5 435.2L129.5 435.2L129.5 435.2L129.5 435.1L129.4 435.1L129.4 435.0L129.4 435.0L129.3 434.9L129.3 434.9L129.2 434.8L129.2 434.8L129.1 434.8L129.0 434.7L129.0 434.7L128.9 434.6L128.8 434.6L128.7 434.6L128.6 434.6L128.5 434.5L128.4 434.5L128.3 434.5L128.2 434.5L128.1 434.4L128.0 434.4L127.9 434.4L127.8 434.4L127.7 434.4L127.6 434.4L127.5 434.4L127.3 434.4L127.2 434.4L127.1 434.4L127.0 434.4L126.9 434.4L126.7 434.5L126.6 434.5L126.5 434.5L126.4 434.6L126.3 434.6L126.1 434.6L126.0 434.7L125.9 434.7L125.8 434.8L125.7 434.8L125.6 434.9L125.5 435.0L125.4 435.0L125.3 435.1L125.2 435.2L125.1 435.2L125.0 435.3L124.9 435.4L124.8 435.5L124.8 435.6L124.7 435.7L124.6 435.8L124.6 435.9L124.5 435.9L124.5 436.1L124.5 436.2L124.5 436.3L124.4 436.4L124.4 436.5L124.4 436.6L124.4 436.7L124.4 436.8L124.4 436.9L124.5 437.0L124.5 437.1L124.6 437.3L124.6 437.4L124.7 437.5L124.7 437.6L124.8 437.7L124.9 437.8L125.0 437.9L125.1 438.0L125.2 438.1L125.3 438.2L125.4 438.3L125.6 438.4L125.7 438.5L125.9 438.6L126.0 438.7L126.2 438.8L126.3 438.9L126.5 439.0L126.7 439.1L126.9 439.1L127.1 439.2L127.3 439.3L127.5 439.3L127.7 439.4L127.9 439.4L128.2 439.5L128.4 439.5L128.6 439.6L128.9 439.6L129.1 439.6L129.4 439.6L129.6 439.7L129.9 439.7L130.1 439.7L130.4 439.7L130.6 439.6L130.9 439.6L131.1 439.6L131.4 439.6L131.7 439.5L131.9 439.5L132.2 439.4L132.4 439.4L132.7 439.3L132.9 439.3L133.2 439.2L133.4 439.1L133.6 439.0L133.9 438.9L134.1 438.8L134.3 438.7L134.5 438.6L134.7 438.5L134.9 438.3L135.1 438.2L135.3 438.1L135.5 437.9L135.7 437.8L135.8 437.6L136.0 437.5L136.1 437.3L136.3 437.2L136.4 437.0L136.5 436.8L136.6 436.6L136.7 436.5L136.8 436.3L136.8 436.1L136.9 435.9L137.0 435.7L137.1 435.6L137.2 435.4L137.3 435.2L137.4 435.0L137.4 434.9L137.5 434.7L137.5 434.5L137.5 434.3L137.5 434.2L137.5 434.0L137.4 433.8L137.4 433.6L137.3 433.5L137.2 433.3L137.1 433.1L137.0 433.0L136.9 432.8L136.7 432.7L136.6 432.5L136.4 432.4L136.2 432.2L135.9 432.1L135.7 431.9L135.5 431.8L135.2 431.7L134.9 431.6L134.6 431.5L134.3 431.4L134.0 431.3L133.6 431.2L133.3 431.1L132.9 431.0L132.5 431.0L132.1 430.9L131.7 430.8L131.3 430.8L130.9 430.8L130.4 430.7L130.0 430.7L129.5 430.7L129.1 430.7L128.6 430.7L128.1 430.8L127.7 430.8L127.2 430.8L126.7 430.9L126.2 431.0L125.7 431.0L125.2 431.1L124.7 431.2L124.2 431.3L123.7 431.4L123.2 431.5L122.7 431.7L122.3 431.8L121.8 432.0L121.3 432.1L120.9 432.3L120.4 432.5L120.0 432.7L119.6 432.9L119.2 433.1L118.8 433.3L118.4 433.5L118.0 433.8L117.7 434.0L117.3 434.3L117.0 434.5L116.7 434.8L116.4 435.0L116.2 435.3L115.9 435.6L115.7 435.9L115.5 436.2L115.3 436.4L115.1 436.7L115.0 437.0L114.8 437.3L114.7 437.6L114.7 438.0L114.6 438.3L114.6 438.6L114.6 438.9L114.6 439.2L114.6 439.5L114.7 439.9L114.8 440.2L114.9 440.5L115.1 440.8L115.3 441.1L115.5 441.4L115.7 441.8L116.0 442.1L116.3 442.4L116.6 442.7L117.0 443.0L117.4 443.2L117.8 443.5L118.2 443.8L118.7 444.1L119.2 444.3L119.8 444.6L120.3 444.8L120.9 445.0L121.5 445.3L122.2 445.5L122.8 445.7L123.5 445.8L124.2 446.0L124.9 446.2L125.7 446.3L126.4 446.4L127.2 446.5L128.0 446.6L128.8 446.7L129.6 446.8L130.4 446.9L131.2 446.9L132.0 447.0L132.8 447.0L133.7 447.1L134.5 447.1L135.3 447.1L136.2 447.1L137.0 447.0L137.9 447.0L138.7 446.9L139.5 446.9L140.4 446.8L141.2 446.7L142.0 446.6L142.9 446.5L143.7 446.4L144.5 446.3L145.3 446.1L146.1 446.0L146.9 445.8L147.6 445.6L148.4 445.4L149.1 445.2L149.9 445.0L150.6 444.8L151.3 444.5L152.0 444.3L152.6 444.0L153.3 443.8L153.9 443.5L154.4 443.2L154.9 442.9L155.3 442.5L155.7 442.2L156.1 441.9L156.4 441.5L156.6 441.2L156.9 440.8L157.1 440.5L157.2 440.1L157.4 439.8L157.5 439.4L157.6 439.1L157.6 438.7L157.6 438.4L157.6 438.0L157.6 437.6L157.5 437.3L157.4 436.9L157.3 436.6L157.1 436.2L156.9 435.8L156.7 435.5L156.4 435.1L156.1 434.8L155.7 434.4L155.3 434.1L154.8 433.7L154.4 433.4L153.8 433.0L153.3 432.7L152.7 432.4L152.1 432.1L151.5 431.7L150.8 431.4L150.1 431.1L149.3 430.8L148.5 430.5L147.7 430.3L146.9 430.0L146.0 429.8L145.0 429.5L144.1 429.3L143.1 429.1L142.0 429.0L141.0 428.8L139.9 428.7L138.9 428.5L137.7 428.4L136.6 428.3L135.5 428.2L134.3 428.2L133.2 428.1L132.0 428.1L130.8 428.1L129.6 428.1L128.3 428.1L127.1 428.2L125.9 428.3L124.7 428.4L123.5 428.5L122.2 428.7L121.0 428.8L119.8 429.0L118.6 429.2L117.3 429.4L116.2 429.7L115.0 429.9L113.9 430.3L112.9 430.6L111.9 431.0L110.9 431.4L110.0 431.8L109.1 432.3L108.3 432.7L107.5 433.2L106.7 433.7L106.0 434.2L105.3 434.7L104.6 435.2L104.0 435.8L103.4 436.3L102.8 436.9L102.3 437.4L101.8 438.0L101.4 438.6L100.9 439.2L100.6 439.8L100.2 440.4L99.9 441.0L99.7 441.7L99.4 442.3L99.3 442.9L99.1 443.6L99.0 444.3L99.0 444.9L99.0 445.6L99.0 446.3L99.1 447.0L99.2 447.7L99.4 448.4L99.6 449.1L99.9 449.9L100.3 450.6L100.8 451.3L101.3 452.0L102.0 452.7L102.7 453.4L103.4 454.1L104.3 454.7L105.2 455.4L106.2 456.0L107.4 456.6L108.6 457.2L109.8 457.7L111.1 458.3L112.5 458.8L113.9 459.2L115.5 459.6L117.0 460.0L118.7 460.3L120.3 460.5L122.0 460.7L123.7 460.9L125.3 461.1L127.0 461.2L128.7 461.4L130.3 461.5L132.0 461.6L133.7 461.7L135.3 461.7L137.0 461.7L138.6 461.8L140.3 461.8L141.9 461.7L143.6 461.7L145.2 461.6L146.8 461.6L148.5 461.5L150.1 461.4L151.7 461.2L153.3 461.1L154.9 460.9L156.6 460.7L158.2 460.5L159.8 460.3L161.4 460.0L163.0 459.7L164.6 459.4L166.2 459.1L167.7 458.8L169.3 458.4L170.9 458.0L172.5 457.6L174.0 457.2L175.6 456.7L177.1 456.2L178.6 455.7L179.9 455.1L181.2 454.5L182.2 453.8L183.1 453.1L183.8 452.3L184.4 451.6L184.8 450.8L185.1 450.0L185.3 449.2L185.4 448.4L185.5 447.6L185.5 446.8L185.5 446.0L185.3 445.2L185.1 444.4L184.7 443.6L184.2 442.9L183.8 442.1L183.3 441.3L182.8 440.6L182.3 439.9L181.7 439.1L181.1 438.4L180.5 437.7L179.9 437.0L179.1 436.3L178.4 435.6L177.5 434.9L176.6 434.2L175.6 433.6L174.6 433.0L173.5 432.3L172.4 431.7L171.3 431.1L170.1 430.5L168.9 429.9L167.7 429.3L166.5 428.7L165.1 428.2L163.7 427.6L162.3 427.1L160.7 426.6L159.1 426.2L157.5 425.8L155.7 425.5L154.0 425.2L152.2 424.9L150.4 424.7L148.5 424.5L146.7 424.2L144.8 424.1L142.9 423.9L141.0 423.7L139.0 423.6L137.1 423.5L135.1 423.5L133.1 423.5L131.1 423.6L129.1 423.7L127.1 423.8L125.1 424.0L123.1 424.2L121.2 424.4L119.2 424.7L117.2 425.0L115.2 425.2L113.2 425.6L111.3 425.9L109.4 426.4L107.6 426.9L106.0 427.5L104.5 428.2L103.1 428.9L101.8 429.7L100.7 430.5L99.6 431.3L98.6 432.1L97.6 432.9L96.7 433.8L95.9 434.6L95.1 435.4L94.4 436.3L93.6 437.1L93.0 438.0L92.3 438.8L91.7 439.7L91.1 440.6L90.5 441.4L90.0 442.3L89.6 443.2L89.2 444.1L88.8 445.0L88.4 445.9L88.1 446.8L87.9 447.7L87.7 448.7L87.5 449.6L87.3 450.6L87.2 451.6L87.2 452.6L87.2 453.6L87.2 454.6L87.3 455.7L87.5 456.7L87.8 457.8L88.2 458.8L88.8 459.9L89.6 460.9L90.5 461.9L91.5 462.9L92.6 463.9L93.8 464.8L95.1 465.8L96.7 466.6L98.4 467.4L100.3 468.1L102.2 468.8L104.2 469.4L106.2 470.0L108.4 470.5L110.7 470.9L113.1 471.2L115.5 471.4L118.0 471.5L120.5 471.5L122.9 471.5L125.2 471.5L127.5 471.4L129.8 471.4L132.0 471.3L134.2 471.2L136.3 471.1L138.4 470.9L140.5 470.8L142.5 470.6L144.5 470.5L146.5 470.3L148.5 470.1L150.4 469.9L152.4 469.7L154.3 469.5L156.2 469.3L158.1 469.0L160.0 468.7L161.9 468.5L163.8 468.2L165.7 467.9L167.6 467.6L169.6 467.2L171.5 466.9L173.4 466.5L175.4 466.1L177.3 465.7L179.3 465.3L181.3 464.8L183.3 464.3L185.4 463.8L187.4 463.2L189.4 462.6L191.3 462.0L193.1 461.2L194.6 460.4L195.7 459.5L196.6 458.5L197.2 457.5L197.6 456.5L197.7 455.4L197.6 454.4L197.4 453.3L197.1 452.3L196.7 451.3L196.3 450.3L195.9 449.3L195.3 448.4L194.7 447.5L193.9 446.5L193.1 445.6L192.3 444.8L191.5 443.9L190.7 443.1L190.0 442.2L189.3 441.4L188.5 440.6L187.8 439.7L187.0 438.9L186.2 438.1L185.3 437.3L184.3 436.5L183.2 435.8L182.1 435.1L180.8 434.4L179.6 433.7L178.4 433.0L177.2 432.2L175.9 431.5L174.7 430.8L173.4 430.1L172.0 429.3L170.6 428.6L169.1 427.9L167.5 427.3L165.8 426.7L164.0 426.2L162.1 425.8L160.1 425.4L158.1 425.0L156.1 424.7L154.0 424.4L151.9 424.2L149.8 423.9L147.7 423.6L145.6 423.4L143.4 423.2L141.2 423.0L139.0 422.9L136.7 422.8L134.5 422.8L132.2 422.8L129.9 422.9L127.7 423.1L125.4 423.3L123.2 423.5L121.0 423.8L118.7 424.0L116.5 424.3L114.2 424.6L111.9 424.9L109.7 425.3L107.5 425.8L105.6 426.4L103.8 427.1L102.1 427.9L100.7 428.7L99.4 429.6L98.3 430.6L97.2 431.5L96.2 432.5L95.3 433.4" fill="none" stroke="#A64BA2" stroke-width="1.4" stroke-linejoin="round" stroke-linecap="round" /><path d="M80.7 454.7L81.0 453.2L81.3 451.7L81.6 450.3L82.1 448.8L82.6 447.4L83.1 446.0L83.8 444.7L84.4 443.3L85.2 442.0L85.9 440.7L86.7 439.4L87.6 438.2L88.4 436.9L89.3 435.7L90.3 434.4L91.2 433.3L92.2 432.1L93.2 431.0L94.3 429.9L95.4 428.9L96.6 428.0L97.8 427.1L99.0 426.3L100.3 425.6L101.6 424.9L103.0 424.4L104.4 423.9L105.9 423.4L107.3 423.0L108.8 422.7L110.3 422.4L111.9 422.2L113.4 422.0L114.9 421.8L116.4 421.6L117.9 421.4L119.4 421.3L120.9 421.2L122.4 421.0L123.9 420.9L125.4 420.8L126.9 420.7L128.4 420.7L129.9 420.6L131.4 420.6L132.9 420.5L134.4 420.5L135.9 420.5L137.4 420.5L138.9 420.5L140.4 420.5L141.9 420.6L143.5 420.7L145.0 420.7L146.5 420.9L148.0 421.0L149.5 421.1L151.0 421.3L152.5 421.5L154.0 421.7L155.5 422.0L157.0 422.2L158.5 422.5L160.0 422.8L161.5 423.2L162.9 423.5L164.4 423.9L165.8 424.4L167.2 424.8L168.7 425.3L170.1 425.9L171.5 426.4L172.8 427.0L174.2 427.7L175.6 428.3L176.9 429.0L178.2 429.7L179.5 430.5L180.8 431.3L182.1 432.1L183.3 432.9L184.5 433.8L185.7 434.7L186.9 435.6L188.1 436.6L189.2 437.6L190.3 438.6L191.4 439.7L192.4 440.7L193.5 441.8L194.5 443.0L195.5 444.1L196.4 445.3L197.3 446.5L198.2 447.7L199.0 449.0L199.7 450.4L200.4 451.7L201.0 453.2L201.5 454.6L201.8 456.1L201.8 457.5L201.5 458.9L200.8 460.2L200.0 461.3L198.8 462.3L197.5 463.1L196.1 463.7L194.6 464.3L193.1 464.9L191.7 465.4L190.2 465.9L188.8 466.3L187.3 466.7L185.9 467.1L184.4 467.5L183.0 467.9L181.5 468.3L180.0 468.6L178.6 469.0L177.1 469.3L175.7 469.6L174.2 469.9L172.7 470.2L171.2 470.5L169.8 470.8L168.3 471.1L166.8 471.3L165.3 471.6L163.8 471.8L162.3 472.1L160.8 472.3L159.3 472.5L157.8 472.7L156.3 472.9L154.9 473.1L153.4 473.4L151.9 473.6L150.3 473.7L148.8 473.9L147.3 474.1L145.8 474.3L144.3 474.5L142.8 474.7L141.3 474.9L139.8 475.1L138.3 475.2L136.8 475.4L135.3 475.6L133.8 475.8L132.3 475.9L130.7 476.1L129.2 476.2L127.7 476.3L126.2 476.4L124.7 476.5L123.2 476.6L121.7 476.7L120.2 476.7L118.7 476.7L117.2 476.7L115.7 476.7L114.2 476.7L112.7 476.6L111.2 476.5L109.7 476.4L108.2 476.3L106.7 476.1L105.2 475.9L103.7 475.6L102.2 475.4L100.8 475.1L99.3 474.7L97.8 474.3L96.4 473.9L95.0 473.4L93.6 472.8L92.2 472.2L90.9 471.6L89.5 470.8L88.3 470.0L87.0 469.2L85.9 468.2L84.7 467.2L83.7 466.1L82.7 464.9L81.9 463.6L81.3 462.2L80.9 460.8L80.7 459.3L80.6 457.8L80.6 456.2L80.7 454.7Z" fill="none" stroke="#000" stroke-width="3.0" stroke-linejoin="round" stroke-linecap="round" /></g><path d="M180.00 456.40L168.09 464.48L171.26 458.55L165.70 454.77Z" fill="#111111"/><path d="M236.10 485.70L248.54 492.94L241.82 492.65L240.83 499.30Z" fill="#111111"/><path d="M174.70 595.00L160.70 600.00L165.20 595.00L160.70 590.00Z" fill="#111111"/><circle cx="66.40" cy="595.00" r="3.7" fill="#E52A2E"/><circle cx="288.50" cy="595.00" r="3.7" fill="#E52A2E"/><circle cx="127.60" cy="436.20" r="3.7" fill="#E52A2E"/>
<text x="197.28" y="658.70" font-size="19.7">N</text><path d="M213.00 654.30H229.40M224.50 649.30Q226.15 653.05 230.00 654.30Q226.15 655.55 224.50 659.30" stroke="#222" stroke-width="0.85" fill="none"/>
<g transform="translate(18.90,504.40) rotate(-90)"><text x="-1.67" y="-0.3" font-size="19.1">P</text><path d="M13.00 -4.50H29.40M24.50 -9.50Q26.15 -5.75 30.00 -4.50Q26.15 -3.25 24.50 0.50" stroke="#222" stroke-width="0.85" fill="none"/></g>
<g font-family="Liberation Serif, serif" font-size="23.0"><text x="70.74" y="688.30" text-anchor="middle">(</text><text x="82.01" y="688.30" text-anchor="middle">d</text><text x="93.28" y="688.30" text-anchor="middle">)</text><text x="109.24" y="688.30" font-style="italic" textLength="15.8" lengthAdjust="spacingAndGlyphs">R</text><text x="130.49" y="692.60" text-anchor="middle" font-size="16.5">4</text><text x="147.38" y="688.30" text-anchor="middle">:</text><text x="158.72" y="688.30" font-style="italic" textLength="17.6" lengthAdjust="spacingAndGlyphs">K</text><path d="M185.53 679.40H201.42M185.53 684.60H201.42" stroke="#1a1a1a" stroke-width="1.35"/><text x="215.34" y="688.30" text-anchor="middle">1</text><text x="227.27" y="688.30" text-anchor="middle">5</text><text x="236.54" y="688.30" text-anchor="middle">,</text><text x="250.64" y="688.30" text-anchor="middle" font-style="italic">a</text><path d="M264.41 679.40H280.30M264.41 684.60H280.30" stroke="#1a1a1a" stroke-width="1.35"/><text x="294.22" y="688.30" text-anchor="middle">0</text><text x="303.50" y="688.30" text-anchor="middle">.</text><text x="312.78" y="688.30" text-anchor="middle">1</text><text x="324.70" y="688.30" text-anchor="middle">1</text></g>
</g>
<g id="ax-e">
<rect x="451.50" y="384.50" width="311.00" height="224.00" fill="none" stroke="#b4b4b4" stroke-width="1"/>
<path d="M451.50 384.50V608.50" stroke="#555" stroke-width="1"/>
<path d="M451.50 608.50v-3.5M451.50 384.50v3.5" stroke="#505050" stroke-width="1"/>
<text x="451.80" y="634.76" font-size="19.5" text-anchor="middle">0</text>
<path d="M529.50 608.50v-3.5M529.50 384.50v3.5" stroke="#505050" stroke-width="1"/>
<text x="529.40" y="634.76" font-size="19.5" text-anchor="middle">0.5</text>
<path d="M607.50 608.50v-3.5M607.50 384.50v3.5" stroke="#505050" stroke-width="1"/>
<text x="607.00" y="634.76" font-size="19.5" text-anchor="middle">1</text>
<path d="M684.50 608.50v-3.5M684.50 384.50v3.5" stroke="#505050" stroke-width="1"/>
<text x="684.60" y="634.76" font-size="19.5" text-anchor="middle">1.5</text>
<path d="M762.50 608.50v-3.5M762.50 384.50v3.5" stroke="#505050" stroke-width="1"/>
<text x="762.20" y="634.76" font-size="19.5" text-anchor="middle">2</text>
<path d="M451.50 608.50h3.5M762.50 608.50h-3.5" stroke="#505050" stroke-width="1"/>
<text x="445.00" y="616.58" font-size="19.5" text-anchor="end">0</text>
<path d="M451.50 552.50h3.5M762.50 552.50h-3.5" stroke="#505050" stroke-width="1"/>
<text x="445.00" y="560.73" font-size="19.5" text-anchor="end">1</text>
<path d="M451.50 496.50h3.5M762.50 496.50h-3.5" stroke="#505050" stroke-width="1"/>
<text x="445.00" y="504.88" font-size="19.5" text-anchor="end">2</text>
<path d="M451.50 440.50h3.5M762.50 440.50h-3.5" stroke="#505050" stroke-width="1"/>
<text x="445.00" y="449.03" font-size="19.5" text-anchor="end">3</text>
<path d="M451.50 384.50h3.5M762.50 384.50h-3.5" stroke="#505050" stroke-width="1"/>
<text x="445.00" y="393.18" font-size="19.5" text-anchor="end">4</text>
<clipPath id="cl-e"><rect x="450.30" y="383.40" width="313.40" height="226.40"/></clipPath><g clip-path="url(#cl-e)"><path d="M548.1 384.1L548.3 385.5L548.4 387.0L548.6 388.5L548.7 390.0L548.8 391.5L548.9 393.0L549.1 394.5L549.2 396.0L549.3 397.5L549.4 399.0L549.4 400.5L549.5 402.0L549.6 403.5L549.7 405.0L549.7 406.6L549.8 408.1L549.9 409.6L549.9 411.1L550.0 412.6L550.0 414.1L550.1 415.6L550.2 417.2L550.2 418.7L550.3 420.2L550.3 421.7L550.4 423.2L550.4 424.7L550.5 426.2L550.5 427.8L550.6 429.3L550.6 430.8L550.7 432.3L550.8 433.8L550.8 435.3L550.9 436.9L551.0 438.4L551.1 439.9L551.2 441.4L551.3 442.9L551.4 444.4L551.5 445.9L551.6 447.4L551.7 448.9L551.8 450.4L552.0 451.9L552.1 453.4L552.3 454.9L552.4 456.4L552.6 457.9L552.8 459.4L553.0 460.9L553.2 462.4L553.4 463.9L553.6 465.4L553.9 466.8L554.1 468.3L554.4 469.8L554.6 471.3L554.9 472.7L555.2 474.2L555.6 475.7L555.9 477.1L556.2 478.6L556.6 480.0L557.0 481.5L557.4 482.9L557.8 484.4L558.2 485.8L558.6 487.3L559.0 488.7L559.5 490.1L560.0 491.6L560.4 493.0L560.9 494.4L561.4 495.8L561.9 497.3L562.5 498.7L563.0 500.1L563.6 501.5L564.1 502.9L564.7 504.3L565.3 505.7L565.9 507.1L566.5 508.5L567.1 509.8L567.8 511.2L568.4 512.6L569.1 514.0L569.7 515.3L570.4 516.7L571.1 518.0L571.8 519.4L572.5 520.7L573.2 522.1L573.9 523.4L574.7 524.8L575.4 526.1L576.2 527.4L577.0 528.7L577.8 530.0L578.6 531.3L579.4 532.6L580.2 533.9L581.0 535.2L581.9 536.4L582.7 537.7L583.6 538.9L584.5 540.1L585.4 541.4L586.3 542.6L587.3 543.7L588.2 544.9L589.2 546.1L590.1 547.2L591.1 548.4L592.1 549.5L593.1 550.6L594.2 551.7L595.2 552.7L596.3 553.8L597.4 554.8L598.5 555.8L599.6 556.8L600.7 557.8L601.8 558.8L603.0 559.7L604.1 560.6L605.3 561.6L606.5 562.5L607.7 563.3L608.9 564.2L610.2 565.1L611.4 565.9L612.6 566.7L613.9 567.5L615.2 568.3L616.4 569.1L617.7 569.8L619.0 570.6L620.4 571.3L621.7 572.0L623.0 572.7L624.3 573.4L625.7 574.0L627.0 574.7L628.4 575.3L629.8 576.0L631.2 576.6L632.5 577.1L633.9 577.7L635.3 578.3L636.8 578.8L638.2 579.4L639.6 579.9L641.0 580.4L642.4 580.9L643.9 581.4L645.3 581.9L646.8 582.3L648.2 582.8L649.7 583.2L651.1 583.7L652.6 584.1L654.1 584.5L655.5 584.9L657.0 585.3L658.5 585.7L659.9 586.1L661.4 586.5L662.9 586.8L664.4 587.2L665.9 587.6L667.3 587.9L668.8 588.2L670.3 588.6L671.8 588.9L673.3 589.2L674.8 589.5L676.2 589.9L677.7 590.2L679.2 590.5L680.7 590.8L682.2 591.1L683.7 591.3L685.1 591.6L686.6 591.9L688.1 592.2L689.6 592.4L691.1 592.7L692.6 593.0L694.0 593.2L695.5 593.5L697.0 593.7L698.5 594.0L700.0 594.2L701.5 594.4L703.0 594.6L704.5 594.9L705.9 595.1L707.4 595.3L708.9 595.5L710.4 595.7L711.9 595.9L713.4 596.1L714.9 596.3L716.4 596.5L717.9 596.7L719.4 596.9L720.8 597.0L722.3 597.2L723.8 597.4L725.3 597.5L726.8 597.7L728.3 597.9L729.8 598.0L731.3 598.2L732.8 598.3L734.3 598.4L735.8 598.6L737.3 598.7L738.8 598.9L740.3 599.0L741.9 599.1L743.4 599.2L744.9 599.3L746.4 599.5L747.9 599.6L749.4 599.7L750.9 599.8L752.4 599.9L753.9 600.0L755.5 600.1L757.0 600.2L758.5 600.3L760.0 600.4L761.5 600.4L763.1 600.5" fill="none" stroke="#50AF5F" stroke-width="2.4" stroke-linejoin="round" stroke-linecap="round" /><path d="M452.3 534.0L452.3 553.3L460.0 554.2L471.7 554.7L525.0 555.6L591.7 556.0L600.0 556.3L763.0 556.9" fill="none" stroke="#E6E650" stroke-width="2.2" stroke-linejoin="round" stroke-linecap="round" /><path d="M452.3 384.5L452.3 534.0" fill="none" stroke="#A64BA2" stroke-width="2.4" stroke-linejoin="round" stroke-linecap="round" /><path d="M466.5 383.8L466.3 385.7L466.2 387.5L466.2 389.2L466.2 391.0L466.3 392.6L466.5 394.3L466.7 395.8L467.1 397.4L467.5 398.9L467.9 400.3L468.5 401.7L469.1 403.1L469.7 404.4L470.4 405.7L471.2 407.0L472.0 408.2L472.9 409.3L473.8 410.5L474.8 411.6L475.8 412.7L476.8 413.7L477.9 414.7L479.0 415.7L480.2 416.6L481.4 417.5L482.6 418.4L483.9 419.2L485.2 420.0L486.5 420.8L487.8 421.6L489.2 422.3L490.6 423.0L492.0 423.7L493.4 424.4L494.8 425.0L496.3 425.7L497.7 426.3L499.2 426.9L500.6 427.5L502.1 428.1L503.6 428.7L505.0 429.3L506.5 429.9L508.0 430.5L509.5 431.1L510.9 431.7L512.4 432.3L513.8 432.9L515.2 433.6L516.6 434.2L518.0 434.9L519.4 435.5L520.8 436.2L522.1 436.9L523.4 437.7L524.7 438.4L526.0 439.2L527.2 440.0L528.5 440.9L529.6 441.7L530.8 442.6L531.9 443.6L532.9 444.5" fill="none" stroke="#A64BA2" stroke-width="2.4" stroke-linejoin="round" stroke-linecap="round" /><path d="M498.7 384.4L497.0 385.0L495.4 385.7L493.9 386.5L492.5 387.5L491.3 388.5L490.1 389.6L489.1 390.7L488.2 392.0L487.4 393.3L486.8 394.7L486.2 396.1L485.7 397.5L485.4 399.0L485.1 400.5L485.0 402.0L485.0 403.5L485.0 405.0L485.2 406.4L485.5 407.9L485.8 409.4L486.3 410.8L486.8 412.2L487.4 413.5L488.1 414.9L488.9 416.2L489.8 417.4L490.7 418.6L491.7 419.8L492.7 420.8L493.8 421.9L495.0 422.9L496.2 423.8L497.4 424.7L498.7 425.6L500.0 426.4L501.4 427.2L502.7 428.0L504.1 428.8L505.6 429.5L507.0 430.2L508.5 430.9L509.9 431.6L511.4 432.3L512.8 433.0L514.3 433.6L515.7 434.3L517.1 435.0L518.5 435.7L519.9 436.4L521.3 437.1L522.6 437.8L523.9 438.6L525.2 439.4L526.4 440.2L527.6 441.0L528.7 441.9L529.8 442.8" fill="none" stroke="#A64BA2" stroke-width="2.4" stroke-linejoin="round" stroke-linecap="round" /><path d="M452.0 414.6L452.2 416.3L452.4 418.0L452.8 419.7L453.1 421.3L453.6 422.9L454.1 424.4L454.7 425.8L455.3 427.2L456.0 428.6L456.8 429.9L457.6 431.1L458.4 432.4L459.3 433.5L460.2 434.6L461.2 435.7L462.3 436.7L463.3 437.7L464.4 438.7L465.6 439.6L466.8 440.4L468.0 441.3L469.2 442.1L470.5 442.8L471.8 443.6L473.1 444.2L474.5 444.9L475.9 445.5L477.3 446.1L478.7 446.7L480.1 447.2L481.5 447.7L483.0 448.2L484.5 448.7L485.9 449.1L487.4 449.5L488.9 449.9L490.4 450.2L491.9 450.6L493.4 450.9L494.9 451.2L496.5 451.5L498.0 451.8L499.5 452.0L501.0 452.3L502.6 452.5L504.1 452.7L505.7 452.9L507.2 453.1L508.8 453.3L510.3 453.5L511.8 453.7L513.4 453.8L514.9 454.0L516.5 454.2L518.0 454.3L519.6 454.5L521.1 454.7L522.6 454.8L524.1 455.0L525.7 455.2L527.2 455.4L528.7 455.6L530.2 455.8L531.7 456.0L533.2 456.2L534.7 456.4L536.1 456.6L537.6 456.9L539.0 457.1L540.5 457.4L541.9 457.7L543.3 458.0L544.7 458.4" fill="none" stroke="#A64BA2" stroke-width="2.4" stroke-linejoin="round" stroke-linecap="round" /><path d="M452.1 454.7L452.1 456.6L452.3 458.4L452.6 460.0L453.1 461.5L453.6 463.0L454.3 464.3L455.0 465.5L455.9 466.6L456.8 467.7L457.8 468.6L458.9 469.5L460.1 470.3L461.3 471.0L462.5 471.7L463.9 472.3L465.2 472.8L466.6 473.3L468.0 473.7L469.4 474.1L470.9 474.5L472.3 474.7L473.8 475.0L475.4 475.2L476.9 475.4L478.4 475.6L480.0 475.7L481.6 475.8L483.1 475.9L484.7 476.0L486.3 476.1L487.9 476.2L489.5 476.2L491.1 476.3L492.6 476.4L494.2 476.5L495.8 476.5L497.3 476.6L498.9 476.8L500.4 476.9L501.9 477.0L503.5 477.1L505.0 477.2L506.5 477.4L508.0 477.5L509.5 477.6L511.0 477.7L512.5 477.9L514.0 478.0L515.5 478.1L517.0 478.2L518.5 478.4L520.0 478.5L521.5 478.6L523.0 478.7L524.5 478.8L526.0 478.8L527.5 478.9L529.0 479.0L530.5 479.0L532.1 479.1L533.6 479.1L535.1 479.1L536.6 479.1L538.1 479.1L539.7 479.0L541.2 479.0L542.7 478.9L544.3 478.8L545.9 478.7L547.4 478.6L549.0 478.4L550.6 478.2L552.2 478.0" fill="none" stroke="#A64BA2" stroke-width="2.4" stroke-linejoin="round" stroke-linecap="round" /><path d="M451.5 486.6L452.4 487.7L453.4 488.7L454.4 489.7L455.5 490.6L456.7 491.4L457.9 492.1L459.1 492.7L460.5 493.3L461.8 493.8L463.2 494.3L464.6 494.7L466.1 495.0L467.6 495.3L469.1 495.6L470.6 495.8L472.2 496.0L473.7 496.2L475.3 496.4L476.9 496.5L478.5 496.7L480.0 496.8L481.6 496.9L483.1 497.1L484.7 497.2L486.2 497.3L487.8 497.4L489.3 497.5L490.9 497.6L492.4 497.7L493.9 497.8L495.5 497.9L497.0 498.0L498.5 498.1L500.0 498.2L501.6 498.3L503.1 498.4L504.6 498.4L506.1 498.5L507.6 498.6L509.2 498.6L510.7 498.7L512.2 498.8L513.7 498.8L515.3 498.9L516.8 498.9L518.3 499.0L519.9 499.1L521.4 499.1L522.9 499.2L524.5 499.2L526.0 499.2L527.5 499.3L529.1 499.3L530.6 499.4L532.1 499.4L533.7 499.4L535.2 499.4L536.7 499.5L538.3 499.5L539.8 499.5L541.3 499.5L542.9 499.5L544.4 499.6L546.0 499.6L547.5 499.6L549.0 499.6L550.6 499.6L552.1 499.6L553.6 499.5L555.2 499.5L556.7 499.5L558.2 499.5L559.8 499.5L561.3 499.4L562.8 499.4L564.4 499.4L565.9 499.3L567.4 499.3L568.9 499.3L570.5 499.2L572.0 499.1" fill="none" stroke="#A64BA2" stroke-width="2.4" stroke-linejoin="round" stroke-linecap="round" /><path d="M451.5 502.4L452.2 503.9L453.0 505.2L453.9 506.3L454.9 507.4L455.9 508.3L457.0 509.2L458.2 509.9L459.4 510.5L460.7 511.1L462.0 511.6L463.4 512.0L464.8 512.4L466.3 512.7L467.8 512.9L469.3 513.1L470.8 513.3L472.3 513.4L473.9 513.5L475.5 513.6L477.0 513.7L478.6 513.7L480.1 513.8L481.7 513.8L483.2 513.9L484.8 513.9L486.3 514.0L487.8 514.0L489.4 514.0L490.9 514.1L492.4 514.1L494.0 514.1L495.5 514.1L497.0 514.2L498.5 514.2L500.1 514.2L501.6 514.2L503.1 514.3L504.6 514.3L506.1 514.3L507.6 514.4L509.2 514.4L510.7 514.4L512.2 514.5L513.7 514.5L515.2 514.6L516.7 514.6L518.3 514.6L519.8 514.7L521.3 514.7L522.8 514.8L524.3 514.8L525.9 514.9L527.4 515.0L528.9 515.0L530.4 515.1L531.9 515.1L533.5 515.2L535.0 515.2L536.5 515.3L538.0 515.3L539.5 515.4L541.1 515.4L542.6 515.5L544.1 515.5L545.6 515.6L547.1 515.6L548.7 515.6L550.2 515.7L551.7 515.7L553.2 515.7L554.7 515.8L556.3 515.8L557.8 515.8L559.3 515.8L560.8 515.8L562.3 515.8L563.9 515.8L565.4 515.8L566.9 515.8L568.4 515.8L569.9 515.8L571.5 515.8L573.0 515.7L574.5 515.7L576.0 515.6L577.5 515.6L579.0 515.5L580.6 515.5L582.1 515.4" fill="none" stroke="#A64BA2" stroke-width="2.4" stroke-linejoin="round" stroke-linecap="round" /><path d="M452.0 527.1L452.1 528.8L452.5 530.3L453.1 531.6L453.9 532.7L454.8 533.7L455.9 534.5L457.1 535.1L458.4 535.7L459.7 536.1L461.1 536.6L462.5 536.9L464.0 537.2L465.4 537.5L466.9 537.7L468.5 537.9L470.0 538.1L471.6 538.2L473.1 538.3L474.7 538.4L476.3 538.5L477.9 538.5L479.4 538.6L481.0 538.7L482.6 538.7L484.1 538.8L485.7 538.8L487.2 538.9L488.8 539.0L490.3 539.0L491.8 539.1L493.4 539.2L494.9 539.2L496.4 539.3L497.9 539.3L499.4 539.4L501.0 539.5L502.5 539.5L504.0 539.6L505.5 539.7L507.0 539.7L508.5 539.8L510.0 539.8L511.5 539.9L513.0 540.0L514.5 540.0L516.0 540.1L517.5 540.1L519.1 540.2L520.6 540.2L522.1 540.3L523.6 540.3L525.1 540.3L526.7 540.4L528.2 540.4L529.7 540.5L531.2 540.5L532.8 540.5L534.3 540.6L535.8 540.6L537.4 540.6L538.9 540.6L540.4 540.6L542.0 540.7L543.5 540.7L545.0 540.7L546.6 540.7L548.1 540.7L549.6 540.7L551.2 540.7L552.7 540.7L554.2 540.8L555.8 540.8L557.3 540.8L558.8 540.7L560.4 540.7L561.9 540.7L563.4 540.7L565.0 540.7L566.5 540.7L568.0 540.7L569.5 540.7L571.1 540.7L572.6 540.6L574.1 540.6L575.6 540.6L577.1 540.6L578.7 540.5L580.2 540.5L581.7 540.5L583.2 540.4L584.7 540.4L586.2 540.4L587.7 540.3L589.2 540.3L590.7 540.2L592.2 540.2" fill="none" stroke="#A64BA2" stroke-width="2.4" stroke-linejoin="round" stroke-linecap="round" /><path d="M453.7 566.3L455.2 566.4L456.7 566.4L458.3 566.5L459.8 566.6L461.3 566.6L462.8 566.7L464.3 566.7L465.9 566.8L467.4 566.9L468.9 566.9L470.4 567.0L471.9 567.0L473.4 567.1L475.0 567.1L476.5 567.2L478.0 567.2L479.5 567.3L481.0 567.3L482.6 567.4L484.1 567.4L485.6 567.5L487.1 567.5L488.6 567.6L490.2 567.6L491.7 567.7L493.2 567.7L494.7 567.7L496.2 567.8L497.8 567.8L499.3 567.9L500.8 567.9L502.3 567.9L503.8 568.0L505.4 568.0L506.9 568.0L508.4 568.1L509.9 568.1L511.4 568.2L513.0 568.2L514.5 568.2L516.0 568.2L517.5 568.3L519.0 568.3L520.6 568.3L522.1 568.4L523.6 568.4L525.1 568.4L526.7 568.4L528.2 568.5L529.7 568.5L531.2 568.5L532.7 568.5L534.3 568.5L535.8 568.6L537.3 568.6L538.8 568.6L540.3 568.6L541.9 568.6L543.4 568.6L544.9 568.7L546.4 568.7L547.9 568.7L549.5 568.7L551.0 568.7L552.5 568.7L554.0 568.7L555.5 568.7L557.1 568.7L558.6 568.7L560.1 568.7L561.6 568.7L563.1 568.7L564.7 568.8L566.2 568.8L567.7 568.8L569.2 568.8L570.7 568.8L572.3 568.7L573.8 568.7L575.3 568.7L576.8 568.7L578.3 568.7L579.8 568.7L581.4 568.7L582.9 568.7L584.4 568.7L585.9 568.7L587.4 568.7L589.0 568.7L590.5 568.7L592.0 568.6L593.5 568.6L595.0 568.6L596.5 568.6L598.1 568.6L599.6 568.6L601.1 568.5" fill="none" stroke="#A64BA2" stroke-width="2.4" stroke-linejoin="round" stroke-linecap="round" /><path d="M453.7 593.9L455.2 594.0L456.8 594.0L458.3 594.1L459.8 594.1L461.3 594.1L462.9 594.2L464.4 594.2L465.9 594.2L467.5 594.3L469.0 594.3L470.5 594.3L472.0 594.4L473.6 594.4L475.1 594.4L476.6 594.5L478.1 594.5L479.7 594.5L481.2 594.5L482.7 594.6L484.3 594.6L485.8 594.6L487.3 594.6L488.8 594.7L490.4 594.7L491.9 594.7L493.4 594.7L495.0 594.7L496.5 594.8L498.0 594.8L499.5 594.8L501.1 594.8L502.6 594.8L504.1 594.9L505.7 594.9L507.2 594.9L508.7 594.9L510.2 594.9L511.8 594.9L513.3 595.0L514.8 595.0L516.4 595.0L517.9 595.0L519.4 595.0L520.9 595.0L522.5 595.0L524.0 595.1L525.5 595.1L527.1 595.1L528.6 595.1L530.1 595.1L531.6 595.1L533.2 595.1L534.7 595.1L536.2 595.2L537.8 595.2L539.3 595.2L540.8 595.2L542.3 595.2L543.9 595.2L545.4 595.2L546.9 595.2L548.5 595.2L550.0 595.2L551.5 595.3L553.0 595.3L554.6 595.3L556.1 595.3L557.6 595.3L559.1 595.3L560.7 595.3L562.2 595.3L563.7 595.3L565.3 595.3L566.8 595.3L568.3 595.4L569.8 595.4L571.4 595.4L572.9 595.4L574.4 595.4L576.0 595.4L577.5 595.4L579.0 595.4L580.5 595.4L582.1 595.4L583.6 595.4L585.1 595.5L586.7 595.5L588.2 595.5L589.7 595.5L591.2 595.5L592.8 595.5L594.3 595.5L595.8 595.5L597.4 595.5L598.9 595.5L600.4 595.6L601.9 595.6L603.5 595.6L605.0 595.6" fill="none" stroke="#A64BA2" stroke-width="2.4" stroke-linejoin="round" stroke-linecap="round" /><path d="M451.8 608.1L762.5 608.1" fill="none" stroke="#A64BA2" stroke-width="2.4" stroke-linejoin="round" stroke-linecap="round" /><path d="M763.0 412.8L761.5 412.8L760.0 412.7L758.5 412.7L757.0 412.7L755.4 412.7L753.9 412.7L752.4 412.6L750.9 412.6L749.4 412.6L747.9 412.6L746.4 412.5L744.9 412.5L743.4 412.5L741.9 412.5L740.4 412.4L738.9 412.4L737.4 412.4L735.9 412.3L734.3 412.3L732.8 412.3L731.3 412.3L729.8 412.2L728.3 412.2L726.8 412.2L725.3 412.1L723.8 412.1L722.3 412.1L720.8 412.1L719.3 412.0L717.8 412.0L716.2 412.0L714.7 411.9L713.2 411.9L711.7 411.9L710.2 411.8L708.7 411.8L707.2 411.8L705.7 411.7L704.2 411.7L702.7 411.7L701.1 411.6L699.6 411.6L698.1 411.5L696.6 411.5L695.1 411.5L693.6 411.4L692.1 411.4L690.6 411.4L689.1 411.3L687.6 411.3L686.1 411.3L684.5 411.2L683.0 411.2L681.5 411.1L680.0 411.1L678.5 411.1L677.0 411.0L675.5 411.0L674.0 410.9L672.5 410.9L671.0 410.9L669.4 410.8L667.9 410.8L666.4 410.7L664.9 410.7L663.4 410.7L661.9 410.6L660.4 410.6L658.9 410.5L657.4 410.5L655.9 410.5L654.4 410.4L652.8 410.4L651.3 410.3L649.8 410.3L648.3 410.2L646.8 410.2L645.3 410.2L643.8 410.1L642.3 410.1L640.8 410.0L639.3 410.0L637.8 409.9L636.2 409.9L634.7 409.9L633.2 409.8L631.7 409.8L630.2 409.7L628.7 409.7L627.2 409.6L625.7 409.6L624.2 409.6L622.7 409.5L621.2 409.5L619.7 409.4L618.2 409.4L616.6 409.3L615.1 409.3L613.6 409.2L612.1 409.2L610.6 409.2L609.1 409.1L607.6 409.1L606.1 409.0L604.6 409.0L603.1 408.9L601.6 408.9L600.1 408.8L598.6 408.8L597.1 408.8L595.6 408.7L594.1 408.7L592.6 408.6L591.0 408.6L589.5 408.5L588.0 408.5L586.5 408.5L585.0 408.4L583.5 408.4L582.0 408.4L580.5 408.3L579.0 408.3L577.5 408.2L576.0 408.2L574.5 408.2L573.0 408.2L571.5 408.1L570.0 408.1L568.4 408.1L566.9 408.1L565.4 408.0L563.9 408.0L562.4 408.0L560.9 408.0L559.4 408.0L557.9 408.0L556.4 407.9L554.8 407.9L553.3 407.9L551.8 407.9L550.3 407.9L548.8 407.9L547.3 407.9L545.8 407.9L544.2 408.0L542.7 408.0L541.2 408.0L539.7 408.0L538.2 408.0L536.6 408.0L535.1 408.1L533.6 408.1L532.1 408.1L530.5 408.2L529.0 408.2L527.5 408.3L526.0 408.4L524.5 408.5L523.0 408.6L521.5 408.8L520.0 409.1L518.5 409.4L517.1 409.7L515.7 410.2L514.3 410.7L512.9 411.3L511.5 412.0L510.3 412.8L509.3 413.8L508.4 414.9L507.8 416.1L507.4 417.4L507.2 418.7L507.4 419.9L507.7 421.2L508.3 422.4L509.1 423.7L510.0 424.8L511.1 426.0L512.3 427.1L513.5 428.2L514.9 429.3L516.2 430.3L517.6 431.2L519.0 432.1L520.3 433.0L521.6 433.8L522.8 434.5L523.9 435.2L524.8 435.8" fill="none" stroke="#A64BA2" stroke-width="2.4" stroke-linejoin="round" stroke-linecap="round" /><path d="M763.0 441.0L761.5 441.0L760.0 440.9L758.5 440.9L757.0 440.8L755.4 440.8L753.9 440.8L752.4 440.7L750.9 440.7L749.4 440.7L747.9 440.6L746.3 440.6L744.8 440.6L743.3 440.6L741.8 440.5L740.3 440.5L738.8 440.5L737.3 440.5L735.7 440.4L734.2 440.4L732.7 440.4L731.2 440.4L729.7 440.3L728.2 440.3L726.7 440.3L725.2 440.3L723.6 440.3L722.1 440.2L720.6 440.2L719.1 440.2L717.6 440.2L716.1 440.2L714.6 440.2L713.0 440.1L711.5 440.1L710.0 440.1L708.5 440.1L707.0 440.1L705.5 440.1L704.0 440.1L702.5 440.0L700.9 440.0L699.4 440.0L697.9 440.0L696.4 440.0L694.9 440.0L693.4 439.9L691.9 439.9L690.4 439.9L688.8 439.9L687.3 439.9L685.8 439.9L684.3 439.8L682.8 439.8L681.3 439.8L679.8 439.8L678.3 439.8L676.8 439.7L675.2 439.7L673.7 439.7L672.2 439.7L670.7 439.7L669.2 439.6L667.7 439.6L666.2 439.6L664.7 439.6L663.1 439.5L661.6 439.5L660.1 439.5L658.6 439.4L657.1 439.4L655.6 439.4L654.1 439.4L652.6 439.3L651.0 439.3L649.5 439.2L648.0 439.2L646.5 439.2L645.0 439.1L643.5 439.1L642.0 439.1L640.4 439.0L638.9 439.0L637.4 438.9L635.9 438.9L634.4 438.8L632.9 438.8L631.4 438.7L629.8 438.7L628.3 438.6L626.8 438.6L625.3 438.5L623.8 438.4L622.3 438.4L620.8 438.3L619.2 438.3L617.7 438.2L616.2 438.1L614.7 438.1L613.2 438.0L611.7 438.0L610.2 437.9L608.6 437.8L607.1 437.8L605.6 437.7L604.1 437.7L602.6 437.6L601.1 437.5L599.6 437.5L598.0 437.4L596.5 437.4L595.0 437.3L593.5 437.3L592.0 437.2L590.5 437.2L589.0 437.1L587.4 437.1L585.9 437.0L584.4 437.0L582.9 437.0L581.4 436.9L579.9 436.9L578.4 436.9L576.9 436.8L575.3 436.8L573.8 436.8L572.3 436.8L570.8 436.8L569.3 436.7L567.8 436.7L566.3 436.7L564.8 436.7L563.3 436.7L561.8 436.7L560.2 436.7L558.7 436.8L557.2 436.8L555.7 436.8L554.2 436.9L552.7 436.9L551.2 436.9L549.7 437.0L548.2 437.0L546.7 437.1L545.2 437.2L543.7 437.3L542.2 437.4L540.7 437.5L539.2 437.6L537.7 437.7L536.2 437.8L534.7 437.9L533.2 438.1L531.7 438.2L530.2 438.4L528.8 438.5L527.3 438.7" fill="none" stroke="#A64BA2" stroke-width="2.4" stroke-linejoin="round" stroke-linecap="round" /><path d="M763.0 468.8L761.5 468.8L760.0 468.8L758.5 468.7L757.0 468.7L755.4 468.7L753.9 468.7L752.4 468.6L750.9 468.6L749.4 468.6L747.9 468.6L746.4 468.5L744.9 468.5L743.4 468.5L741.8 468.5L740.3 468.4L738.8 468.4L737.3 468.4L735.8 468.4L734.3 468.3L732.8 468.3L731.3 468.3L729.8 468.3L728.2 468.2L726.7 468.2L725.2 468.2L723.7 468.2L722.2 468.1L720.7 468.1L719.2 468.1L717.7 468.1L716.2 468.0L714.7 468.0L713.1 468.0L711.6 468.0L710.1 467.9L708.6 467.9L707.1 467.9L705.6 467.9L704.1 467.8L702.6 467.8L701.1 467.8L699.5 467.8L698.0 467.7L696.5 467.7L695.0 467.7L693.5 467.7L692.0 467.6L690.5 467.6L689.0 467.6L687.5 467.6L685.9 467.5L684.4 467.5L682.9 467.5L681.4 467.5L679.9 467.4L678.4 467.4L676.9 467.4L675.4 467.4L673.9 467.3L672.3 467.3L670.8 467.3L669.3 467.2L667.8 467.2L666.3 467.2L664.8 467.2L663.3 467.1L661.8 467.1L660.3 467.1L658.7 467.0L657.2 467.0L655.7 467.0L654.2 467.0L652.7 466.9L651.2 466.9L649.7 466.9L648.2 466.8L646.7 466.8L645.2 466.8L643.6 466.8L642.1 466.7L640.6 466.7L639.1 466.7L637.6 466.6L636.1 466.6L634.6 466.6L633.1 466.6L631.6 466.5L630.0 466.5L628.5 466.5L627.0 466.4L625.5 466.4L624.0 466.4L622.5 466.3L621.0 466.3L619.5 466.3L618.0 466.2L616.4 466.2L614.9 466.2L613.4 466.1L611.9 466.1L610.4 466.1L608.9 466.0L607.4 466.0L605.9 466.0L604.4 465.9L602.9 465.9L601.3 465.9L599.8 465.8L598.3 465.8L596.8 465.8L595.3 465.7L593.8 465.7L592.3 465.7L590.8 465.6L589.3 465.6L587.7 465.6L586.2 465.5L584.7 465.5L583.2 465.5L581.7 465.4L580.2 465.4L578.7 465.4L577.2 465.3L575.7 465.3L574.1 465.2L572.6 465.2L571.1 465.2L569.6 465.1L568.1 465.1L566.6 465.1L565.1 465.0L563.6 465.0L562.1 464.9L560.6 464.9L559.0 464.9L557.5 464.8L556.0 464.8L554.5 464.7L553.0 464.7" fill="none" stroke="#A64BA2" stroke-width="2.4" stroke-linejoin="round" stroke-linecap="round" /><path d="M763.0 496.9L761.5 496.9L760.0 496.9L758.4 496.8L756.9 496.8L755.4 496.8L753.9 496.7L752.4 496.7L750.8 496.7L749.3 496.7L747.8 496.6L746.3 496.6L744.8 496.6L743.2 496.5L741.7 496.5L740.2 496.5L738.7 496.5L737.2 496.4L735.6 496.4L734.1 496.4L732.6 496.3L731.1 496.3L729.6 496.3L728.0 496.3L726.5 496.2L725.0 496.2L723.5 496.2L722.0 496.2L720.4 496.1L718.9 496.1L717.4 496.1L715.9 496.1L714.4 496.0L712.9 496.0L711.3 496.0L709.8 496.0L708.3 495.9L706.8 495.9L705.3 495.9L703.7 495.9L702.2 495.8L700.7 495.8L699.2 495.8L697.7 495.8L696.1 495.7L694.6 495.7L693.1 495.7L691.6 495.7L690.1 495.6L688.5 495.6L687.0 495.6L685.5 495.6L684.0 495.5L682.5 495.5L680.9 495.5L679.4 495.5L677.9 495.4L676.4 495.4L674.9 495.4L673.3 495.4L671.8 495.3L670.3 495.3L668.8 495.3L667.3 495.3L665.7 495.2L664.2 495.2L662.7 495.2L661.2 495.2L659.7 495.1L658.1 495.1L656.6 495.1L655.1 495.1L653.6 495.0L652.1 495.0L650.5 495.0L649.0 495.0L647.5 494.9L646.0 494.9L644.5 494.9L642.9 494.9L641.4 494.8L639.9 494.8L638.4 494.8L636.9 494.8L635.3 494.7L633.8 494.7L632.3 494.7L630.8 494.7L629.3 494.6L627.7 494.6L626.2 494.6L624.7 494.6L623.2 494.5L621.7 494.5L620.1 494.5L618.6 494.5L617.1 494.4L615.6 494.4L614.1 494.4L612.5 494.4L611.0 494.3L609.5 494.3L608.0 494.3L606.5 494.3L605.0 494.2L603.4 494.2L601.9 494.2L600.4 494.1L598.9 494.1L597.4 494.1L595.8 494.1L594.3 494.0L592.8 494.0L591.3 494.0L589.8 493.9L588.2 493.9L586.7 493.9L585.2 493.9L583.7 493.8L582.2 493.8L580.6 493.8L579.1 493.7L577.6 493.7L576.1 493.7L574.6 493.6L573.0 493.6L571.5 493.6L570.0 493.5" fill="none" stroke="#A64BA2" stroke-width="2.4" stroke-linejoin="round" stroke-linecap="round" /><path d="M763.0 524.4L761.5 524.3L760.0 524.3L758.4 524.3L756.9 524.3L755.4 524.3L753.9 524.3L752.3 524.3L750.8 524.2L749.3 524.2L747.8 524.2L746.3 524.2L744.7 524.2L743.2 524.2L741.7 524.2L740.2 524.2L738.7 524.2L737.1 524.2L735.6 524.1L734.1 524.1L732.6 524.1L731.0 524.1L729.5 524.1L728.0 524.1L726.5 524.1L725.0 524.1L723.4 524.1L721.9 524.1L720.4 524.1L718.9 524.1L717.3 524.0L715.8 524.0L714.3 524.0L712.8 524.0L711.3 524.0L709.7 524.0L708.2 524.0L706.7 524.0L705.2 524.0L703.6 524.0L702.1 524.0L700.6 524.0L699.1 524.0L697.6 524.0L696.0 523.9L694.5 523.9L693.0 523.9L691.5 523.9L689.9 523.9L688.4 523.9L686.9 523.9L685.4 523.9L683.9 523.9L682.3 523.9L680.8 523.9L679.3 523.9L677.8 523.9L676.2 523.9L674.7 523.8L673.2 523.8L671.7 523.8L670.2 523.8L668.6 523.8L667.1 523.8L665.6 523.8L664.1 523.8L662.6 523.8L661.0 523.8L659.5 523.8L658.0 523.7L656.5 523.7L654.9 523.7L653.4 523.7L651.9 523.7L650.4 523.7L648.9 523.7L647.3 523.7L645.8 523.6L644.3 523.6L642.8 523.6L641.2 523.6L639.7 523.6L638.2 523.6L636.7 523.6L635.2 523.6L633.6 523.5L632.1 523.5L630.6 523.5L629.1 523.5L627.5 523.5L626.0 523.5L624.5 523.4L623.0 523.4L621.5 523.4L619.9 523.4L618.4 523.4L616.9 523.3L615.4 523.3L613.9 523.3L612.3 523.3L610.8 523.3L609.3 523.2L607.8 523.2L606.2 523.2L604.7 523.2L603.2 523.1L601.7 523.1L600.2 523.1L598.6 523.1L597.1 523.0L595.6 523.0L594.1 523.0L592.6 522.9L591.0 522.9L589.5 522.9L588.0 522.8" fill="none" stroke="#A64BA2" stroke-width="2.4" stroke-linejoin="round" stroke-linecap="round" /><path d="M763.0 552.3L761.5 552.3L760.0 552.3L758.5 552.3L756.9 552.3L755.4 552.2L753.9 552.2L752.4 552.2L750.9 552.2L749.4 552.2L747.9 552.2L746.3 552.2L744.8 552.1L743.3 552.1L741.8 552.1L740.3 552.1L738.8 552.1L737.3 552.1L735.8 552.0L734.2 552.0L732.7 552.0L731.2 552.0L729.7 552.0L728.2 552.0L726.7 551.9L725.2 551.9L723.6 551.9L722.1 551.9L720.6 551.9L719.1 551.9L717.6 551.8L716.1 551.8L714.6 551.8L713.0 551.8L711.5 551.8L710.0 551.8L708.5 551.7L707.0 551.7L705.5 551.7L704.0 551.7L702.4 551.7L700.9 551.7L699.4 551.6L697.9 551.6L696.4 551.6L694.9 551.6L693.4 551.6L691.9 551.6L690.3 551.6L688.8 551.5L687.3 551.5L685.8 551.5L684.3 551.5L682.8 551.5L681.3 551.5L679.7 551.5L678.2 551.5L676.7 551.4L675.2 551.4L673.7 551.4L672.2 551.4L670.7 551.4L669.1 551.4L667.6 551.4L666.1 551.4L664.6 551.4L663.1 551.4L661.6 551.3L660.1 551.3L658.5 551.3L657.0 551.3L655.5 551.3L654.0 551.3L652.5 551.3L651.0 551.3L649.5 551.3L648.0 551.3L646.4 551.3L644.9 551.3L643.4 551.3L641.9 551.3L640.4 551.3L638.9 551.3L637.4 551.3L635.8 551.3L634.3 551.3L632.8 551.3L631.3 551.3L629.8 551.3L628.3 551.3L626.8 551.3L625.2 551.3L623.7 551.4L622.2 551.4L620.7 551.4L619.2 551.4L617.7 551.4L616.2 551.4L614.7 551.4L613.1 551.4L611.6 551.5L610.1 551.5L608.6 551.5L607.1 551.5L605.6 551.5L604.1 551.5L602.5 551.6L601.0 551.6L599.5 551.6L598.0 551.6" fill="none" stroke="#A64BA2" stroke-width="2.4" stroke-linejoin="round" stroke-linecap="round" /><path d="M763.0 566.5L761.5 566.5L760.0 566.5L758.4 566.5L756.9 566.5L755.4 566.5L753.9 566.5L752.4 566.5L750.8 566.5L749.3 566.5L747.8 566.4L746.3 566.4L744.8 566.4L743.2 566.4L741.7 566.4L740.2 566.4L738.7 566.4L737.1 566.4L735.6 566.4L734.1 566.4L732.6 566.4L731.1 566.3L729.5 566.3L728.0 566.3L726.5 566.3L725.0 566.3L723.5 566.3L721.9 566.3L720.4 566.3L718.9 566.3L717.4 566.2L715.9 566.2L714.3 566.2L712.8 566.2L711.3 566.2L709.8 566.2L708.3 566.2L706.7 566.2L705.2 566.2L703.7 566.1L702.2 566.1L700.6 566.1L699.1 566.1L697.6 566.1L696.1 566.1L694.6 566.1L693.0 566.1L691.5 566.1L690.0 566.1L688.5 566.0L687.0 566.0L685.4 566.0L683.9 566.0L682.4 566.0L680.9 566.0L679.4 566.0L677.8 566.0L676.3 566.0L674.8 566.0L673.3 566.0L671.8 566.0L670.2 566.0L668.7 566.0L667.2 566.0L665.7 566.0L664.2 566.0L662.6 566.0L661.1 565.9L659.6 565.9L658.1 565.9L656.5 565.9L655.0 565.9L653.5 566.0L652.0 566.0L650.5 566.0L648.9 566.0L647.4 566.0L645.9 566.0L644.4 566.0L642.9 566.0L641.3 566.0L639.8 566.0L638.3 566.0L636.8 566.0L635.3 566.0L633.7 566.0L632.2 566.0L630.7 566.1L629.2 566.1L627.7 566.1L626.1 566.1L624.6 566.1L623.1 566.1L621.6 566.2L620.0 566.2L618.5 566.2L617.0 566.2L615.5 566.2L614.0 566.3L612.4 566.3L610.9 566.3L609.4 566.3L607.9 566.4L606.4 566.4L604.8 566.4L603.3 566.5L601.8 566.5" fill="none" stroke="#A64BA2" stroke-width="2.4" stroke-linejoin="round" stroke-linecap="round" /><path d="M763.0 580.2L761.5 580.2L760.0 580.2L758.5 580.2L756.9 580.2L755.4 580.2L753.9 580.2L752.4 580.2L750.9 580.2L749.4 580.2L747.9 580.2L746.3 580.2L744.8 580.3L743.3 580.3L741.8 580.3L740.3 580.3L738.8 580.3L737.3 580.3L735.7 580.3L734.2 580.3L732.7 580.3L731.2 580.3L729.7 580.3L728.2 580.3L726.7 580.3L725.1 580.4L723.6 580.4L722.1 580.4L720.6 580.4L719.1 580.4L717.6 580.4L716.1 580.4L714.5 580.4L713.0 580.4L711.5 580.4L710.0 580.4L708.5 580.4L707.0 580.4L705.5 580.5L703.9 580.5L702.4 580.5L700.9 580.5L699.4 580.5L697.9 580.5L696.4 580.5L694.9 580.5L693.3 580.5L691.8 580.5L690.3 580.5L688.8 580.5L687.3 580.5L685.8 580.5L684.3 580.5L682.7 580.5L681.2 580.5L679.7 580.5L678.2 580.5L676.7 580.5L675.2 580.5L673.7 580.5L672.1 580.5L670.6 580.6L669.1 580.6L667.6 580.6L666.1 580.6L664.6 580.6L663.1 580.6L661.5 580.5L660.0 580.5L658.5 580.5L657.0 580.5L655.5 580.5L654.0 580.5L652.5 580.5L650.9 580.5L649.4 580.5L647.9 580.5L646.4 580.5L644.9 580.5L643.4 580.5L641.9 580.5L640.3 580.5L638.8 580.5L637.3 580.5L635.8 580.5L634.3 580.5L632.8 580.4L631.3 580.4L629.7 580.4L628.2 580.4L626.7 580.4L625.2 580.4L623.7 580.4L622.2 580.4L620.7 580.3L619.1 580.3L617.6 580.3L616.1 580.3L614.6 580.3L613.1 580.3L611.6 580.2L610.1 580.2L608.5 580.2L607.0 580.2L605.5 580.1L604.0 580.1" fill="none" stroke="#A64BA2" stroke-width="2.4" stroke-linejoin="round" stroke-linecap="round" /><path d="M555.5 474.6L556.5 475.9L557.4 477.1L558.3 478.4L559.3 479.6L560.2 480.9L561.1 482.1L562.0 483.4L562.9 484.6L563.8 485.9L564.7 487.2L565.6 488.4L566.5 489.7L567.4 491.0L568.2 492.3L569.1 493.6L570.0 494.9L570.8 496.2L571.6 497.5L572.5 498.8L573.3 500.1L574.1 501.4L574.9 502.7L575.7 504.0L576.5 505.3L577.3 506.7L578.1 508.0L578.8 509.4L579.6 510.7L580.3 512.1L581.0 513.4L581.8 514.8L582.5 516.2L583.1 517.5L583.8 518.9L584.5 520.3L585.2 521.7L585.8 523.1L586.4 524.5L587.1 525.9L587.7 527.3L588.3 528.8L588.8 530.2L589.4 531.6L590.0 533.1L590.5 534.5L591.0 536.0L591.5 537.4L592.0 538.9L592.5 540.4L593.0 541.9L593.5 543.4L593.9 544.9L594.3 546.4L594.7 547.9L595.1 549.4L595.5 550.9L595.9 552.4L596.2 554.0L596.6 555.5" fill="none" stroke="#A64BA2" stroke-width="2.4" stroke-linejoin="round" stroke-linecap="round" /><path d="M597.0 555.3L597.5 556.8L597.9 558.3L598.4 559.8L598.8 561.3L599.2 562.8L599.7 564.3L600.1 565.8L600.5 567.4L600.9 568.9L601.3 570.4L601.6 571.9L602.0 573.5L602.4 575.0L602.7 576.5L603.0 578.1L603.4 579.6L603.7 581.1L604.0 582.7L604.3 584.2L604.5 585.8L604.8 587.3L605.1 588.9L605.3 590.4L605.5 592.0L605.7 593.5L605.9 595.1L606.1 596.6L606.2 598.2L606.4 599.8L606.5 601.3L606.6 602.9L606.7 604.5L606.8 606.0L606.8 607.6" fill="none" stroke="#A64BA2" stroke-width="2.4" stroke-linejoin="round" stroke-linecap="round" /><path d="M457.5 384.7L458.8 385.4L460.2 386.2L461.5 386.9L462.8 387.7L464.1 388.4L465.4 389.2L466.7 390.0L468.0 390.8L469.3 391.6L470.6 392.4L471.9 393.2L473.2 394.0L474.5 394.8L475.8 395.7L477.1 396.5L478.3 397.4L479.6 398.2L480.9 399.1L482.1 399.9L483.4 400.8L484.6 401.7L485.9 402.6L487.1 403.5L488.3 404.4L489.6 405.3L490.8 406.2L492.0 407.1L493.2 408.0L494.4 409.0L495.7 409.9L496.9 410.8L498.1 411.8L499.2 412.7L500.4 413.7L501.6 414.7L502.8 415.7L504.0 416.6L505.1 417.6L506.3 418.6L507.4 419.6L508.6 420.6L509.7 421.6L510.9 422.7L512.0 423.7L513.2 424.7L514.3 425.8L515.4 426.8L516.5 427.8L517.6 428.9L518.7 430.0L519.8 431.0L520.9 432.1L522.0 433.2L523.1 434.3L524.1 435.3L525.2 436.4L526.3 437.5L527.3 438.7L528.4 439.8L529.4 440.9L530.5 442.0L531.5 443.1L532.5 444.3L533.5 445.4L534.5 446.5L535.6 447.7L536.6 448.8L537.5 450.0L538.5 451.2L539.5 452.3L540.5 453.5L541.5 454.7L542.4 455.9L543.4 457.1L544.3 458.3L545.3 459.5L546.2 460.7L547.1 461.9L548.1 463.1L549.0 464.3L549.9 465.6L550.8 466.8L551.7 468.0L552.6 469.3L553.4 470.5L554.3 471.8L555.2 473.0L556.0 474.3" fill="none" stroke="#234E96" stroke-width="2.6" stroke-linejoin="round" stroke-linecap="round" /><path d="M590.5 536.0L591.0 537.5L591.5 539.1L592.1 540.6L592.6 542.2L593.1 543.7L593.7 545.2L594.2 546.8L594.7 548.3L595.3 549.8L595.8 551.4L596.3 552.9L596.9 554.4L597.4 556.0L597.9 557.5L598.4 559.1L598.9 560.6L599.4 562.2L599.9 563.7L600.3 565.3L600.7 566.8L601.1 568.4L601.5 570.0" fill="none" stroke="#234E96" stroke-width="2.3" stroke-linejoin="round" stroke-linecap="round" /></g><path d="M476.30 414.00L463.15 405.85L469.99 405.86L471.68 399.23Z" fill="#111111"/><path d="M485.70 405.30L479.23 391.25L484.93 395.03L490.00 390.44Z" fill="#111111"/><path d="M484.30 448.70L468.83 448.69L474.65 445.10L472.60 438.57Z" fill="#111111"/><path d="M493.00 476.30L478.79 482.43L482.71 476.83L478.24 471.65Z" fill="#111111"/><path d="M499.70 498.30L484.94 502.95L489.41 497.77L485.49 492.17Z" fill="#111111"/><path d="M515.70 514.70L501.05 519.67L505.40 514.40L501.36 508.88Z" fill="#111111"/><path d="M526.30 540.40L511.58 545.16L516.01 539.95L512.05 534.37Z" fill="#111111"/><path d="M555.70 568.70L541.09 573.78L545.40 568.47L541.32 562.98Z" fill="#111111"/><path d="M562.30 595.30L547.72 600.49L552.00 595.15L547.88 589.69Z" fill="#111111"/><path d="M536.30 608.10L521.80 613.50L526.00 608.10L521.80 602.70Z" fill="#111111"/><path d="M607.80 409.70L622.44 404.68L618.10 409.97L622.15 415.48Z" fill="#111111"/><path d="M626.20 438.80L640.84 433.78L636.50 439.07L640.55 444.58Z" fill="#111111"/><path d="M641.10 466.70L655.74 461.68L651.40 466.97L655.45 472.48Z" fill="#111111"/><path d="M653.10 495.00L667.74 489.98L663.40 495.27L667.45 500.78Z" fill="#111111"/><path d="M662.30 523.70L676.94 518.68L672.60 523.97L676.65 529.48Z" fill="#111111"/><path d="M659.50 551.20L674.14 546.18L669.80 551.47L673.85 556.98Z" fill="#111111"/><path d="M668.70 565.80L683.34 560.78L679.00 566.07L683.05 571.58Z" fill="#111111"/><path d="M684.30 580.70L698.94 575.68L694.60 580.97L698.65 586.48Z" fill="#111111"/><path d="M686.40 607.90L700.90 602.50L696.70 607.90L700.90 613.30Z" fill="#111111"/><path d="M571.70 496.00L583.59 505.90L576.82 504.94L574.22 511.27Z" fill="#111111"/><path d="M606.00 594.10L598.88 580.36L604.75 583.88L609.60 579.05Z" fill="#111111"/><circle cx="451.80" cy="608.30" r="4.0" fill="#E52A2E"/><circle cx="597.00" cy="555.60" r="4.0" fill="#E52A2E"/><circle cx="555.90" cy="474.40" r="4.0" fill="#64C8BE"/><circle cx="606.80" cy="607.80" r="4.0" fill="#64C8BE"/>
<text x="590.25" y="657.70" font-size="20.0">N</text><path d="M605.75 653.50H622.15M617.25 648.50Q618.90 652.25 622.75 653.50Q618.90 654.75 617.25 658.50" stroke="#222" stroke-width="0.85" fill="none"/>
<g transform="translate(428.20,510.70) rotate(-90)"><text x="-1.69" y="-0.3" font-size="19.3">P</text><path d="M12.30 -5.00H29.00M24.10 -10.00Q25.75 -6.25 29.60 -5.00Q25.75 -3.75 24.10 0.00" stroke="#222" stroke-width="0.85" fill="none"/></g>
<g font-family="Liberation Serif, serif" font-size="23.0"><text x="484.14" y="688.30" text-anchor="middle">(</text><text x="494.07" y="688.30" text-anchor="middle">e</text><text x="504.01" y="688.30" text-anchor="middle">)</text><text x="519.97" y="688.30" font-style="italic" textLength="15.8" lengthAdjust="spacingAndGlyphs">R</text><text x="541.22" y="692.60" text-anchor="middle" font-size="16.5">5</text><text x="558.11" y="688.30" text-anchor="middle">:</text><text x="569.45" y="688.30" font-style="italic" textLength="17.6" lengthAdjust="spacingAndGlyphs">K</text><path d="M596.26 679.40H612.15M596.26 684.60H612.15" stroke="#1a1a1a" stroke-width="1.35"/><text x="626.07" y="688.30" text-anchor="middle">1</text><text x="635.35" y="688.30" text-anchor="middle">,</text><text x="649.45" y="688.30" text-anchor="middle" font-style="italic">a</text><path d="M663.22 679.40H679.10M663.22 684.60H679.10" stroke="#1a1a1a" stroke-width="1.35"/><text x="693.02" y="688.30" text-anchor="middle">0</text><text x="702.30" y="688.30" text-anchor="middle">.</text><text x="711.58" y="688.30" text-anchor="middle">6</text></g>
</g>
<g id="ax-f">
<rect x="852.50" y="384.50" width="310.00" height="223.00" fill="none" stroke="#b4b4b4" stroke-width="1"/>
<path d="M852.50 607.50v-3.5M852.50 384.50v3.5" stroke="#505050" stroke-width="1"/>
<text x="852.60" y="633.76" font-size="19.5" text-anchor="middle">0</text>
<path d="M955.50 607.50v-3.5M955.50 384.50v3.5" stroke="#505050" stroke-width="1"/>
<text x="955.93" y="633.76" font-size="19.5" text-anchor="middle">1</text>
<path d="M1059.50 607.50v-3.5M1059.50 384.50v3.5" stroke="#505050" stroke-width="1"/>
<text x="1059.27" y="633.76" font-size="19.5" text-anchor="middle">2</text>
<path d="M1162.50 607.50v-3.5M1162.50 384.50v3.5" stroke="#505050" stroke-width="1"/>
<text x="1162.60" y="633.76" font-size="19.5" text-anchor="middle">3</text>
<path d="M852.50 607.50h3.5M1162.50 607.50h-3.5" stroke="#505050" stroke-width="1"/>
<text x="846.00" y="615.38" font-size="19.5" text-anchor="end">0</text>
<path d="M852.50 551.50h3.5M1162.50 551.50h-3.5" stroke="#505050" stroke-width="1"/>
<text x="846.00" y="559.76" font-size="19.5" text-anchor="end">1</text>
<path d="M852.50 495.50h3.5M1162.50 495.50h-3.5" stroke="#505050" stroke-width="1"/>
<text x="846.00" y="504.13" font-size="19.5" text-anchor="end">2</text>
<path d="M852.50 440.50h3.5M1162.50 440.50h-3.5" stroke="#505050" stroke-width="1"/>
<text x="846.00" y="448.51" font-size="19.5" text-anchor="end">3</text>
<path d="M852.50 384.50h3.5M1162.50 384.50h-3.5" stroke="#505050" stroke-width="1"/>
<text x="846.00" y="392.88" font-size="19.5" text-anchor="end">4</text>
<clipPath id="cl-f"><rect x="851.10" y="383.10" width="313.00" height="225.50"/></clipPath><g clip-path="url(#cl-f)"><path d="M852.4 384.0L852.4 606.3L1164.0 606.3" fill="none" stroke="#E6E650" stroke-width="2.4" stroke-linejoin="round" stroke-linecap="round" /><path d="M892.9 383.9L893.0 385.4L893.0 387.0L893.0 388.5L893.0 390.0L893.0 391.5L893.0 393.1L893.1 394.6L893.1 396.1L893.1 397.6L893.1 399.1L893.2 400.7L893.2 402.2L893.2 403.7L893.3 405.2L893.3 406.7L893.4 408.2L893.4 409.7L893.4 411.2L893.5 412.7L893.5 414.3L893.6 415.8L893.6 417.3L893.7 418.8L893.7 420.3L893.8 421.8L893.8 423.3L893.9 424.8L894.0 426.3L894.0 427.8L894.1 429.3L894.2 430.7L894.3 432.2L894.3 433.7L894.4 435.2L894.5 436.7L894.6 438.2L894.7 439.7L894.7 441.2L894.8 442.7L894.9 444.2L895.0 445.7L895.1 447.2L895.2 448.7L895.3 450.2L895.4 451.7L895.5 453.2L895.7 454.7L895.8 456.1L895.9 457.6L896.0 459.1L896.1 460.6L896.3 462.1L896.4 463.6L896.5 465.1L896.7 466.6L896.8 468.1L897.0 469.6L897.1 471.1L897.3 472.6L897.4 474.1L897.6 475.6L897.8 477.1L897.9 478.6L898.1 480.1L898.3 481.6L898.4 483.2L898.6 484.7L898.8 486.2L899.0 487.7L899.2 489.2L899.4 490.7L899.6 492.2L899.8 493.7L900.1 495.2L900.3 496.7L900.5 498.2L900.8 499.7L901.0 501.2L901.3 502.7L901.6 504.2L901.9 505.7L902.2 507.2L902.5 508.7L902.8 510.2L903.1 511.7L903.4 513.2L903.8 514.6L904.1 516.1L904.5 517.6L904.9 519.1L905.3 520.5L905.7 522.0L906.1 523.4L906.5 524.9L907.0 526.3L907.4 527.8L907.9 529.2L908.4 530.7L908.9 532.1L909.4 533.5L909.9 534.9L910.5 536.4L911.1 537.8L911.6 539.2L912.2 540.6L912.9 541.9L913.5 543.3L914.1 544.7L914.8 546.0L915.5 547.4L916.2 548.7L916.9 550.1L917.6 551.4L918.4 552.7L919.2 554.0L920.0 555.2L920.8 556.5L921.6 557.7L922.4 559.0L923.3 560.2L924.2 561.4L925.1 562.6L926.0 563.7L926.9 564.9L927.9 566.0L928.8 567.1L929.8 568.2L930.8 569.3L931.9 570.3L932.9 571.3L934.0 572.3L935.1 573.3L936.2 574.3L937.3 575.2L938.5 576.1L939.7 577.0L940.8 577.9L942.0 578.7L943.3 579.5L944.5 580.4L945.8 581.1L947.0 581.9L948.3 582.6L949.6 583.4L950.9 584.1L952.2 584.8L953.6 585.4L954.9 586.1L956.3 586.7L957.6 587.3L959.0 587.9L960.4 588.5L961.8 589.0L963.2 589.6L964.6 590.1L966.1 590.6L967.5 591.1L968.9 591.6L970.4 592.0L971.8 592.5L973.3 592.9L974.8 593.3L976.2 593.7L977.7 594.1L979.2 594.4L980.7 594.8L982.1 595.1L983.6 595.5L985.1 595.8L986.6 596.1L988.1 596.4L989.6 596.7L991.1 596.9L992.6 597.2L994.1 597.4L995.6 597.7L997.1 597.9L998.6 598.1L1000.1 598.3L1001.6 598.5L1003.1 598.7L1004.6 598.9L1006.1 599.1L1007.6 599.3L1009.2 599.4L1010.7 599.6L1012.2 599.8L1013.7 599.9L1015.2 600.0L1016.7 600.2L1018.2 600.3L1019.7 600.5L1021.3 600.6L1022.8 600.7L1024.3 600.8L1025.8 600.9L1027.3 601.1L1028.8 601.2L1030.3 601.3L1031.8 601.4L1033.3 601.5L1034.8 601.6L1036.3 601.7L1037.8 601.8L1039.3 602.0L1040.9 602.1L1042.4 602.2L1043.9 602.3L1045.4 602.4L1046.9 602.5L1048.3 602.6L1049.8 602.7L1051.3 602.8L1052.8 602.9L1054.3 603.0L1055.8 603.1L1057.3 603.2L1058.8 603.3L1060.3 603.4L1061.8 603.5L1063.3 603.6L1064.8 603.7L1066.3 603.7L1067.8 603.8L1069.3 603.9L1070.8 604.0L1072.3 604.1L1073.8 604.2L1075.3 604.3L1076.8 604.3L1078.3 604.4L1079.8 604.5L1081.3 604.6L1082.8 604.7L1084.3 604.7L1085.8 604.8L1087.3 604.9L1088.8 605.0L1090.3 605.0L1091.8 605.1L1093.3 605.2L1094.8 605.2L1096.3 605.3L1097.8 605.4L1099.3 605.4L1100.8 605.5L1102.3 605.5L1103.8 605.6L1105.4 605.6L1106.9 605.7L1108.4 605.8L1109.9 605.8L1111.4 605.9L1112.9 605.9L1114.5 606.0L1116.0 606.0L1117.5 606.0L1119.0 606.1L1120.6 606.1L1122.1 606.2" fill="none" stroke="#50AF5F" stroke-width="2.0" stroke-linejoin="round" stroke-linecap="round" /><path d="M852.3 428.4L853.8 428.1L855.3 427.7L856.8 427.4L858.3 427.1L859.8 426.8L861.4 426.5L862.9 426.3L864.4 426.0L865.9 425.7L867.4 425.5L868.9 425.3L870.4 425.1L871.9 424.9L873.4 424.7L874.9 424.5L876.4 424.4L878.0 424.2L879.5 424.1L881.0 423.9L882.5 423.8L884.0 423.7L885.5 423.6L887.0 423.6L888.6 423.5L890.1 423.4L891.6 423.4L893.1 423.4L894.6 423.3L896.1 423.3L897.6 423.3L899.1 423.4L900.6 423.4L902.2 423.4L903.7 423.5L905.2 423.5L906.7 423.6L908.2 423.7L909.7 423.8L911.2 423.9L912.7 424.0L914.2 424.2L915.7 424.3L917.2 424.5L918.7 424.6L920.2 424.8L921.7 425.0L923.2 425.2L924.7 425.4L926.1 425.6L927.6 425.8L929.1 426.1L930.6 426.3L932.1 426.6L933.6 426.9L935.0 427.2L936.5 427.5L938.0 427.8L939.4 428.1L940.9 428.4L942.4 428.8L943.8 429.1L945.3 429.5L946.7 429.9L948.2 430.3L949.6 430.6L951.1 431.1L952.5 431.5L954.0 431.9L955.4 432.3L956.8 432.8L958.3 433.2L959.7 433.7L961.1 434.2L962.5 434.7L964.0 435.2L965.4 435.7L966.8 436.2L968.2 436.7L969.6 437.3L971.0 437.8L972.4 438.4L973.8 438.9L975.2 439.5L976.6 440.1L977.9 440.7L979.3 441.3L980.7 441.9L982.1 442.5L983.4 443.2L984.8 443.8L986.2 444.5L987.5 445.1L988.9 445.8L990.2 446.5L991.6 447.1L992.9 447.8L994.2 448.5L995.6 449.3L996.9 450.0L998.2 450.7L999.5 451.4L1000.8 452.2L1002.1 452.9L1003.4 453.7L1004.7 454.5L1006.0 455.3L1007.3 456.0L1008.6 456.8L1009.9 457.6L1011.2 458.4L1012.4 459.3L1013.7 460.1L1015.0 460.9L1016.2 461.8L1017.5 462.6L1018.7 463.5L1019.9 464.3L1021.2 465.2L1022.4 466.1L1023.6 467.0L1024.8 467.9L1026.1 468.8L1027.3 469.7L1028.5 470.6L1029.7 471.5L1030.9 472.4L1032.0 473.4L1033.2 474.3L1034.4 475.3L1035.6 476.2L1036.7 477.2L1037.9 478.2L1039.0 479.1L1040.2 480.1L1041.3 481.1L1042.5 482.1L1043.6 483.1L1044.7 484.1L1045.8 485.2L1047.0 486.2L1048.1 487.2L1049.2 488.2L1050.3 489.3L1051.3 490.3L1052.4 491.4L1053.5 492.4L1054.6 493.5L1055.6 494.6L1056.7 495.7L1057.8 496.8L1058.8 497.8L1059.8 498.9L1060.9 500.0L1061.9 501.1L1062.9 502.3L1063.9 503.4L1064.9 504.5L1065.9 505.6L1066.9 506.8L1067.9 507.9L1068.9 509.1L1069.9 510.2L1070.9 511.4L1071.8 512.5L1072.8 513.7L1073.7 514.9L1074.7 516.1L1075.6 517.2L1076.5 518.4L1077.5 519.6L1078.4 520.8L1079.3 522.0L1080.2 523.2L1081.1 524.5L1082.0 525.7L1082.9 526.9L1083.8 528.1L1084.6 529.4L1085.5 530.6L1086.3 531.8L1087.2 533.1L1088.0 534.3L1088.9 535.6L1089.7 536.8L1090.5 538.1L1091.3 539.4L1092.1 540.7L1092.9 541.9L1093.7 543.2L1094.5 544.5L1095.3 545.8L1096.1 547.1L1096.8 548.4L1097.6 549.7L1098.3 551.0L1099.1 552.3L1099.8 553.6L1100.5 554.9L1101.2 556.3L1101.9 557.6L1102.6 558.9L1103.3 560.3L1104.0 561.6L1104.7 563.0L1105.4 564.3L1106.0 565.7L1106.7 567.0L1107.3 568.4L1108.0 569.7L1108.6 571.1L1109.2 572.5L1109.8 573.8L1110.4 575.2L1111.0 576.6L1111.6 578.0L1112.2 579.4L1112.7 580.8L1113.3 582.2L1113.9 583.6L1114.4 585.0L1114.9 586.4L1115.5 587.8L1116.0 589.2L1116.5 590.6L1117.0 592.0L1117.5 593.5L1117.9 594.9L1118.4 596.3L1118.9 597.8L1119.3 599.2L1119.8 600.6L1120.2 602.1L1120.6 603.5L1121.1 605.0L1121.5 606.4" fill="none" stroke="#234E96" stroke-width="2.0" stroke-linejoin="round" stroke-linecap="round" /><path d="M852.6 608.1L1121.6 608.1" fill="none" stroke="#A64BA2" stroke-width="2.0" stroke-linejoin="round" stroke-linecap="round" /><path d="M1121.3 605.0L1121.1 603.5L1120.8 602.0L1120.5 600.5L1120.2 599.1L1119.9 597.6L1119.6 596.1L1119.2 594.7L1118.8 593.2L1118.4 591.8L1118.0 590.3L1117.6 588.9L1117.2 587.4L1116.8 586.0L1116.3 584.6L1115.8 583.2L1115.4 581.7L1114.9 580.3L1114.4 578.9L1113.8 577.5L1113.3 576.1L1112.8 574.7L1112.2 573.3L1111.6 571.9L1111.0 570.5L1110.4 569.2L1109.8 567.8L1109.2 566.4L1108.6 565.0L1108.0 563.7L1107.3 562.3L1106.6 561.0L1106.0 559.6L1105.3 558.3L1104.6 556.9L1103.9 555.6L1103.2 554.3L1102.5 553.0L1101.7 551.6L1101.0 550.3L1100.3 549.0L1099.5 547.7L1098.8 546.4L1098.0 545.1L1097.2 543.8L1096.4 542.5L1095.6 541.2L1094.8 540.0L1094.0 538.7L1093.2 537.4L1092.4 536.2L1091.6 534.9L1090.8 533.7L1089.9 532.4L1089.1 531.2L1088.2 529.9L1087.4 528.7L1086.5 527.5L1085.7 526.2L1084.8 525.0L1083.9 523.8L1083.0 522.6L1082.2 521.4L1081.3 520.1L1080.4 518.9L1079.5 517.7L1078.6 516.5L1077.7 515.4L1076.7 514.2L1075.8 513.0L1074.9 511.8L1074.0 510.6L1073.0 509.4L1072.1 508.3L1071.2 507.1L1070.2 505.9L1069.3 504.8L1068.3 503.6L1067.4 502.4L1066.4 501.3L1065.5 500.1L1064.5 499.0L1063.5 497.8L1062.6 496.7L1061.6 495.5L1060.6 494.4L1059.6 493.2L1058.6 492.1L1057.7 491.0L1056.7 489.8L1055.7 488.7L1054.7 487.5L1053.7 486.4L1052.7 485.3L1051.7 484.2L1050.7 483.0L1049.7 481.9L1048.7 480.8L1047.7 479.7L1046.7 478.6L1045.7 477.5L1044.6 476.4L1043.6 475.3L1042.6 474.2L1041.5 473.1L1040.5 472.0L1039.5 470.9L1038.4 469.8L1037.3 468.8L1036.3 467.7L1035.2 466.7L1034.1 465.6L1033.0 464.6L1032.0 463.5L1030.9 462.5L1029.8 461.5L1028.6 460.5L1027.5 459.5L1026.4 458.5L1025.3 457.5L1024.1 456.5L1023.0 455.6L1021.8 454.6L1020.7 453.6L1019.5 452.7L1018.3 451.8L1017.1 450.8L1016.0 449.9L1014.8 449.0L1013.6 448.1L1012.3 447.2L1011.1 446.3L1009.9 445.5L1008.7 444.6L1007.4 443.8L1006.2 442.9L1004.9 442.1L1003.7 441.2L1002.4 440.4L1001.2 439.6L999.9 438.8L998.6 438.0L997.3 437.2L996.0 436.4L994.7 435.7L993.4 434.9L992.1 434.1L990.8 433.4L989.5 432.6L988.2 431.9L986.9 431.1L985.6 430.4L984.3 429.7L983.0 428.9L981.7 428.2L980.4 427.5L979.0 426.8L977.7 426.1L976.4 425.4L975.1 424.6L973.7 423.9L972.4 423.3L971.1 422.6L969.8 421.9L968.4 421.2L967.1 420.5L965.7 419.8L964.4 419.2L963.1 418.5L961.7 417.9L960.4 417.2L959.0 416.6L957.6 415.9L956.3 415.3L954.9 414.7L953.5 414.1L952.2 413.5L950.8 412.8L949.4 412.3L948.0 411.7L946.6 411.1L945.2 410.5L943.8 409.9L942.4 409.4L941.0 408.8L939.6 408.3L938.2 407.8L936.7 407.3L935.3 406.8L933.9 406.3L932.5 405.8L931.0 405.4L929.6 404.9L928.2 404.5L926.7 404.1L925.3 403.6L923.8 403.3L922.4 402.9L920.9 402.5L919.4 402.2L918.0 401.8L916.5 401.5L915.0 401.2L913.6 401.0L912.1 400.7L910.6 400.5L909.1 400.3L907.7 400.1L906.2 399.9L904.7 399.7L903.2 399.6L901.7 399.5L900.2 399.4L898.7 399.3L897.2 399.2L895.7 399.2L894.2 399.2L892.7 399.2L891.2 399.3L889.7 399.3L888.2 399.4L886.7 399.5L885.2 399.7L883.7 399.8L882.1 400.0L880.6 400.2L879.2 400.4L877.7 400.7L876.3 401.1L874.9 401.7L873.6 402.4L872.3 403.2L871.0 404.0L869.7 404.8L868.4 405.6L867.1 406.4L865.9 407.2L864.9 408.3L864.1 409.5L863.5 410.9L862.9 412.3L862.3 413.7L861.7 415.1L861.1 416.5L860.6 417.9L860.4 419.3L860.4 420.8L860.5 422.3L860.6 423.9L860.7 425.3L860.9 426.8L861.0 428.3L861.2 429.7L861.5 431.2L861.9 432.7L862.3 434.2L862.8 435.6L863.4 437.0L864.2 438.3L865.0 439.5L866.0 440.6L867.0 441.6L868.2 442.6L869.4 443.5L870.6 444.4L871.8 445.3L873.0 446.1L874.3 446.9L875.6 447.6L877.0 448.2L878.4 448.7L879.9 449.1L881.3 449.5L882.8 449.8L884.3 450.1L885.8 450.4L887.3 450.6L888.8 450.8L890.2 451.0L891.7 451.1L893.2 451.3L894.7 451.4L896.2 451.5L897.7 451.5L899.2 451.5L900.7 451.5L902.2 451.5L903.7 451.5L905.2 451.4L906.7 451.3L908.2 451.2L909.7 451.1L911.2 450.9L912.7 450.7L914.2 450.6L915.7 450.4L917.1 450.1L918.6 449.9L920.1 449.6L921.6 449.3L923.1 449.0L924.5 448.7L926.0 448.4L927.5 448.1L928.9 447.7L930.4 447.3L931.9 446.9L933.3 446.5L934.7 446.1L936.2 445.7L937.6 445.2L939.0 444.6L940.3 444.0L941.7 443.4L943.0 442.7L944.3 441.9L945.6 441.1L946.9 440.3L948.2 439.5L949.5 438.8L950.8 437.9L951.9 437.0L952.8 435.9L953.5 434.6L954.0 433.2L954.5 431.7L954.8 430.2L955.0 428.7L954.8 427.3L954.3 426.0L953.5 424.7L952.7 423.4L951.8 422.2L950.9 421.0L949.9 419.8L948.9 418.8L947.8 417.8L946.6 416.8L945.4 415.9L944.2 415.1L942.9 414.3L941.6 413.6L940.3 412.9L938.9 412.2L937.6 411.6L936.2 410.9L934.8 410.3L933.4 409.7L932.0 409.2L930.6 408.6L929.2 408.1L927.8 407.6L926.4 407.2L924.9 406.7L923.5 406.3L922.1 405.9L920.6 405.5L919.1 405.1L917.7 404.8L916.2 404.4L914.8 404.1L913.3 403.8L911.8 403.6L910.3 403.3L908.8 403.1L907.4 402.9L905.9 402.7L904.4 402.5L902.9 402.4L901.4 402.2L899.9 402.1L898.4 402.0L896.9 402.0L895.4 401.9L893.9 401.9L892.4 401.9L890.9 401.9L889.4 402.0L887.9 402.0L886.4 402.1L884.9 402.2L883.4 402.3L881.8 402.5L880.4 402.7L878.9 403.0L877.4 403.3L876.0 403.7L874.6 404.2L873.3 404.8L872.0 405.5L870.8 406.3L869.5 407.2L868.3 408.0L867.1 409.0L866.0 410.0L865.1 411.2L864.4 412.5L864.0 413.9L863.6 415.4L863.4 416.9L863.2 418.4L863.0 419.9L862.9 421.4L862.9 422.8L862.8 424.3L862.9 425.8L862.9 427.3L863.0 428.9L863.2 430.4L863.4 431.9L863.9 433.3L864.5 434.6L865.4 435.8L866.3 436.9L867.4 438.0L868.4 439.2L869.3 440.4L870.3 441.6L871.4 442.6L872.5 443.5L873.9 444.1L875.3 444.6L876.8 444.9L878.3 445.3L879.8 445.6L881.2 446.0L882.7 446.5L884.1 447.0L885.5 447.4L887.0 447.7L888.4 447.9L890.0 448.0L891.5 448.1L893.0 448.1L894.5 448.1L896.0 448.1L897.5 448.1L899.0 448.1L900.5 448.0L902.0 448.0L903.5 448.0L904.9 447.9L906.4 447.8L907.9 447.7L909.4 447.6L911.0 447.4L912.5 447.3L914.0 447.1L915.5 446.8L916.9 446.6L918.4 446.3L919.9 446.0L921.4 445.6L922.8 445.2L924.2 444.8L925.6 444.4L927.0 443.9L928.4 443.4L929.8 442.9L931.2 442.3L932.7 441.8L934.1 441.2L935.5 440.6L936.7 439.8L937.9 438.9L938.9 437.8L939.8 436.6L940.8 435.4L941.7 434.1L942.6 432.9L943.4 431.7L943.8 430.4L943.7 429.0L943.3 427.5L942.8 426.1L942.2 424.6L941.7 423.2L941.0 421.9L940.1 420.7L939.1 419.6L938.0 418.6L936.8 417.6L935.6 416.7L934.4 415.9L933.1 415.0L931.9 414.3L930.6 413.5L929.3 412.8L927.9 412.1L926.6 411.5L925.2 410.9L923.8 410.3L922.4 409.8L921.0 409.2L919.6 408.7L918.2 408.3L916.7 407.8L915.3 407.4L913.8 407.0L912.4 406.7L910.9 406.3L909.4 406.0L907.9 405.7L906.5 405.5L905.0 405.2L903.5 405.0L902.0 404.8L900.5 404.7L899.0 404.5L897.6 404.4L896.1 404.2L894.6 404.1L893.1 404.1L891.6 404.0L890.1 403.9L888.5 403.9L887.0 403.9L885.5 404.0L884.0 404.1L882.6 404.5L881.2 404.9L879.8 405.4L878.3 405.9L876.9 406.3L875.3 406.7L873.9 407.2L872.5 407.7L871.3 408.4L870.3 409.4L869.4 410.6L868.7 412.0L867.9 413.3L867.1 414.7L866.2 415.9L865.6 417.3L865.2 418.6L865.1 420.1L865.1 421.6L865.2 423.1L865.2 424.7L865.2 426.2L865.3 427.7L865.5 429.2L865.8 430.6L866.5 431.9L867.2 433.2L868.0 434.5L868.7 435.9L869.5 437.2L870.5 438.3L871.6 439.2L872.9 439.9L874.3 440.6L875.7 441.1L877.1 441.7L878.5 442.4L879.8 443.0L881.2 443.5L882.6 444.0L884.1 444.3L885.6 444.5L887.1 444.7L888.6 444.9L890.1 445.0L891.6 445.1L893.1 445.1L894.6 445.1L896.1 445.1L897.5 445.1L899.0 445.1L900.5 445.0L902.0 444.9L903.5 444.8L905.0 444.7L906.5 444.6L908.0 444.4L909.5 444.2L911.0 444.0L912.5 443.8L914.0 443.5L915.5 443.2L916.9 442.8L918.3 442.4L919.7 441.9L921.1 441.3L922.5 440.8L923.9 440.2L925.3 439.7L926.8 439.2L928.2 438.6L929.6 438.0L930.8 437.3L932.0 436.3L932.9 435.2L933.7 433.9L934.5 432.6L935.4 431.3L936.1 429.9L936.6 428.6L936.7 427.3L936.3 425.9L935.6 424.6L934.9 423.2L934.2 421.8L933.4 420.5L932.4 419.4L931.3 418.4L930.1 417.6L928.8 416.8L927.5 416.0L926.2 415.2L924.9 414.4L923.6 413.7L922.3 412.9L921.0 412.3L919.6 411.7L918.2 411.1L916.8 410.7L915.4 410.2L914.0 409.8L912.5 409.4L911.0 409.0L909.6 408.7L908.1 408.3L906.6 408.0L905.2 407.6L903.7 407.3L902.2 407.1L900.7 406.8L899.2 406.6L897.8 406.5L896.3 406.4L894.8 406.3L893.3 406.3L891.8 406.3L890.3 406.3L888.8 406.4L887.3 406.6L885.8 406.7L884.3 406.9L882.8 407.1L881.3 407.3L879.8 407.6L878.4 408.0L877.1 408.7L875.9 409.5L874.7 410.5L873.6 411.5L872.5 412.5L871.3 413.5L870.2 414.6L869.3 415.7L868.7 417.0L868.4 418.5L868.2 420.0L868.2 421.5L868.1 423.1L867.9 424.6L867.5 426.0" fill="none" stroke="#A64BA2" stroke-width="1.5" stroke-linejoin="round" stroke-linecap="round" /><path d="M867.0 425.0L867.1 423.4L867.3 421.9L867.7 420.4L868.2 418.9L868.8 417.5L869.6 416.1L870.4 414.9L871.3 413.7L872.4 412.6L873.5 411.6L874.7 410.8L876.0 410.1L877.4 409.4L878.8 408.9L880.3 408.4L881.8 408.0L883.3 407.6L884.8 407.3L886.3 407.1L887.8 406.8L889.3 406.6L890.8 406.5L892.4 406.4L893.9 406.3L895.4 406.3L896.9 406.3L898.5 406.4L900.0 406.5L901.5 406.6L903.0 406.8L904.5 407.0L906.0 407.2L907.5 407.4L909.0 407.7L910.5 408.1L912.0 408.4L913.4 408.8L914.9 409.3L916.3 409.8L917.7 410.3L919.1 410.9L920.5 411.5L921.9 412.2L923.2 412.9L924.5 413.7L925.8 414.5L927.1 415.4L928.3 416.3L929.5 417.3L930.6 418.4L931.7 419.6L932.7 420.8L933.5 422.1L934.2 423.4L934.6 424.8L934.7 426.2L934.5 427.6L933.9 428.9L933.1 430.2L932.0 431.3L930.8 432.3L929.5 433.2L928.1 434.0L926.7 434.8L925.4 435.5L924.0 436.2L922.6 436.8L921.2 437.4L919.8 438.0L918.4 438.6L917.0 439.1L915.6 439.7L914.1 440.1L912.7 440.6L911.3 441.1L909.8 441.5L908.3 441.9L906.9 442.2L905.4 442.5L903.9 442.8L902.4 443.1L900.9 443.3L899.4 443.5L897.9 443.7L896.3 443.8L894.8 443.9L893.3 444.0L891.7 444.0L890.2 444.0L888.6 443.9L887.1 443.7L885.6 443.5L884.1 443.3L882.6 442.9L881.2 442.5L879.7 442.1L878.3 441.5L877.0 440.9L875.6 440.1L874.4 439.3L873.1 438.4L872.0 437.4L870.9 436.3L870.0 435.2L869.1 433.9L868.4 432.6L867.8 431.2L867.4 429.7L867.1 428.2L867.0 426.6L867.0 425.0Z" fill="none" stroke="#A64BA2" stroke-width="3.8" stroke-linejoin="round" stroke-linecap="round" /><path d="M870.4 425.1L870.5 423.6L870.8 422.1L871.3 420.6L871.9 419.2L872.7 417.8L873.6 416.5L874.6 415.3L875.8 414.2L877.0 413.3L878.3 412.6L879.6 412.0L881.0 411.5L882.5 411.1L884.0 410.8L885.5 410.6L887.0 410.4L888.6 410.3L890.1 410.1L891.7 410.0L893.2 410.0L894.7 409.9L896.2 409.9L897.8 410.0L899.3 410.0L900.8 410.1L902.3 410.3L903.8 410.4L905.3 410.6L906.8 410.9L908.2 411.2L909.7 411.6L911.2 411.9L912.6 412.4L914.0 412.8L915.5 413.4L916.9 413.9L918.3 414.5L919.7 415.2L921.0 415.9L922.4 416.6L923.8 417.4L925.1 418.3L926.4 419.2L927.6 420.2L928.7 421.3L929.6 422.6L930.4 423.9L930.7 425.3L930.5 426.5L929.7 427.7L928.7 428.7L927.5 429.7L926.3 430.6L925.1 431.4L923.8 432.2L922.4 432.9L921.1 433.6L919.6 434.2L918.2 434.8L916.7 435.3L915.3 435.8L913.8 436.3L912.3 436.8L910.8 437.2L909.4 437.6L907.9 438.0L906.4 438.4L905.0 438.7L903.5 439.1L902.1 439.4L900.6 439.6L899.1 439.9L897.7 440.0L896.2 440.2L894.6 440.3L893.1 440.4L891.6 440.4L890.0 440.3L888.5 440.2L887.0 440.0L885.5 439.8L884.0 439.4L882.5 439.0L881.1 438.5L879.7 437.9L878.3 437.2L877.1 436.3L875.8 435.4L874.7 434.4L873.7 433.2L872.8 432.0L872.0 430.8L871.3 429.4L870.9 428.1L870.5 426.6L870.4 425.1Z" fill="none" stroke="#000" stroke-width="3.0" stroke-linejoin="round" stroke-linecap="round" /></g><path d="M989.00 432.90L1003.84 433.77L997.65 436.58L999.93 442.98Z" fill="#111111"/><path d="M934.50 609.30L921.06 615.82L925.14 610.20L920.07 605.47Z" fill="#111111"/><rect x="934.3" y="477.4" width="105.9" height="103.3" fill="#fff" stroke="none"/><path d="M934.3 515.4L1040.2 528.5" fill="none" stroke="#50AF5F" stroke-width="2.0" stroke-linejoin="round" stroke-linecap="round" /><path d="M934.3 522.8L1040.2 522.8" fill="none" stroke="#E6E650" stroke-width="2.2" stroke-linejoin="round" stroke-linecap="round" /><path d="M991.4 477.4L992.9 522.8" fill="none" stroke="#A64BA2" stroke-width="2.0" stroke-linejoin="round" stroke-linecap="round" /><path d="M992.9 522.8L994.3 580.1" fill="none" stroke="#234E96" stroke-width="2.0" stroke-linejoin="round" stroke-linecap="round" /><path d="M934.3 580.7L1040.2 580.7" fill="none" stroke="#A64BA2" stroke-width="2.0" stroke-linejoin="round" stroke-linecap="round" /><path d="M934.3 580.7V477.4" stroke="#bdbdbd" stroke-width="1" fill="none"/><path d="M934.3 477.4H1040.2V580.7" stroke="#555" stroke-width="1" fill="none"/><path d="M992.20 500.10L995.96 514.63L991.13 509.44L985.23 513.39Z" fill="#111111"/><path d="M993.70 557.40L986.56 545.36L992.41 549.10L996.84 543.75Z" fill="#111111"/><path d="M974.40 580.10L960.31 585.40L964.80 580.30L960.10 575.40Z" fill="#111111"/><path d="M1012.40 580.10L1025.16 573.43L1021.23 578.97L1026.42 583.35Z" fill="#111111"/><circle cx="993.10" cy="522.80" r="4.0" fill="#E52A2E"/><circle cx="994.30" cy="580.10" r="3.8" fill="#64C8BE"/><rect x="1112.3" y="600.4" width="16.3" height="10.8" fill="none" stroke="#333" stroke-width="0.9"/><path d="M1112.3 600.4L1041 563.6" stroke="#111" stroke-width="0.9" fill="none"/><path d="M1039.60 563.20L1049.70 564.32L1045.21 566.07L1046.42 570.73Z" fill="#111111"/><circle cx="852.50" cy="607.50" r="3.7" fill="#E52A2E"/><circle cx="1121.60" cy="606.70" r="3.7" fill="#E52A2E"/><circle cx="894.00" cy="424.30" r="3.6" fill="#E52A2E"/>
<text x="990.71" y="658.60" font-size="19.3">N</text><path d="M1006.25 654.25H1022.65M1017.75 649.25Q1019.40 653.00 1023.25 654.25Q1019.40 655.50 1017.75 659.25" stroke="#222" stroke-width="0.85" fill="none"/>
<g transform="translate(827.90,510.70) rotate(-90)"><text x="-1.67" y="-0.3" font-size="19.1">P</text><path d="M13.00 -4.70H29.00M24.10 -9.70Q25.75 -5.95 29.60 -4.70Q25.75 -3.45 24.10 0.30" stroke="#222" stroke-width="0.85" fill="none"/></g>
<g font-family="Liberation Serif, serif" font-size="23.0"><text x="870.74" y="688.30" text-anchor="middle">(</text><text x="879.03" y="688.30" text-anchor="middle">f</text><text x="887.31" y="688.30" text-anchor="middle">)</text><text x="903.28" y="688.30" font-style="italic" textLength="15.8" lengthAdjust="spacingAndGlyphs">R</text><text x="924.53" y="692.60" text-anchor="middle" font-size="16.5">6</text><text x="941.42" y="688.30" text-anchor="middle">:</text><text x="952.76" y="688.30" font-style="italic" textLength="17.6" lengthAdjust="spacingAndGlyphs">K</text><path d="M979.57 679.40H995.46M979.57 684.60H995.46" stroke="#1a1a1a" stroke-width="1.35"/><text x="1009.38" y="688.30" text-anchor="middle">2</text><text x="1018.66" y="688.30" text-anchor="middle">.</text><text x="1027.93" y="688.30" text-anchor="middle">6</text><text x="1037.21" y="688.30" text-anchor="middle">,</text><text x="1051.31" y="688.30" text-anchor="middle" font-style="italic">a</text><path d="M1065.08 679.40H1080.96M1065.08 684.60H1080.96" stroke="#1a1a1a" stroke-width="1.35"/><text x="1094.89" y="688.30" text-anchor="middle">0</text><text x="1104.17" y="688.30" text-anchor="middle">.</text><text x="1113.44" y="688.30" text-anchor="middle">9</text><text x="1125.37" y="688.30" text-anchor="middle">7</text></g>
</g>
<g id="ax-g">
<rect x="459.50" y="747.50" width="303.00" height="223.00" fill="none" stroke="#4a4a4a" stroke-width="1"/>
<path d="M459.50 747.50V970.50" stroke="#888" stroke-width="1"/>
<path d="M459.50 970.50v-3.5M459.50 747.50v3.5" stroke="#4a4a4a" stroke-width="1"/>
<text x="459.00" y="996.76" font-size="19.5" text-anchor="middle">0</text>
<path d="M560.50 970.50v-3.5M560.50 747.50v3.5" stroke="#4a4a4a" stroke-width="1"/>
<text x="560.07" y="996.76" font-size="19.5" text-anchor="middle">0.1</text>
<path d="M661.50 970.50v-3.5M661.50 747.50v3.5" stroke="#4a4a4a" stroke-width="1"/>
<text x="661.13" y="996.76" font-size="19.5" text-anchor="middle">0.2</text>
<path d="M762.50 970.50v-3.5M762.50 747.50v3.5" stroke="#4a4a4a" stroke-width="1"/>
<text x="762.20" y="996.76" font-size="19.5" text-anchor="middle">0.3</text>
<path d="M459.50 970.50h3.5M762.50 970.50h-3.5" stroke="#4a4a4a" stroke-width="1"/>
<text x="453.50" y="978.98" font-size="19.5" text-anchor="end">0</text>
<path d="M459.50 925.50h3.5M762.50 925.50h-3.5" stroke="#4a4a4a" stroke-width="1"/>
<text x="453.50" y="934.26" font-size="19.5" text-anchor="end">0.1</text>
<path d="M459.50 881.50h3.5M762.50 881.50h-3.5" stroke="#4a4a4a" stroke-width="1"/>
<text x="453.50" y="889.54" font-size="19.5" text-anchor="end">0.2</text>
<path d="M459.50 836.50h3.5M762.50 836.50h-3.5" stroke="#4a4a4a" stroke-width="1"/>
<text x="453.50" y="844.82" font-size="19.5" text-anchor="end">0.3</text>
<path d="M459.50 791.50h3.5M762.50 791.50h-3.5" stroke="#4a4a4a" stroke-width="1"/>
<text x="453.50" y="800.10" font-size="19.5" text-anchor="end">0.4</text>
<path d="M459.50 747.50h3.5M762.50 747.50h-3.5" stroke="#4a4a4a" stroke-width="1"/>
<text x="453.50" y="755.38" font-size="19.5" text-anchor="end">0.5</text>
<clipPath id="cl-g"><rect x="457.50" y="745.60" width="306.20" height="226.60"/></clipPath><g clip-path="url(#cl-g)"><path d="M659.6 747.5L659.6 758.5" fill="none" stroke="#234E96" stroke-width="2.2" stroke-linejoin="round" stroke-linecap="round" /><path d="M459.3 747.5L460.7 748.2L462.1 748.9L463.4 749.5L464.8 750.1L466.2 750.7L467.6 751.2L469.0 751.7L470.4 752.2L471.9 752.6L473.3 753.0L474.7 753.4L476.2 753.8L477.7 754.2L479.1 754.5L480.6 754.8L482.1 755.1L483.6 755.4L485.1 755.6L486.5 755.9L488.0 756.1L489.5 756.3L491.1 756.5L492.6 756.7L494.1 756.8L495.6 757.0L497.1 757.1L498.6 757.3L500.2 757.4L501.7 757.5L503.2 757.7L504.7 757.8L506.2 757.9L507.8 758.0L509.3 758.1L510.8 758.2L512.3 758.3L513.9 758.4L515.4 758.5L516.9 758.7L518.4 758.8L519.9 758.9L521.4 759.0L523.0 759.1L524.5 759.2L526.0 759.4L527.5 759.5L529.0 759.6L530.5 759.7L532.0 759.8L533.5 759.9L535.0 760.0L536.5 760.2L538.0 760.3L539.5 760.4L541.1 760.5L542.6 760.6L544.1 760.7L545.6 760.8L547.1 761.0L548.6 761.1L550.1 761.2L551.6 761.3L553.1 761.4L554.6 761.5L556.2 761.6L557.7 761.7L559.2 761.8L560.7 761.9L562.2 761.9L563.7 762.0L565.3 762.1L566.8 762.2L568.3 762.3L569.8 762.4L571.3 762.5L572.9 762.5L574.4 762.6L575.9 762.7L577.4 762.8L578.9 762.9L580.5 762.9L582.0 763.0L583.5 763.1L585.0 763.2L586.5 763.3L588.0 763.4L589.6 763.5L591.1 763.5L592.6 763.6L594.1 763.7L595.6 763.8L597.1 763.9L598.6 764.0L600.1 764.1L601.6 764.2L603.1 764.3L604.6 764.4L606.1 764.5L607.7 764.6L609.2 764.7L610.7 764.8L612.2 764.9L613.7 765.0L615.2 765.1L616.7 765.2L618.3 765.3L619.8 765.4L621.3 765.5L622.8 765.6L624.4 765.7L625.9 765.8L627.4 765.9L628.9 766.0L630.5 766.2L632.0 766.3L633.5 766.5L635.0 766.6L636.5 766.8L638.0 767.0L639.6 767.2L641.1 767.4L642.6 767.7L644.1 767.9L645.6 768.2L647.0 768.5L648.5 768.9L649.9 769.3L651.3 769.8L652.7 770.3L654.0 771.0L655.2 771.7L656.4 772.5L657.5 773.4L658.6 774.5L659.5 775.6" fill="none" stroke="#A64BA2" stroke-width="2.5" stroke-linejoin="round" stroke-linecap="round" /><path d="M459.4 792.7L460.8 793.3L462.2 793.8L463.6 794.4L465.0 794.9L466.4 795.3L467.9 795.8L469.3 796.2L470.8 796.6L472.2 796.9L473.7 797.3L475.1 797.6L476.6 797.9L478.1 798.2L479.6 798.4L481.1 798.6L482.6 798.9L484.1 799.1L485.6 799.2L487.1 799.4L488.6 799.6L490.1 799.7L491.6 799.8L493.1 799.9L494.6 800.0L496.1 800.1L497.7 800.2L499.2 800.3L500.7 800.4L502.2 800.4L503.8 800.5L505.3 800.6L506.8 800.6L508.3 800.7L509.9 800.7L511.4 800.8L512.9 800.8L514.4 800.9L516.0 801.0L517.5 801.0L519.0 801.1L520.5 801.1L522.0 801.2L523.6 801.3L525.1 801.3L526.6 801.4L528.1 801.5L529.6 801.6L531.2 801.6L532.7 801.7L534.2 801.8L535.7 801.9L537.2 801.9L538.7 802.0L540.2 802.1L541.8 802.2L543.3 802.2L544.8 802.3L546.3 802.4L547.8 802.5L549.3 802.6L550.8 802.6L552.4 802.7L553.9 802.8L555.4 802.9L556.9 802.9L558.4 803.0L559.9 803.1L561.4 803.2L562.9 803.3L564.5 803.3L566.0 803.4L567.5 803.5L569.0 803.5L570.5 803.6L572.0 803.7L573.6 803.8L575.1 803.8L576.6 803.9L578.1 804.0L579.6 804.0L581.1 804.1L582.7 804.2L584.2 804.3L585.7 804.3L587.2 804.4L588.7 804.5L590.2 804.5L591.8 804.6L593.3 804.7L594.8 804.7L596.3 804.8L597.8 804.9L599.4 805.0L600.9 805.0L602.4 805.1L603.9 805.2L605.4 805.3L606.9 805.3L608.5 805.4L610.0 805.5L611.5 805.6L613.0 805.6L614.5 805.7L616.1 805.8L617.6 805.9L619.1 806.0L620.6 806.0L622.1 806.1L623.6 806.2L625.2 806.3L626.7 806.4L628.2 806.5L629.7 806.6L631.2 806.7L632.7 806.9L634.3 807.0L635.8 807.1L637.3 807.3L638.8 807.4L640.3 807.5L641.9 807.7L643.4 807.9L644.9 808.1L646.4 808.3L647.9 808.5L649.4 808.8L650.8 809.1L652.2 809.5L653.6 810.0L654.9 810.6L656.1 811.3L657.3 812.1L658.5 813.0L659.5 814.1" fill="none" stroke="#A64BA2" stroke-width="2.5" stroke-linejoin="round" stroke-linecap="round" /><path d="M459.4 837.8L460.8 838.2L462.3 838.6L463.8 838.9L465.2 839.3L466.7 839.6L468.2 839.9L469.6 840.1L471.1 840.4L472.6 840.6L474.1 840.8L475.6 841.0L477.1 841.2L478.6 841.4L480.1 841.6L481.6 841.7L483.1 841.8L484.6 841.9L486.1 842.1L487.6 842.2L489.1 842.2L490.6 842.3L492.1 842.4L493.7 842.5L495.2 842.5L496.7 842.6L498.2 842.6L499.8 842.6L501.3 842.7L502.8 842.7L504.3 842.7L505.8 842.8L507.4 842.8L508.9 842.8L510.4 842.8L511.9 842.9L513.5 842.9L515.0 842.9L516.5 843.0L518.0 843.0L519.5 843.0L521.1 843.1L522.6 843.1L524.1 843.1L525.6 843.2L527.1 843.2L528.6 843.3L530.1 843.3L531.7 843.3L533.2 843.4L534.7 843.4L536.2 843.5L537.7 843.5L539.2 843.6L540.7 843.6L542.3 843.7L543.8 843.7L545.3 843.8L546.8 843.8L548.3 843.9L549.8 843.9L551.3 843.9L552.8 844.0L554.4 844.0L555.9 844.1L557.4 844.1L558.9 844.2L560.4 844.2L561.9 844.3L563.5 844.3L565.0 844.4L566.5 844.4L568.0 844.4L569.5 844.5L571.1 844.5L572.6 844.6L574.1 844.6L575.6 844.6L577.2 844.7L578.7 844.7L580.2 844.8L581.7 844.8L583.2 844.9L584.8 844.9L586.3 845.0L587.8 845.0L589.3 845.1L590.8 845.1L592.3 845.2L593.8 845.3L595.4 845.3L596.9 845.4L598.4 845.5L599.9 845.6L601.4 845.6L602.9 845.7L604.4 845.8L605.9 845.9L607.4 846.0L608.9 846.0L610.4 846.1L611.9 846.2L613.5 846.3L615.0 846.4L616.5 846.5L618.0 846.5L619.5 846.6L621.0 846.7L622.6 846.8L624.1 846.8L625.6 846.9L627.2 847.0L628.7 847.0L630.2 847.1L631.7 847.2L633.3 847.3L634.8 847.4L636.3 847.5L637.8 847.7L639.4 847.8L640.9 848.0L642.4 848.1L643.9 848.3L645.4 848.6L646.9 848.8L648.4 849.1L649.8 849.4L651.3 849.7L652.7 850.1L654.1 850.6L655.4 851.1L656.7 851.8L657.9 852.6L658.9 853.5L659.9 854.6" fill="none" stroke="#A64BA2" stroke-width="2.5" stroke-linejoin="round" stroke-linecap="round" /><path d="M459.5 882.0L461.1 882.2L462.6 882.3L464.1 882.5L465.6 882.7L467.1 882.9L468.6 883.0L470.1 883.2L471.6 883.4L473.1 883.5L474.6 883.7L476.1 883.8L477.6 883.9L479.1 884.1L480.7 884.2L482.2 884.3L483.7 884.4L485.2 884.6L486.7 884.7L488.2 884.8L489.7 884.9L491.2 885.0L492.8 885.1L494.3 885.1L495.8 885.2L497.3 885.3L498.8 885.4L500.3 885.5L501.8 885.5L503.4 885.6L504.9 885.7L506.4 885.7L507.9 885.8L509.4 885.9L510.9 885.9L512.5 886.0L514.0 886.0L515.5 886.1L517.0 886.1L518.5 886.2L520.0 886.2L521.6 886.2L523.1 886.3L524.6 886.3L526.1 886.3L527.6 886.4L529.1 886.4L530.7 886.4L532.2 886.5L533.7 886.5L535.2 886.5L536.7 886.5L538.3 886.6L539.8 886.6L541.3 886.6L542.8 886.6L544.3 886.6L545.9 886.7L547.4 886.7L548.9 886.7L550.4 886.7L551.9 886.7L553.4 886.7L555.0 886.8L556.5 886.8L558.0 886.8L559.5 886.8L561.0 886.8L562.6 886.9L564.1 886.9L565.6 886.9L567.1 886.9L568.6 887.0L570.2 887.0L571.7 887.0L573.2 887.0L574.7 887.1L576.2 887.1L577.7 887.1L579.3 887.1L580.8 887.2L582.3 887.2L583.8 887.2L585.3 887.3L586.8 887.3L588.4 887.3L589.9 887.4L591.4 887.4L592.9 887.5L594.4 887.5L595.9 887.5L597.4 887.6L598.9 887.6L600.5 887.7L602.0 887.7L603.5 887.8L605.0 887.8L606.5 887.9L608.0 887.9L609.5 887.9L611.1 888.0L612.6 888.0L614.1 888.1L615.6 888.1L617.1 888.1L618.7 888.2L620.2 888.2L621.7 888.3L623.2 888.3L624.8 888.3L626.3 888.4L627.8 888.4L629.4 888.4L630.9 888.5L632.4 888.5L634.0 888.6L635.5 888.6L637.0 888.7L638.5 888.8L640.0 888.9L641.5 889.0L643.1 889.1L644.5 889.3L646.0 889.4L647.5 889.6L649.0 889.8L650.5 890.0L651.9 890.3L653.4 890.5L654.8 890.8L656.2 891.2L657.7 891.5L659.1 891.9L660.4 892.3" fill="none" stroke="#A64BA2" stroke-width="2.5" stroke-linejoin="round" stroke-linecap="round" /><path d="M459.6 926.2L461.1 926.3L462.6 926.4L464.1 926.5L465.6 926.6L467.1 926.7L468.7 926.8L470.2 926.9L471.7 927.0L473.2 927.1L474.7 927.1L476.2 927.2L477.7 927.3L479.3 927.4L480.8 927.4L482.3 927.5L483.8 927.6L485.3 927.6L486.8 927.7L488.4 927.7L489.9 927.8L491.4 927.8L492.9 927.9L494.4 927.9L495.9 928.0L497.5 928.0L499.0 928.1L500.5 928.1L502.0 928.1L503.5 928.2L505.0 928.2L506.6 928.2L508.1 928.3L509.6 928.3L511.1 928.3L512.6 928.3L514.1 928.3L515.7 928.4L517.2 928.4L518.7 928.4L520.2 928.4L521.7 928.4L523.2 928.4L524.8 928.4L526.3 928.5L527.8 928.5L529.3 928.5L530.8 928.5L532.4 928.5L533.9 928.5L535.4 928.5L536.9 928.5L538.4 928.5L539.9 928.5L541.5 928.5L543.0 928.5L544.5 928.5L546.0 928.5L547.5 928.5L549.1 928.5L550.6 928.5L552.1 928.5L553.6 928.5L555.1 928.5L556.6 928.5L558.2 928.5L559.7 928.5L561.2 928.6L562.7 928.6L564.2 928.6L565.8 928.6L567.3 928.6L568.8 928.6L570.3 928.6L571.8 928.6L573.4 928.6L574.9 928.6L576.4 928.6L577.9 928.6L579.4 928.7L580.9 928.7L582.5 928.7L584.0 928.7L585.5 928.7L587.0 928.7L588.5 928.8L590.0 928.8L591.6 928.8L593.1 928.8L594.6 928.8L596.1 928.9L597.6 928.9L599.1 928.9L600.6 928.9L602.2 929.0L603.7 929.0L605.2 929.0L606.7 929.0L608.2 929.1L609.7 929.1L611.2 929.1L612.7 929.1L614.3 929.1L615.8 929.2L617.3 929.2L618.8 929.2L620.4 929.2L621.9 929.2L623.4 929.2L624.9 929.2L626.5 929.2L628.0 929.2L629.5 929.2L631.1 929.2L632.6 929.2L634.1 929.3L635.7 929.3L637.2 929.3L638.7 929.4L640.2 929.4L641.7 929.5L643.2 929.6L644.8 929.7L646.2 929.8L647.7 929.9L649.2 930.1L650.7 930.3L652.2 930.5L653.6 930.7L655.1 930.9L656.5 931.2L657.9 931.5L659.3 931.9L660.7 932.3" fill="none" stroke="#A64BA2" stroke-width="2.5" stroke-linejoin="round" stroke-linecap="round" /><path d="M559.9 747.1L561.5 747.2L563.1 747.3L564.6 747.4L566.2 747.5L567.8 747.6L569.3 747.7L570.9 747.8L572.4 747.9L573.9 748.0L575.5 748.1L577.0 748.2L578.6 748.3L580.1 748.4L581.6 748.5L583.2 748.6L584.7 748.7L586.2 748.8L587.7 748.9L589.3 749.0L590.8 749.1L592.3 749.2L593.9 749.3L595.4 749.4L596.9 749.5L598.4 749.6L600.0 749.7L601.5 749.8L603.0 749.9L604.6 750.0L606.1 750.1L607.7 750.2L609.2 750.2L610.8 750.3L612.3 750.4L613.9 750.5L615.4 750.6L617.0 750.6L618.6 750.7L620.1 750.8L621.7 750.9L623.3 750.9L624.8 751.0L626.4 751.1L628.0 751.3L629.5 751.4L631.1 751.5L632.6 751.7L634.2 751.9L635.7 752.1L637.2 752.3L638.8 752.5L640.3 752.8L641.8 753.1L643.3 753.4L644.7 753.8L646.2 754.2L647.6 754.6L649.0 755.1L650.4 755.7L651.8 756.3L653.1 756.9L654.4 757.7L655.6 758.5L656.8 759.3L658.0 760.3L659.0 761.3L660.1 762.5" fill="none" stroke="#A64BA2" stroke-width="2.5" stroke-linejoin="round" stroke-linecap="round" /><path d="M762.5 747.2L761.0 747.2L759.5 747.2L757.9 747.3L756.4 747.3L754.9 747.3L753.3 747.4L751.8 747.4L750.3 747.4L748.8 747.4L747.2 747.5L745.7 747.5L744.2 747.5L742.7 747.6L741.1 747.6L739.6 747.6L738.1 747.7L736.6 747.7L735.1 747.8L733.5 747.8L732.0 747.9L730.5 747.9L729.0 748.0L727.5 748.0L725.9 748.1L724.4 748.2L722.9 748.3L721.4 748.4L719.9 748.4L718.4 748.5L716.9 748.6L715.3 748.8L713.8 748.9L712.3 749.0L710.8 749.1L709.3 749.3L707.8 749.4L706.3 749.6L704.8 749.8L703.2 750.0L701.7 750.1L700.2 750.3L698.7 750.5L697.2 750.7L695.7 750.9L694.2 751.1L692.6 751.3L691.1 751.5L689.6 751.7L688.1 751.9L686.5 752.1L685.0 752.3L683.5 752.4L681.9 752.6L680.4 752.8L678.9 753.0L677.4 753.3L675.9 753.5L674.4 753.8L672.9 754.0L671.4 754.4L670.0 754.7L668.6 755.1L667.2 755.6L665.9 756.1L664.5 756.7L663.3 757.4L662.1 758.1L660.9 759.0L659.7 759.9" fill="none" stroke="#A64BA2" stroke-width="2.5" stroke-linejoin="round" stroke-linecap="round" /><path d="M762.6 792.5L761.0 792.5L759.5 792.5L757.9 792.5L756.4 792.5L754.8 792.5L753.3 792.5L751.8 792.5L750.2 792.5L748.7 792.6L747.2 792.6L745.6 792.6L744.1 792.6L742.6 792.7L741.1 792.7L739.5 792.7L738.0 792.8L736.5 792.8L735.0 792.8L733.5 792.9L731.9 792.9L730.4 793.0L728.9 793.0L727.4 793.0L725.9 793.1L724.4 793.1L722.8 793.1L721.3 793.2L719.8 793.2L718.3 793.3L716.7 793.3L715.2 793.3L713.7 793.4L712.2 793.4L710.6 793.4L709.1 793.4L707.6 793.5L706.0 793.5L704.5 793.5L703.0 793.5L701.4 793.5L699.9 793.5L698.3 793.6L696.8 793.6L695.2 793.6L693.7 793.6L692.1 793.7L690.6 793.7L689.1 793.8L687.5 793.8L686.0 793.9L684.4 794.0L682.9 794.1L681.4 794.2L679.8 794.3L678.3 794.4L676.8 794.6L675.3 794.8L673.8 795.0L672.3 795.2L670.8 795.5L669.4 795.9L668.0 796.3L666.7 796.8L665.4 797.4L664.1 798.0L662.9 798.8L661.8 799.6L660.7 800.6L659.7 801.7" fill="none" stroke="#A64BA2" stroke-width="2.5" stroke-linejoin="round" stroke-linecap="round" /><path d="M762.5 837.1L761.0 837.1L759.4 837.0L757.9 837.0L756.3 837.0L754.8 837.0L753.2 837.0L751.7 837.0L750.1 837.0L748.6 837.0L747.0 837.0L745.5 837.1L744.0 837.1L742.4 837.1L740.9 837.1L739.4 837.1L737.8 837.2L736.3 837.2L734.8 837.2L733.2 837.2L731.7 837.3L730.2 837.3L728.6 837.3L727.1 837.4L725.6 837.4L724.0 837.4L722.5 837.4L721.0 837.5L719.4 837.5L717.9 837.5L716.4 837.6L714.8 837.6L713.3 837.6L711.7 837.6L710.2 837.7L708.6 837.7L707.1 837.7L705.6 837.7L704.0 837.7L702.4 837.7L700.9 837.7L699.3 837.8L697.8 837.8L696.2 837.8L694.7 837.8L693.1 837.8L691.5 837.9L690.0 837.9L688.4 838.0L686.9 838.0L685.3 838.1L683.8 838.2L682.2 838.3L680.7 838.4L679.2 838.5L677.6 838.7L676.1 838.8L674.6 839.0L673.1 839.2L671.6 839.5L670.2 839.8L668.7 840.2L667.3 840.6L665.9 841.1L664.6 841.6L663.3 842.3L662.1 843.1L660.9 843.9L659.7 844.9" fill="none" stroke="#A64BA2" stroke-width="2.5" stroke-linejoin="round" stroke-linecap="round" /><path d="M762.6 881.5L761.0 881.5L759.5 881.5L757.9 881.5L756.4 881.5L754.8 881.5L753.3 881.5L751.8 881.5L750.2 881.5L748.7 881.5L747.2 881.6L745.6 881.6L744.1 881.6L742.6 881.7L741.1 881.7L739.5 881.8L738.0 881.8L736.5 881.9L735.0 881.9L733.5 881.9L731.9 882.0L730.4 882.0L728.9 882.1L727.4 882.2L725.9 882.2L724.3 882.2L722.8 882.3L721.3 882.3L719.8 882.4L718.3 882.4L716.7 882.5L715.2 882.5L713.7 882.5L712.2 882.6L710.6 882.6L709.1 882.6L707.6 882.6L706.0 882.7L704.5 882.7L702.9 882.7L701.4 882.7L699.9 882.7L698.3 882.6L696.8 882.6L695.2 882.6L693.7 882.6L692.1 882.6L690.6 882.6L689.0 882.6L687.5 882.6L685.9 882.6L684.4 882.6L682.9 882.6L681.3 882.7L679.8 882.8L678.3 882.8L676.8 883.0L675.3 883.1L673.8 883.2L672.3 883.4L670.8 883.6L669.3 883.8L667.9 884.1L666.5 884.4L665.1 884.9L663.7 885.4L662.5 886.0L661.3 886.7L660.1 887.5" fill="none" stroke="#A64BA2" stroke-width="2.5" stroke-linejoin="round" stroke-linecap="round" /><path d="M762.5 926.6L761.0 926.6L759.4 926.6L757.9 926.6L756.3 926.6L754.8 926.6L753.3 926.6L751.7 926.6L750.2 926.6L748.7 926.7L747.1 926.7L745.6 926.7L744.1 926.8L742.5 926.8L741.0 926.9L739.5 926.9L737.9 926.9L736.4 927.0L734.9 927.0L733.4 927.1L731.8 927.1L730.3 927.2L728.8 927.2L727.3 927.3L725.7 927.3L724.2 927.4L722.7 927.4L721.1 927.5L719.6 927.5L718.1 927.5L716.6 927.6L715.0 927.6L713.5 927.6L712.0 927.6L710.4 927.6L708.9 927.6L707.4 927.6L705.8 927.6L704.3 927.6L702.7 927.6L701.2 927.6L699.6 927.5L698.1 927.5L696.5 927.4L695.0 927.4L693.4 927.3L691.9 927.3L690.3 927.2L688.8 927.2L687.2 927.1L685.7 927.1L684.2 927.1L682.6 927.0L681.1 927.0L679.6 927.0L678.0 927.0L676.5 927.1L675.0 927.1L673.5 927.2L672.0 927.3L670.5 927.4L669.0 927.6L667.6 927.8L666.1 928.0L664.7 928.2L663.2 928.5L661.8 928.8L660.4 929.2" fill="none" stroke="#A64BA2" stroke-width="2.5" stroke-linejoin="round" stroke-linecap="round" /><path d="M659.50 759.00C659.62 765.83 660.02 779.83 660.20 800.00C660.38 820.17 660.48 851.60 660.60 880.00C660.72 908.40 660.85 955.33 660.90 970.40" fill="none" stroke="#A64BA2" stroke-width="2.5" stroke-linejoin="round" stroke-linecap="round" /><path d="M458.8 970.7L762.5 970.7" fill="none" stroke="#A64BA2" stroke-width="2.5" stroke-linejoin="round" stroke-linecap="round" /></g><path d="M560.00 761.30L545.39 767.30L549.51 761.65L545.02 756.30Z" fill="#111111"/><path d="M550.40 802.60L535.38 807.48L539.91 802.16L535.84 796.49Z" fill="#111111"/><path d="M549.00 843.40L534.12 848.69L538.50 843.25L534.28 837.69Z" fill="#111111"/><path d="M550.40 886.80L535.49 891.99L539.90 886.58L535.72 880.99Z" fill="#111111"/><path d="M546.90 928.60L532.02 933.89L536.40 928.45L532.18 922.89Z" fill="#111111"/><path d="M539.40 971.00L524.60 976.50L528.90 971.00L524.60 965.50Z" fill="#111111"/><path d="M628.30 751.30L613.15 755.74L617.83 750.56L613.93 744.77Z" fill="#111111"/><path d="M682.20 753.00L695.91 745.17L692.56 751.30L697.70 756.03Z" fill="#111111"/><path d="M697.70 793.50L712.38 787.68L708.20 793.27L712.62 798.68Z" fill="#111111"/><path d="M705.50 837.50L720.22 831.79L716.00 837.35L720.38 842.79Z" fill="#111111"/><path d="M701.30 882.60L715.94 876.68L711.80 882.30L716.25 887.68Z" fill="#111111"/><path d="M707.70 927.60L722.42 921.89L718.20 927.45L722.58 932.89Z" fill="#111111"/><path d="M711.90 971.10L726.70 965.60L722.40 971.10L726.70 976.60Z" fill="#111111"/><path d="M660.90 874.80L655.40 860.00L660.90 864.30L666.40 860.00Z" fill="#111111"/><circle cx="458.60" cy="970.70" r="3.9" fill="#E52A2E"/><circle cx="660.90" cy="970.60" r="3.9" fill="#64C8BE"/>
<text x="593.76" y="1020.70" font-size="19.9">N</text><path d="M609.00 1016.00H625.40M620.50 1011.00Q622.15 1014.75 626.00 1016.00Q622.15 1017.25 620.50 1021.00" stroke="#222" stroke-width="0.85" fill="none"/>
<g transform="translate(419.70,873.50) rotate(-90)"><text x="-1.70" y="-0.3" font-size="19.4">P</text><path d="M12.80 -5.20H28.90M24.00 -10.20Q25.65 -6.45 29.50 -5.20Q25.65 -3.95 24.00 -0.20" stroke="#222" stroke-width="0.85" fill="none"/></g>
<g font-family="Liberation Serif, serif" font-size="23.0"><text x="470.74" y="1051.70" text-anchor="middle">(</text><text x="481.34" y="1051.70" text-anchor="middle">g</text><text x="491.94" y="1051.70" text-anchor="middle">)</text><text x="507.91" y="1051.70" font-style="italic" textLength="15.8" lengthAdjust="spacingAndGlyphs">R</text><text x="529.16" y="1056.00" text-anchor="middle" font-size="16.5">7</text><text x="546.05" y="1051.70" text-anchor="middle">:</text><text x="557.39" y="1051.70" font-style="italic" textLength="17.6" lengthAdjust="spacingAndGlyphs">K</text><path d="M584.20 1042.80H600.08M584.20 1048.00H600.08" stroke="#1a1a1a" stroke-width="1.35"/><text x="614.01" y="1051.70" text-anchor="middle">0</text><text x="623.28" y="1051.70" text-anchor="middle">.</text><text x="632.56" y="1051.70" text-anchor="middle">2</text><text x="641.84" y="1051.70" text-anchor="middle">,</text><text x="655.94" y="1051.70" text-anchor="middle" font-style="italic">a</text><path d="M669.71 1042.80H685.59M669.71 1048.00H685.59" stroke="#1a1a1a" stroke-width="1.35"/><text x="699.52" y="1051.70" text-anchor="middle">0</text><text x="708.79" y="1051.70" text-anchor="middle">.</text><text x="718.07" y="1051.70" text-anchor="middle">1</text></g>
</g></svg></div></body></html>
